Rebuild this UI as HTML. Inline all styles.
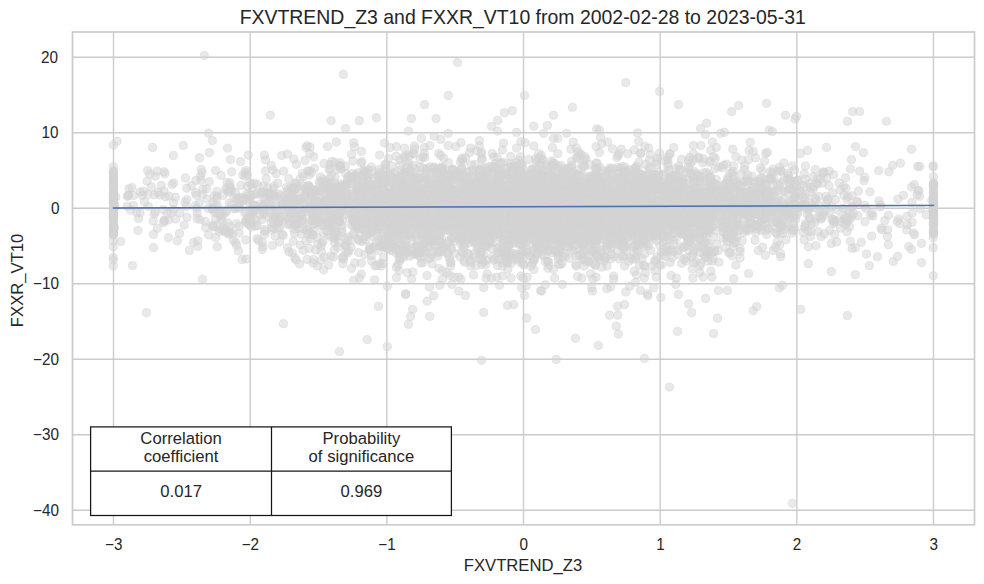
<!DOCTYPE html>
<html><head><meta charset="utf-8"><title>chart</title>
<style>
html,body{margin:0;padding:0;background:#fff;}
body{width:984px;height:584px;overflow:hidden;}
svg{display:block;font-family:"Liberation Sans",sans-serif;fill:#262626;}
</style></head><body>
<svg width="984" height="584" viewBox="0 0 984 584">
<rect width="984" height="584" fill="#fff"/>
<g stroke="#cccccc" stroke-width="1.39" fill="none"><line x1="113.50" y1="32.0" x2="113.50" y2="524.8"/><line x1="250.17" y1="32.0" x2="250.17" y2="524.8"/><line x1="386.83" y1="32.0" x2="386.83" y2="524.8"/><line x1="523.50" y1="32.0" x2="523.50" y2="524.8"/><line x1="660.17" y1="32.0" x2="660.17" y2="524.8"/><line x1="796.83" y1="32.0" x2="796.83" y2="524.8"/><line x1="933.50" y1="32.0" x2="933.50" y2="524.8"/><line x1="72.5" y1="57.30" x2="974.5" y2="57.30"/><line x1="72.5" y1="132.80" x2="974.5" y2="132.80"/><line x1="72.5" y1="208.30" x2="974.5" y2="208.30"/><line x1="72.5" y1="283.80" x2="974.5" y2="283.80"/><line x1="72.5" y1="359.30" x2="974.5" y2="359.30"/><line x1="72.5" y1="434.80" x2="974.5" y2="434.80"/><line x1="72.5" y1="510.30" x2="974.5" y2="510.30"/></g>
<g fill="#d3d3d3" fill-opacity=".5" stroke="#d3d3d3" stroke-opacity=".5" stroke-width="1"><circle cx="540.1" cy="202.3" r="4.1"/><circle cx="583.2" cy="235.9" r="4.1"/><circle cx="500.2" cy="223.3" r="4.1"/><circle cx="410.9" cy="235.0" r="4.1"/><circle cx="474.0" cy="235.6" r="4.1"/><circle cx="396.2" cy="221.8" r="4.1"/><circle cx="548.6" cy="228.2" r="4.1"/><circle cx="734.1" cy="195.6" r="4.1"/><circle cx="468.6" cy="189.8" r="4.1"/><circle cx="450.0" cy="212.2" r="4.1"/><circle cx="610.9" cy="231.2" r="4.1"/><circle cx="591.6" cy="189.6" r="4.1"/><circle cx="555.2" cy="250.7" r="4.1"/><circle cx="405.1" cy="248.7" r="4.1"/><circle cx="535.7" cy="191.3" r="4.1"/><circle cx="640.6" cy="192.8" r="4.1"/><circle cx="345.2" cy="185.9" r="4.1"/><circle cx="473.6" cy="211.7" r="4.1"/><circle cx="264.5" cy="234.3" r="4.1"/><circle cx="353.1" cy="218.0" r="4.1"/><circle cx="273.1" cy="194.7" r="4.1"/><circle cx="505.8" cy="223.6" r="4.1"/><circle cx="356.3" cy="222.2" r="4.1"/><circle cx="579.2" cy="237.1" r="4.1"/><circle cx="562.6" cy="232.1" r="4.1"/><circle cx="512.8" cy="188.8" r="4.1"/><circle cx="175.3" cy="197.2" r="4.1"/><circle cx="461.9" cy="232.1" r="4.1"/><circle cx="532.9" cy="230.3" r="4.1"/><circle cx="556.3" cy="219.1" r="4.1"/><circle cx="318.2" cy="195.2" r="4.1"/><circle cx="470.7" cy="232.2" r="4.1"/><circle cx="398.1" cy="210.6" r="4.1"/><circle cx="422.7" cy="253.3" r="4.1"/><circle cx="693.6" cy="234.2" r="4.1"/><circle cx="422.9" cy="197.9" r="4.1"/><circle cx="535.2" cy="187.6" r="4.1"/><circle cx="668.0" cy="232.0" r="4.1"/><circle cx="455.4" cy="223.7" r="4.1"/><circle cx="523.7" cy="189.8" r="4.1"/><circle cx="555.9" cy="215.4" r="4.1"/><circle cx="549.1" cy="218.7" r="4.1"/><circle cx="362.4" cy="195.8" r="4.1"/><circle cx="550.9" cy="202.8" r="4.1"/><circle cx="736.7" cy="183.0" r="4.1"/><circle cx="315.8" cy="189.8" r="4.1"/><circle cx="664.4" cy="219.4" r="4.1"/><circle cx="557.2" cy="209.6" r="4.1"/><circle cx="447.0" cy="208.3" r="4.1"/><circle cx="650.3" cy="228.0" r="4.1"/><circle cx="366.2" cy="186.0" r="4.1"/><circle cx="550.7" cy="241.3" r="4.1"/><circle cx="623.4" cy="185.5" r="4.1"/><circle cx="512.6" cy="200.8" r="4.1"/><circle cx="638.8" cy="210.0" r="4.1"/><circle cx="530.3" cy="195.3" r="4.1"/><circle cx="636.6" cy="196.7" r="4.1"/><circle cx="748.3" cy="180.8" r="4.1"/><circle cx="442.0" cy="215.6" r="4.1"/><circle cx="569.3" cy="211.9" r="4.1"/><circle cx="472.8" cy="212.3" r="4.1"/><circle cx="558.3" cy="166.3" r="4.1"/><circle cx="367.9" cy="186.5" r="4.1"/><circle cx="456.0" cy="226.9" r="4.1"/><circle cx="511.5" cy="214.1" r="4.1"/><circle cx="670.1" cy="222.2" r="4.1"/><circle cx="705.8" cy="206.6" r="4.1"/><circle cx="348.2" cy="202.3" r="4.1"/><circle cx="424.8" cy="157.4" r="4.1"/><circle cx="633.6" cy="246.3" r="4.1"/><circle cx="251.3" cy="184.7" r="4.1"/><circle cx="472.8" cy="197.5" r="4.1"/><circle cx="525.8" cy="222.1" r="4.1"/><circle cx="722.0" cy="210.1" r="4.1"/><circle cx="639.8" cy="217.6" r="4.1"/><circle cx="492.5" cy="205.8" r="4.1"/><circle cx="486.5" cy="185.2" r="4.1"/><circle cx="503.7" cy="239.7" r="4.1"/><circle cx="760.6" cy="178.5" r="4.1"/><circle cx="477.9" cy="214.9" r="4.1"/><circle cx="495.9" cy="174.4" r="4.1"/><circle cx="591.0" cy="198.0" r="4.1"/><circle cx="522.4" cy="180.2" r="4.1"/><circle cx="511.3" cy="194.6" r="4.1"/><circle cx="378.5" cy="183.4" r="4.1"/><circle cx="538.2" cy="205.6" r="4.1"/><circle cx="475.6" cy="224.8" r="4.1"/><circle cx="708.8" cy="192.3" r="4.1"/><circle cx="634.5" cy="191.5" r="4.1"/><circle cx="536.4" cy="161.5" r="4.1"/><circle cx="636.7" cy="250.0" r="4.1"/><circle cx="490.7" cy="211.1" r="4.1"/><circle cx="692.3" cy="183.9" r="4.1"/><circle cx="539.1" cy="233.8" r="4.1"/><circle cx="624.4" cy="211.7" r="4.1"/><circle cx="352.9" cy="161.1" r="4.1"/><circle cx="590.1" cy="176.2" r="4.1"/><circle cx="295.3" cy="225.7" r="4.1"/><circle cx="245.0" cy="176.0" r="4.1"/><circle cx="495.8" cy="181.2" r="4.1"/><circle cx="409.5" cy="190.0" r="4.1"/><circle cx="563.7" cy="198.5" r="4.1"/><circle cx="419.4" cy="225.5" r="4.1"/><circle cx="449.5" cy="217.9" r="4.1"/><circle cx="569.7" cy="190.9" r="4.1"/><circle cx="611.3" cy="203.7" r="4.1"/><circle cx="514.3" cy="166.8" r="4.1"/><circle cx="510.1" cy="213.9" r="4.1"/><circle cx="641.7" cy="258.4" r="4.1"/><circle cx="615.2" cy="213.9" r="4.1"/><circle cx="390.2" cy="200.7" r="4.1"/><circle cx="528.4" cy="198.4" r="4.1"/><circle cx="545.0" cy="205.2" r="4.1"/><circle cx="387.1" cy="224.4" r="4.1"/><circle cx="577.5" cy="174.4" r="4.1"/><circle cx="415.6" cy="221.0" r="4.1"/><circle cx="680.7" cy="191.3" r="4.1"/><circle cx="567.8" cy="212.8" r="4.1"/><circle cx="552.8" cy="232.4" r="4.1"/><circle cx="454.3" cy="176.2" r="4.1"/><circle cx="522.7" cy="260.7" r="4.1"/><circle cx="250.5" cy="225.0" r="4.1"/><circle cx="376.0" cy="197.3" r="4.1"/><circle cx="592.5" cy="214.3" r="4.1"/><circle cx="231.5" cy="190.4" r="4.1"/><circle cx="662.5" cy="208.7" r="4.1"/><circle cx="286.9" cy="216.3" r="4.1"/><circle cx="649.5" cy="160.0" r="4.1"/><circle cx="417.4" cy="211.3" r="4.1"/><circle cx="652.8" cy="210.0" r="4.1"/><circle cx="558.9" cy="229.9" r="4.1"/><circle cx="317.3" cy="222.6" r="4.1"/><circle cx="720.9" cy="192.5" r="4.1"/><circle cx="748.8" cy="194.4" r="4.1"/><circle cx="530.4" cy="206.5" r="4.1"/><circle cx="500.2" cy="221.6" r="4.1"/><circle cx="516.7" cy="191.7" r="4.1"/><circle cx="398.6" cy="243.2" r="4.1"/><circle cx="699.0" cy="213.8" r="4.1"/><circle cx="461.3" cy="211.9" r="4.1"/><circle cx="532.5" cy="224.7" r="4.1"/><circle cx="425.0" cy="203.2" r="4.1"/><circle cx="449.2" cy="220.8" r="4.1"/><circle cx="354.8" cy="223.7" r="4.1"/><circle cx="722.0" cy="167.6" r="4.1"/><circle cx="517.6" cy="190.4" r="4.1"/><circle cx="679.8" cy="180.6" r="4.1"/><circle cx="541.8" cy="205.3" r="4.1"/><circle cx="439.3" cy="185.6" r="4.1"/><circle cx="492.6" cy="189.5" r="4.1"/><circle cx="458.7" cy="180.2" r="4.1"/><circle cx="541.1" cy="155.3" r="4.1"/><circle cx="485.5" cy="211.2" r="4.1"/><circle cx="496.5" cy="200.7" r="4.1"/><circle cx="340.2" cy="207.4" r="4.1"/><circle cx="442.7" cy="205.8" r="4.1"/><circle cx="387.2" cy="192.6" r="4.1"/><circle cx="588.8" cy="218.6" r="4.1"/><circle cx="743.8" cy="181.8" r="4.1"/><circle cx="329.3" cy="178.6" r="4.1"/><circle cx="509.7" cy="215.1" r="4.1"/><circle cx="448.3" cy="175.5" r="4.1"/><circle cx="646.4" cy="196.2" r="4.1"/><circle cx="536.5" cy="227.3" r="4.1"/><circle cx="550.2" cy="174.5" r="4.1"/><circle cx="430.9" cy="209.6" r="4.1"/><circle cx="605.8" cy="214.2" r="4.1"/><circle cx="461.8" cy="203.6" r="4.1"/><circle cx="519.2" cy="217.7" r="4.1"/><circle cx="379.3" cy="183.0" r="4.1"/><circle cx="363.7" cy="189.3" r="4.1"/><circle cx="733.4" cy="179.8" r="4.1"/><circle cx="466.4" cy="193.5" r="4.1"/><circle cx="582.2" cy="223.1" r="4.1"/><circle cx="535.0" cy="209.5" r="4.1"/><circle cx="476.0" cy="187.2" r="4.1"/><circle cx="466.3" cy="214.8" r="4.1"/><circle cx="496.2" cy="211.2" r="4.1"/><circle cx="518.0" cy="218.7" r="4.1"/><circle cx="543.1" cy="181.3" r="4.1"/><circle cx="710.3" cy="189.9" r="4.1"/><circle cx="638.5" cy="206.6" r="4.1"/><circle cx="595.3" cy="211.0" r="4.1"/><circle cx="458.3" cy="196.9" r="4.1"/><circle cx="339.7" cy="188.1" r="4.1"/><circle cx="677.5" cy="189.6" r="4.1"/><circle cx="679.9" cy="212.5" r="4.1"/><circle cx="519.5" cy="196.7" r="4.1"/><circle cx="618.4" cy="187.9" r="4.1"/><circle cx="653.1" cy="189.6" r="4.1"/><circle cx="673.4" cy="225.2" r="4.1"/><circle cx="473.9" cy="222.7" r="4.1"/><circle cx="759.4" cy="211.0" r="4.1"/><circle cx="359.3" cy="202.2" r="4.1"/><circle cx="664.7" cy="186.2" r="4.1"/><circle cx="611.5" cy="192.7" r="4.1"/><circle cx="666.5" cy="208.8" r="4.1"/><circle cx="812.1" cy="205.5" r="4.1"/><circle cx="374.0" cy="219.2" r="4.1"/><circle cx="295.3" cy="199.5" r="4.1"/><circle cx="658.2" cy="172.3" r="4.1"/><circle cx="392.9" cy="198.6" r="4.1"/><circle cx="538.1" cy="250.0" r="4.1"/><circle cx="661.5" cy="198.0" r="4.1"/><circle cx="301.8" cy="214.4" r="4.1"/><circle cx="234.2" cy="208.5" r="4.1"/><circle cx="577.5" cy="183.4" r="4.1"/><circle cx="546.3" cy="195.9" r="4.1"/><circle cx="504.3" cy="211.7" r="4.1"/><circle cx="545.5" cy="186.8" r="4.1"/><circle cx="415.2" cy="196.7" r="4.1"/><circle cx="320.6" cy="203.8" r="4.1"/><circle cx="515.8" cy="199.6" r="4.1"/><circle cx="399.1" cy="200.6" r="4.1"/><circle cx="301.8" cy="213.3" r="4.1"/><circle cx="613.2" cy="215.9" r="4.1"/><circle cx="531.0" cy="205.5" r="4.1"/><circle cx="598.8" cy="226.6" r="4.1"/><circle cx="396.6" cy="233.1" r="4.1"/><circle cx="444.6" cy="178.0" r="4.1"/><circle cx="395.2" cy="211.2" r="4.1"/><circle cx="411.5" cy="206.6" r="4.1"/><circle cx="568.2" cy="208.9" r="4.1"/><circle cx="426.5" cy="205.5" r="4.1"/><circle cx="591.5" cy="205.5" r="4.1"/><circle cx="589.1" cy="204.6" r="4.1"/><circle cx="833.3" cy="223.4" r="4.1"/><circle cx="338.1" cy="186.0" r="4.1"/><circle cx="668.5" cy="220.9" r="4.1"/><circle cx="526.9" cy="183.8" r="4.1"/><circle cx="537.9" cy="247.3" r="4.1"/><circle cx="329.9" cy="228.9" r="4.1"/><circle cx="473.2" cy="184.7" r="4.1"/><circle cx="647.6" cy="209.2" r="4.1"/><circle cx="528.0" cy="220.5" r="4.1"/><circle cx="551.6" cy="198.0" r="4.1"/><circle cx="497.8" cy="228.5" r="4.1"/><circle cx="707.2" cy="204.4" r="4.1"/><circle cx="536.8" cy="253.7" r="4.1"/><circle cx="221.1" cy="215.8" r="4.1"/><circle cx="439.6" cy="220.0" r="4.1"/><circle cx="254.7" cy="194.4" r="4.1"/><circle cx="113.5" cy="187.2" r="4.1"/><circle cx="463.1" cy="224.4" r="4.1"/><circle cx="733.1" cy="171.4" r="4.1"/><circle cx="546.7" cy="218.8" r="4.1"/><circle cx="370.0" cy="250.3" r="4.1"/><circle cx="403.6" cy="257.2" r="4.1"/><circle cx="703.7" cy="172.9" r="4.1"/><circle cx="562.7" cy="207.9" r="4.1"/><circle cx="546.9" cy="220.0" r="4.1"/><circle cx="532.2" cy="222.1" r="4.1"/><circle cx="545.5" cy="229.5" r="4.1"/><circle cx="656.6" cy="176.9" r="4.1"/><circle cx="619.9" cy="207.8" r="4.1"/><circle cx="571.1" cy="167.5" r="4.1"/><circle cx="388.8" cy="210.3" r="4.1"/><circle cx="613.9" cy="256.6" r="4.1"/><circle cx="440.8" cy="187.9" r="4.1"/><circle cx="698.4" cy="214.0" r="4.1"/><circle cx="355.8" cy="211.1" r="4.1"/><circle cx="520.0" cy="172.3" r="4.1"/><circle cx="538.8" cy="211.7" r="4.1"/><circle cx="348.0" cy="181.0" r="4.1"/><circle cx="789.4" cy="206.1" r="4.1"/><circle cx="751.5" cy="222.2" r="4.1"/><circle cx="472.7" cy="195.1" r="4.1"/><circle cx="651.7" cy="219.0" r="4.1"/><circle cx="594.8" cy="179.6" r="4.1"/><circle cx="161.3" cy="185.4" r="4.1"/><circle cx="576.2" cy="204.7" r="4.1"/><circle cx="531.0" cy="192.9" r="4.1"/><circle cx="552.0" cy="193.9" r="4.1"/><circle cx="383.9" cy="212.0" r="4.1"/><circle cx="500.9" cy="186.8" r="4.1"/><circle cx="514.1" cy="210.9" r="4.1"/><circle cx="712.0" cy="192.8" r="4.1"/><circle cx="588.3" cy="226.5" r="4.1"/><circle cx="539.1" cy="203.8" r="4.1"/><circle cx="761.4" cy="197.1" r="4.1"/><circle cx="459.5" cy="223.0" r="4.1"/><circle cx="483.5" cy="215.0" r="4.1"/><circle cx="276.7" cy="217.5" r="4.1"/><circle cx="767.2" cy="190.3" r="4.1"/><circle cx="679.6" cy="221.5" r="4.1"/><circle cx="672.7" cy="196.5" r="4.1"/><circle cx="636.8" cy="173.1" r="4.1"/><circle cx="555.9" cy="198.3" r="4.1"/><circle cx="571.1" cy="240.6" r="4.1"/><circle cx="503.4" cy="203.2" r="4.1"/><circle cx="510.4" cy="183.5" r="4.1"/><circle cx="547.8" cy="212.1" r="4.1"/><circle cx="758.9" cy="182.0" r="4.1"/><circle cx="620.4" cy="192.6" r="4.1"/><circle cx="531.4" cy="196.8" r="4.1"/><circle cx="456.0" cy="211.5" r="4.1"/><circle cx="447.9" cy="216.9" r="4.1"/><circle cx="772.1" cy="211.4" r="4.1"/><circle cx="613.3" cy="204.5" r="4.1"/><circle cx="549.7" cy="194.6" r="4.1"/><circle cx="489.7" cy="196.8" r="4.1"/><circle cx="379.2" cy="212.3" r="4.1"/><circle cx="530.2" cy="204.4" r="4.1"/><circle cx="666.5" cy="197.5" r="4.1"/><circle cx="483.0" cy="240.8" r="4.1"/><circle cx="507.0" cy="222.3" r="4.1"/><circle cx="507.9" cy="223.0" r="4.1"/><circle cx="555.8" cy="210.2" r="4.1"/><circle cx="309.1" cy="211.7" r="4.1"/><circle cx="505.8" cy="211.3" r="4.1"/><circle cx="416.1" cy="224.5" r="4.1"/><circle cx="668.0" cy="191.3" r="4.1"/><circle cx="428.3" cy="199.8" r="4.1"/><circle cx="623.5" cy="241.1" r="4.1"/><circle cx="760.7" cy="205.4" r="4.1"/><circle cx="494.5" cy="230.0" r="4.1"/><circle cx="452.8" cy="169.1" r="4.1"/><circle cx="567.6" cy="215.5" r="4.1"/><circle cx="539.6" cy="214.2" r="4.1"/><circle cx="396.0" cy="203.9" r="4.1"/><circle cx="606.7" cy="210.0" r="4.1"/><circle cx="831.9" cy="206.9" r="4.1"/><circle cx="502.5" cy="172.4" r="4.1"/><circle cx="510.5" cy="200.8" r="4.1"/><circle cx="388.5" cy="187.7" r="4.1"/><circle cx="586.1" cy="181.4" r="4.1"/><circle cx="359.3" cy="226.6" r="4.1"/><circle cx="379.5" cy="169.3" r="4.1"/><circle cx="725.3" cy="190.9" r="4.1"/><circle cx="408.7" cy="185.1" r="4.1"/><circle cx="696.6" cy="224.2" r="4.1"/><circle cx="760.7" cy="188.1" r="4.1"/><circle cx="577.5" cy="196.8" r="4.1"/><circle cx="620.1" cy="217.2" r="4.1"/><circle cx="511.4" cy="193.4" r="4.1"/><circle cx="454.0" cy="210.8" r="4.1"/><circle cx="343.9" cy="201.5" r="4.1"/><circle cx="545.9" cy="186.1" r="4.1"/><circle cx="754.2" cy="181.3" r="4.1"/><circle cx="678.9" cy="193.1" r="4.1"/><circle cx="403.4" cy="179.4" r="4.1"/><circle cx="416.0" cy="174.0" r="4.1"/><circle cx="466.9" cy="232.2" r="4.1"/><circle cx="582.2" cy="216.1" r="4.1"/><circle cx="510.2" cy="225.8" r="4.1"/><circle cx="571.0" cy="203.5" r="4.1"/><circle cx="582.9" cy="174.6" r="4.1"/><circle cx="496.6" cy="191.6" r="4.1"/><circle cx="534.1" cy="228.1" r="4.1"/><circle cx="569.8" cy="211.9" r="4.1"/><circle cx="527.7" cy="183.5" r="4.1"/><circle cx="612.8" cy="217.0" r="4.1"/><circle cx="810.9" cy="207.7" r="4.1"/><circle cx="625.7" cy="199.1" r="4.1"/><circle cx="548.0" cy="244.8" r="4.1"/><circle cx="295.6" cy="188.8" r="4.1"/><circle cx="596.1" cy="198.2" r="4.1"/><circle cx="257.9" cy="193.4" r="4.1"/><circle cx="335.8" cy="226.7" r="4.1"/><circle cx="663.7" cy="222.1" r="4.1"/><circle cx="642.2" cy="218.4" r="4.1"/><circle cx="518.2" cy="200.2" r="4.1"/><circle cx="292.2" cy="204.1" r="4.1"/><circle cx="486.1" cy="202.9" r="4.1"/><circle cx="441.6" cy="167.1" r="4.1"/><circle cx="632.2" cy="177.5" r="4.1"/><circle cx="571.3" cy="219.7" r="4.1"/><circle cx="427.0" cy="168.7" r="4.1"/><circle cx="370.3" cy="212.4" r="4.1"/><circle cx="531.8" cy="175.9" r="4.1"/><circle cx="514.3" cy="171.2" r="4.1"/><circle cx="373.1" cy="217.3" r="4.1"/><circle cx="556.8" cy="211.4" r="4.1"/><circle cx="373.2" cy="203.8" r="4.1"/><circle cx="701.0" cy="224.2" r="4.1"/><circle cx="693.8" cy="226.6" r="4.1"/><circle cx="697.0" cy="214.2" r="4.1"/><circle cx="471.2" cy="187.3" r="4.1"/><circle cx="614.4" cy="215.2" r="4.1"/><circle cx="520.8" cy="210.0" r="4.1"/><circle cx="483.6" cy="215.6" r="4.1"/><circle cx="490.8" cy="235.0" r="4.1"/><circle cx="351.6" cy="173.7" r="4.1"/><circle cx="330.7" cy="256.0" r="4.1"/><circle cx="655.0" cy="219.7" r="4.1"/><circle cx="512.2" cy="193.6" r="4.1"/><circle cx="571.3" cy="235.6" r="4.1"/><circle cx="685.0" cy="192.6" r="4.1"/><circle cx="288.8" cy="178.7" r="4.1"/><circle cx="426.3" cy="224.1" r="4.1"/><circle cx="565.3" cy="201.1" r="4.1"/><circle cx="596.7" cy="229.5" r="4.1"/><circle cx="485.3" cy="194.7" r="4.1"/><circle cx="689.0" cy="203.7" r="4.1"/><circle cx="570.4" cy="201.0" r="4.1"/><circle cx="364.1" cy="176.2" r="4.1"/><circle cx="405.1" cy="195.5" r="4.1"/><circle cx="656.6" cy="176.7" r="4.1"/><circle cx="607.1" cy="192.0" r="4.1"/><circle cx="264.8" cy="231.4" r="4.1"/><circle cx="735.1" cy="200.0" r="4.1"/><circle cx="626.5" cy="195.1" r="4.1"/><circle cx="734.5" cy="236.7" r="4.1"/><circle cx="484.3" cy="176.9" r="4.1"/><circle cx="497.1" cy="204.2" r="4.1"/><circle cx="376.7" cy="197.7" r="4.1"/><circle cx="907.4" cy="224.9" r="4.1"/><circle cx="514.5" cy="204.1" r="4.1"/><circle cx="769.9" cy="199.2" r="4.1"/><circle cx="446.1" cy="212.6" r="4.1"/><circle cx="563.6" cy="203.9" r="4.1"/><circle cx="484.4" cy="176.3" r="4.1"/><circle cx="682.4" cy="229.6" r="4.1"/><circle cx="358.6" cy="252.6" r="4.1"/><circle cx="695.2" cy="226.3" r="4.1"/><circle cx="588.8" cy="223.6" r="4.1"/><circle cx="388.7" cy="193.9" r="4.1"/><circle cx="467.2" cy="225.3" r="4.1"/><circle cx="473.4" cy="199.5" r="4.1"/><circle cx="532.7" cy="226.3" r="4.1"/><circle cx="462.2" cy="158.1" r="4.1"/><circle cx="420.1" cy="193.9" r="4.1"/><circle cx="495.8" cy="163.5" r="4.1"/><circle cx="391.1" cy="227.5" r="4.1"/><circle cx="353.1" cy="191.4" r="4.1"/><circle cx="532.9" cy="226.2" r="4.1"/><circle cx="667.8" cy="193.2" r="4.1"/><circle cx="318.3" cy="191.1" r="4.1"/><circle cx="540.4" cy="240.0" r="4.1"/><circle cx="445.7" cy="230.1" r="4.1"/><circle cx="398.3" cy="230.8" r="4.1"/><circle cx="663.5" cy="238.0" r="4.1"/><circle cx="464.8" cy="221.4" r="4.1"/><circle cx="757.0" cy="226.3" r="4.1"/><circle cx="426.9" cy="236.8" r="4.1"/><circle cx="595.9" cy="203.6" r="4.1"/><circle cx="507.0" cy="194.0" r="4.1"/><circle cx="430.7" cy="234.0" r="4.1"/><circle cx="625.0" cy="217.7" r="4.1"/><circle cx="517.4" cy="205.6" r="4.1"/><circle cx="627.3" cy="210.7" r="4.1"/><circle cx="533.0" cy="220.8" r="4.1"/><circle cx="382.6" cy="188.3" r="4.1"/><circle cx="525.1" cy="187.5" r="4.1"/><circle cx="547.4" cy="191.1" r="4.1"/><circle cx="678.7" cy="210.2" r="4.1"/><circle cx="408.6" cy="163.0" r="4.1"/><circle cx="534.2" cy="168.3" r="4.1"/><circle cx="290.5" cy="214.4" r="4.1"/><circle cx="634.3" cy="208.4" r="4.1"/><circle cx="383.2" cy="180.2" r="4.1"/><circle cx="278.2" cy="223.0" r="4.1"/><circle cx="531.3" cy="197.2" r="4.1"/><circle cx="700.1" cy="204.8" r="4.1"/><circle cx="319.1" cy="220.9" r="4.1"/><circle cx="382.3" cy="210.8" r="4.1"/><circle cx="432.2" cy="239.6" r="4.1"/><circle cx="376.3" cy="217.5" r="4.1"/><circle cx="594.9" cy="248.8" r="4.1"/><circle cx="422.9" cy="156.8" r="4.1"/><circle cx="435.4" cy="173.4" r="4.1"/><circle cx="624.4" cy="179.4" r="4.1"/><circle cx="430.5" cy="199.3" r="4.1"/><circle cx="602.6" cy="184.4" r="4.1"/><circle cx="399.2" cy="178.5" r="4.1"/><circle cx="364.3" cy="184.0" r="4.1"/><circle cx="274.0" cy="186.1" r="4.1"/><circle cx="493.5" cy="196.7" r="4.1"/><circle cx="575.2" cy="217.4" r="4.1"/><circle cx="535.4" cy="231.3" r="4.1"/><circle cx="563.1" cy="230.5" r="4.1"/><circle cx="547.1" cy="196.7" r="4.1"/><circle cx="816.3" cy="183.3" r="4.1"/><circle cx="389.4" cy="235.3" r="4.1"/><circle cx="314.3" cy="168.4" r="4.1"/><circle cx="393.3" cy="174.3" r="4.1"/><circle cx="346.5" cy="214.1" r="4.1"/><circle cx="648.1" cy="215.9" r="4.1"/><circle cx="658.7" cy="207.5" r="4.1"/><circle cx="400.6" cy="184.8" r="4.1"/><circle cx="338.5" cy="214.2" r="4.1"/><circle cx="488.5" cy="229.8" r="4.1"/><circle cx="741.4" cy="198.6" r="4.1"/><circle cx="616.2" cy="203.0" r="4.1"/><circle cx="384.1" cy="181.1" r="4.1"/><circle cx="690.6" cy="199.4" r="4.1"/><circle cx="383.7" cy="189.2" r="4.1"/><circle cx="498.6" cy="195.4" r="4.1"/><circle cx="321.7" cy="190.4" r="4.1"/><circle cx="398.3" cy="202.9" r="4.1"/><circle cx="740.7" cy="223.9" r="4.1"/><circle cx="658.8" cy="210.9" r="4.1"/><circle cx="481.7" cy="207.6" r="4.1"/><circle cx="413.8" cy="178.9" r="4.1"/><circle cx="265.5" cy="171.0" r="4.1"/><circle cx="482.9" cy="197.0" r="4.1"/><circle cx="535.4" cy="222.2" r="4.1"/><circle cx="527.7" cy="221.7" r="4.1"/><circle cx="526.3" cy="210.1" r="4.1"/><circle cx="377.4" cy="176.2" r="4.1"/><circle cx="530.3" cy="198.8" r="4.1"/><circle cx="534.3" cy="207.2" r="4.1"/><circle cx="726.9" cy="222.5" r="4.1"/><circle cx="810.3" cy="187.0" r="4.1"/><circle cx="520.1" cy="199.8" r="4.1"/><circle cx="428.9" cy="207.1" r="4.1"/><circle cx="530.5" cy="203.8" r="4.1"/><circle cx="451.9" cy="169.7" r="4.1"/><circle cx="432.3" cy="209.5" r="4.1"/><circle cx="531.4" cy="169.7" r="4.1"/><circle cx="388.8" cy="179.3" r="4.1"/><circle cx="627.7" cy="204.9" r="4.1"/><circle cx="524.8" cy="187.0" r="4.1"/><circle cx="576.1" cy="208.7" r="4.1"/><circle cx="513.4" cy="223.9" r="4.1"/><circle cx="434.5" cy="211.8" r="4.1"/><circle cx="402.6" cy="225.6" r="4.1"/><circle cx="505.5" cy="195.0" r="4.1"/><circle cx="460.4" cy="205.7" r="4.1"/><circle cx="573.8" cy="193.8" r="4.1"/><circle cx="539.3" cy="188.2" r="4.1"/><circle cx="549.6" cy="199.3" r="4.1"/><circle cx="345.4" cy="244.8" r="4.1"/><circle cx="450.6" cy="202.4" r="4.1"/><circle cx="497.3" cy="224.9" r="4.1"/><circle cx="239.3" cy="203.8" r="4.1"/><circle cx="553.2" cy="176.7" r="4.1"/><circle cx="561.8" cy="242.8" r="4.1"/><circle cx="517.0" cy="201.9" r="4.1"/><circle cx="478.4" cy="207.7" r="4.1"/><circle cx="485.8" cy="246.8" r="4.1"/><circle cx="398.4" cy="192.1" r="4.1"/><circle cx="500.8" cy="205.3" r="4.1"/><circle cx="459.8" cy="217.0" r="4.1"/><circle cx="553.2" cy="221.6" r="4.1"/><circle cx="574.0" cy="214.5" r="4.1"/><circle cx="560.6" cy="244.8" r="4.1"/><circle cx="519.4" cy="226.1" r="4.1"/><circle cx="476.3" cy="213.9" r="4.1"/><circle cx="619.9" cy="214.3" r="4.1"/><circle cx="298.8" cy="207.7" r="4.1"/><circle cx="606.6" cy="228.6" r="4.1"/><circle cx="575.1" cy="194.4" r="4.1"/><circle cx="581.0" cy="216.4" r="4.1"/><circle cx="595.4" cy="235.3" r="4.1"/><circle cx="445.2" cy="223.6" r="4.1"/><circle cx="502.3" cy="214.3" r="4.1"/><circle cx="632.2" cy="187.8" r="4.1"/><circle cx="602.3" cy="195.6" r="4.1"/><circle cx="569.8" cy="213.3" r="4.1"/><circle cx="320.5" cy="205.6" r="4.1"/><circle cx="617.8" cy="201.4" r="4.1"/><circle cx="709.3" cy="162.2" r="4.1"/><circle cx="686.2" cy="219.3" r="4.1"/><circle cx="573.8" cy="196.0" r="4.1"/><circle cx="314.2" cy="190.4" r="4.1"/><circle cx="676.4" cy="226.5" r="4.1"/><circle cx="518.6" cy="202.0" r="4.1"/><circle cx="594.5" cy="216.1" r="4.1"/><circle cx="323.7" cy="193.8" r="4.1"/><circle cx="352.1" cy="183.9" r="4.1"/><circle cx="447.9" cy="181.7" r="4.1"/><circle cx="724.3" cy="210.2" r="4.1"/><circle cx="486.2" cy="201.9" r="4.1"/><circle cx="579.2" cy="155.5" r="4.1"/><circle cx="793.1" cy="229.8" r="4.1"/><circle cx="770.8" cy="201.3" r="4.1"/><circle cx="524.9" cy="186.9" r="4.1"/><circle cx="504.9" cy="202.8" r="4.1"/><circle cx="357.2" cy="191.9" r="4.1"/><circle cx="439.3" cy="202.3" r="4.1"/><circle cx="601.5" cy="189.8" r="4.1"/><circle cx="597.2" cy="178.4" r="4.1"/><circle cx="555.9" cy="210.8" r="4.1"/><circle cx="684.0" cy="201.8" r="4.1"/><circle cx="428.0" cy="207.2" r="4.1"/><circle cx="531.8" cy="214.7" r="4.1"/><circle cx="645.8" cy="206.5" r="4.1"/><circle cx="624.5" cy="230.4" r="4.1"/><circle cx="695.0" cy="190.0" r="4.1"/><circle cx="597.4" cy="169.4" r="4.1"/><circle cx="495.1" cy="169.4" r="4.1"/><circle cx="592.4" cy="178.6" r="4.1"/><circle cx="394.7" cy="226.8" r="4.1"/><circle cx="302.4" cy="173.3" r="4.1"/><circle cx="624.0" cy="221.4" r="4.1"/><circle cx="531.9" cy="207.2" r="4.1"/><circle cx="584.6" cy="166.3" r="4.1"/><circle cx="294.0" cy="229.1" r="4.1"/><circle cx="487.0" cy="187.9" r="4.1"/><circle cx="453.0" cy="200.0" r="4.1"/><circle cx="414.7" cy="209.3" r="4.1"/><circle cx="213.2" cy="224.9" r="4.1"/><circle cx="491.4" cy="196.9" r="4.1"/><circle cx="669.9" cy="216.0" r="4.1"/><circle cx="595.1" cy="183.5" r="4.1"/><circle cx="452.8" cy="179.7" r="4.1"/><circle cx="537.7" cy="235.7" r="4.1"/><circle cx="649.5" cy="216.9" r="4.1"/><circle cx="140.0" cy="212.9" r="4.1"/><circle cx="521.9" cy="231.5" r="4.1"/><circle cx="618.6" cy="230.1" r="4.1"/><circle cx="638.7" cy="204.1" r="4.1"/><circle cx="786.3" cy="210.5" r="4.1"/><circle cx="704.3" cy="241.6" r="4.1"/><circle cx="585.2" cy="217.6" r="4.1"/><circle cx="583.6" cy="194.9" r="4.1"/><circle cx="653.9" cy="232.0" r="4.1"/><circle cx="461.8" cy="225.9" r="4.1"/><circle cx="534.1" cy="171.9" r="4.1"/><circle cx="671.2" cy="177.7" r="4.1"/><circle cx="516.8" cy="235.1" r="4.1"/><circle cx="532.9" cy="197.9" r="4.1"/><circle cx="568.7" cy="231.7" r="4.1"/><circle cx="734.5" cy="211.5" r="4.1"/><circle cx="535.5" cy="215.7" r="4.1"/><circle cx="752.8" cy="194.0" r="4.1"/><circle cx="399.9" cy="260.4" r="4.1"/><circle cx="512.9" cy="253.4" r="4.1"/><circle cx="511.2" cy="232.4" r="4.1"/><circle cx="653.8" cy="184.2" r="4.1"/><circle cx="691.3" cy="209.4" r="4.1"/><circle cx="321.2" cy="242.8" r="4.1"/><circle cx="407.3" cy="195.4" r="4.1"/><circle cx="588.7" cy="190.8" r="4.1"/><circle cx="444.5" cy="211.3" r="4.1"/><circle cx="319.4" cy="213.1" r="4.1"/><circle cx="690.3" cy="196.6" r="4.1"/><circle cx="611.5" cy="180.0" r="4.1"/><circle cx="611.3" cy="202.8" r="4.1"/><circle cx="471.0" cy="194.6" r="4.1"/><circle cx="689.0" cy="207.1" r="4.1"/><circle cx="505.1" cy="214.2" r="4.1"/><circle cx="698.7" cy="225.7" r="4.1"/><circle cx="407.8" cy="200.5" r="4.1"/><circle cx="416.2" cy="212.5" r="4.1"/><circle cx="569.5" cy="211.3" r="4.1"/><circle cx="438.2" cy="186.0" r="4.1"/><circle cx="637.8" cy="195.5" r="4.1"/><circle cx="577.6" cy="187.3" r="4.1"/><circle cx="406.2" cy="239.9" r="4.1"/><circle cx="550.5" cy="194.0" r="4.1"/><circle cx="489.0" cy="218.7" r="4.1"/><circle cx="672.6" cy="223.4" r="4.1"/><circle cx="448.3" cy="224.4" r="4.1"/><circle cx="476.3" cy="180.0" r="4.1"/><circle cx="715.4" cy="188.2" r="4.1"/><circle cx="829.5" cy="230.5" r="4.1"/><circle cx="549.1" cy="205.7" r="4.1"/><circle cx="571.6" cy="215.9" r="4.1"/><circle cx="762.0" cy="170.3" r="4.1"/><circle cx="521.9" cy="237.5" r="4.1"/><circle cx="398.5" cy="245.4" r="4.1"/><circle cx="556.8" cy="211.5" r="4.1"/><circle cx="605.3" cy="205.8" r="4.1"/><circle cx="419.8" cy="203.2" r="4.1"/><circle cx="301.4" cy="189.8" r="4.1"/><circle cx="331.8" cy="161.4" r="4.1"/><circle cx="636.3" cy="213.4" r="4.1"/><circle cx="430.0" cy="217.7" r="4.1"/><circle cx="519.4" cy="243.9" r="4.1"/><circle cx="570.7" cy="200.8" r="4.1"/><circle cx="629.6" cy="187.7" r="4.1"/><circle cx="491.4" cy="211.6" r="4.1"/><circle cx="612.1" cy="180.6" r="4.1"/><circle cx="411.0" cy="205.4" r="4.1"/><circle cx="487.5" cy="173.4" r="4.1"/><circle cx="391.5" cy="198.9" r="4.1"/><circle cx="703.9" cy="228.8" r="4.1"/><circle cx="536.0" cy="219.7" r="4.1"/><circle cx="432.8" cy="239.0" r="4.1"/><circle cx="488.9" cy="243.4" r="4.1"/><circle cx="507.8" cy="200.3" r="4.1"/><circle cx="641.4" cy="187.3" r="4.1"/><circle cx="389.6" cy="207.2" r="4.1"/><circle cx="485.1" cy="211.1" r="4.1"/><circle cx="906.7" cy="229.9" r="4.1"/><circle cx="678.3" cy="184.8" r="4.1"/><circle cx="523.8" cy="197.7" r="4.1"/><circle cx="643.0" cy="218.8" r="4.1"/><circle cx="506.0" cy="194.0" r="4.1"/><circle cx="486.8" cy="246.3" r="4.1"/><circle cx="715.5" cy="190.1" r="4.1"/><circle cx="611.5" cy="203.1" r="4.1"/><circle cx="637.2" cy="214.5" r="4.1"/><circle cx="466.3" cy="215.0" r="4.1"/><circle cx="787.6" cy="173.0" r="4.1"/><circle cx="621.9" cy="166.7" r="4.1"/><circle cx="639.0" cy="230.8" r="4.1"/><circle cx="246.2" cy="220.1" r="4.1"/><circle cx="632.3" cy="186.6" r="4.1"/><circle cx="511.8" cy="232.0" r="4.1"/><circle cx="602.8" cy="221.5" r="4.1"/><circle cx="638.8" cy="244.9" r="4.1"/><circle cx="490.5" cy="166.2" r="4.1"/><circle cx="295.0" cy="183.2" r="4.1"/><circle cx="593.2" cy="196.2" r="4.1"/><circle cx="432.5" cy="201.3" r="4.1"/><circle cx="492.1" cy="215.0" r="4.1"/><circle cx="452.3" cy="214.6" r="4.1"/><circle cx="490.4" cy="192.8" r="4.1"/><circle cx="205.3" cy="221.4" r="4.1"/><circle cx="716.2" cy="179.6" r="4.1"/><circle cx="576.6" cy="216.6" r="4.1"/><circle cx="700.9" cy="224.8" r="4.1"/><circle cx="826.7" cy="178.1" r="4.1"/><circle cx="543.2" cy="209.1" r="4.1"/><circle cx="278.8" cy="194.1" r="4.1"/><circle cx="410.4" cy="215.0" r="4.1"/><circle cx="365.1" cy="254.5" r="4.1"/><circle cx="467.2" cy="194.3" r="4.1"/><circle cx="551.4" cy="235.0" r="4.1"/><circle cx="249.8" cy="182.7" r="4.1"/><circle cx="589.5" cy="239.4" r="4.1"/><circle cx="321.1" cy="246.2" r="4.1"/><circle cx="583.0" cy="199.4" r="4.1"/><circle cx="524.0" cy="196.9" r="4.1"/><circle cx="494.5" cy="203.7" r="4.1"/><circle cx="529.3" cy="232.1" r="4.1"/><circle cx="461.7" cy="186.9" r="4.1"/><circle cx="451.2" cy="237.6" r="4.1"/><circle cx="296.1" cy="216.0" r="4.1"/><circle cx="535.6" cy="223.0" r="4.1"/><circle cx="807.3" cy="214.2" r="4.1"/><circle cx="731.4" cy="219.7" r="4.1"/><circle cx="642.1" cy="193.9" r="4.1"/><circle cx="441.9" cy="191.1" r="4.1"/><circle cx="531.8" cy="231.1" r="4.1"/><circle cx="529.9" cy="214.3" r="4.1"/><circle cx="497.7" cy="218.8" r="4.1"/><circle cx="553.2" cy="199.4" r="4.1"/><circle cx="476.9" cy="247.6" r="4.1"/><circle cx="527.8" cy="190.5" r="4.1"/><circle cx="382.8" cy="190.0" r="4.1"/><circle cx="485.8" cy="209.7" r="4.1"/><circle cx="529.8" cy="205.9" r="4.1"/><circle cx="505.3" cy="217.6" r="4.1"/><circle cx="617.0" cy="193.8" r="4.1"/><circle cx="642.5" cy="207.9" r="4.1"/><circle cx="378.6" cy="190.4" r="4.1"/><circle cx="509.9" cy="215.4" r="4.1"/><circle cx="672.9" cy="175.0" r="4.1"/><circle cx="579.0" cy="255.6" r="4.1"/><circle cx="557.6" cy="227.9" r="4.1"/><circle cx="765.0" cy="195.5" r="4.1"/><circle cx="441.7" cy="238.5" r="4.1"/><circle cx="551.9" cy="190.2" r="4.1"/><circle cx="464.6" cy="232.2" r="4.1"/><circle cx="755.8" cy="204.0" r="4.1"/><circle cx="257.1" cy="225.7" r="4.1"/><circle cx="442.8" cy="215.5" r="4.1"/><circle cx="463.2" cy="202.3" r="4.1"/><circle cx="636.0" cy="208.3" r="4.1"/><circle cx="627.7" cy="214.2" r="4.1"/><circle cx="311.9" cy="205.9" r="4.1"/><circle cx="648.6" cy="226.9" r="4.1"/><circle cx="497.4" cy="186.1" r="4.1"/><circle cx="443.5" cy="188.4" r="4.1"/><circle cx="618.1" cy="179.7" r="4.1"/><circle cx="406.6" cy="167.6" r="4.1"/><circle cx="239.0" cy="226.2" r="4.1"/><circle cx="486.3" cy="183.2" r="4.1"/><circle cx="322.9" cy="181.5" r="4.1"/><circle cx="445.9" cy="206.0" r="4.1"/><circle cx="593.7" cy="200.8" r="4.1"/><circle cx="769.8" cy="218.4" r="4.1"/><circle cx="511.0" cy="167.6" r="4.1"/><circle cx="317.8" cy="244.5" r="4.1"/><circle cx="430.4" cy="217.6" r="4.1"/><circle cx="406.7" cy="199.8" r="4.1"/><circle cx="363.5" cy="193.7" r="4.1"/><circle cx="603.0" cy="170.9" r="4.1"/><circle cx="446.4" cy="244.0" r="4.1"/><circle cx="253.4" cy="205.1" r="4.1"/><circle cx="640.9" cy="187.5" r="4.1"/><circle cx="523.8" cy="234.3" r="4.1"/><circle cx="591.6" cy="206.9" r="4.1"/><circle cx="555.2" cy="165.5" r="4.1"/><circle cx="631.4" cy="177.7" r="4.1"/><circle cx="545.4" cy="194.4" r="4.1"/><circle cx="719.0" cy="262.3" r="4.1"/><circle cx="601.5" cy="208.8" r="4.1"/><circle cx="596.7" cy="197.7" r="4.1"/><circle cx="599.3" cy="212.7" r="4.1"/><circle cx="328.9" cy="207.4" r="4.1"/><circle cx="502.3" cy="210.6" r="4.1"/><circle cx="570.0" cy="226.9" r="4.1"/><circle cx="343.1" cy="200.8" r="4.1"/><circle cx="776.6" cy="212.8" r="4.1"/><circle cx="555.0" cy="212.7" r="4.1"/><circle cx="364.4" cy="207.9" r="4.1"/><circle cx="292.3" cy="189.4" r="4.1"/><circle cx="499.2" cy="200.9" r="4.1"/><circle cx="526.9" cy="231.9" r="4.1"/><circle cx="435.8" cy="208.9" r="4.1"/><circle cx="553.2" cy="195.8" r="4.1"/><circle cx="447.0" cy="216.1" r="4.1"/><circle cx="619.8" cy="181.3" r="4.1"/><circle cx="434.9" cy="189.3" r="4.1"/><circle cx="534.3" cy="227.4" r="4.1"/><circle cx="681.7" cy="199.2" r="4.1"/><circle cx="393.9" cy="172.5" r="4.1"/><circle cx="472.6" cy="207.2" r="4.1"/><circle cx="418.2" cy="186.7" r="4.1"/><circle cx="653.5" cy="220.5" r="4.1"/><circle cx="373.6" cy="237.2" r="4.1"/><circle cx="469.7" cy="194.1" r="4.1"/><circle cx="535.6" cy="200.7" r="4.1"/><circle cx="398.1" cy="195.0" r="4.1"/><circle cx="401.2" cy="206.6" r="4.1"/><circle cx="471.0" cy="199.0" r="4.1"/><circle cx="330.5" cy="195.9" r="4.1"/><circle cx="480.1" cy="188.1" r="4.1"/><circle cx="561.4" cy="207.3" r="4.1"/><circle cx="513.0" cy="188.5" r="4.1"/><circle cx="472.7" cy="223.0" r="4.1"/><circle cx="655.6" cy="175.0" r="4.1"/><circle cx="620.4" cy="168.1" r="4.1"/><circle cx="528.5" cy="200.6" r="4.1"/><circle cx="411.3" cy="208.3" r="4.1"/><circle cx="631.3" cy="233.3" r="4.1"/><circle cx="456.0" cy="198.2" r="4.1"/><circle cx="370.5" cy="189.3" r="4.1"/><circle cx="423.7" cy="237.9" r="4.1"/><circle cx="749.7" cy="194.0" r="4.1"/><circle cx="571.8" cy="195.5" r="4.1"/><circle cx="707.8" cy="196.5" r="4.1"/><circle cx="470.5" cy="230.3" r="4.1"/><circle cx="675.8" cy="194.4" r="4.1"/><circle cx="452.8" cy="238.3" r="4.1"/><circle cx="517.1" cy="174.0" r="4.1"/><circle cx="651.0" cy="231.1" r="4.1"/><circle cx="467.3" cy="177.1" r="4.1"/><circle cx="527.6" cy="181.2" r="4.1"/><circle cx="587.2" cy="220.0" r="4.1"/><circle cx="715.3" cy="158.6" r="4.1"/><circle cx="469.0" cy="227.6" r="4.1"/><circle cx="287.6" cy="199.3" r="4.1"/><circle cx="499.4" cy="180.6" r="4.1"/><circle cx="542.1" cy="254.9" r="4.1"/><circle cx="555.8" cy="184.5" r="4.1"/><circle cx="730.6" cy="207.4" r="4.1"/><circle cx="585.8" cy="206.4" r="4.1"/><circle cx="657.7" cy="229.2" r="4.1"/><circle cx="380.4" cy="198.9" r="4.1"/><circle cx="665.6" cy="229.9" r="4.1"/><circle cx="651.9" cy="215.7" r="4.1"/><circle cx="576.6" cy="232.4" r="4.1"/><circle cx="562.2" cy="172.2" r="4.1"/><circle cx="405.6" cy="222.3" r="4.1"/><circle cx="523.8" cy="212.8" r="4.1"/><circle cx="606.6" cy="206.0" r="4.1"/><circle cx="647.7" cy="189.0" r="4.1"/><circle cx="476.5" cy="188.4" r="4.1"/><circle cx="584.4" cy="212.6" r="4.1"/><circle cx="499.6" cy="214.3" r="4.1"/><circle cx="557.4" cy="205.3" r="4.1"/><circle cx="520.8" cy="188.3" r="4.1"/><circle cx="374.5" cy="191.0" r="4.1"/><circle cx="536.8" cy="217.1" r="4.1"/><circle cx="667.0" cy="250.3" r="4.1"/><circle cx="399.8" cy="159.9" r="4.1"/><circle cx="505.0" cy="185.6" r="4.1"/><circle cx="636.2" cy="200.4" r="4.1"/><circle cx="384.9" cy="198.7" r="4.1"/><circle cx="566.4" cy="217.3" r="4.1"/><circle cx="386.3" cy="227.6" r="4.1"/><circle cx="704.3" cy="213.2" r="4.1"/><circle cx="832.9" cy="219.5" r="4.1"/><circle cx="508.1" cy="237.4" r="4.1"/><circle cx="647.1" cy="212.8" r="4.1"/><circle cx="557.4" cy="193.6" r="4.1"/><circle cx="554.7" cy="216.7" r="4.1"/><circle cx="764.1" cy="205.6" r="4.1"/><circle cx="348.8" cy="250.6" r="4.1"/><circle cx="692.8" cy="210.5" r="4.1"/><circle cx="532.8" cy="208.7" r="4.1"/><circle cx="744.0" cy="232.4" r="4.1"/><circle cx="567.0" cy="243.3" r="4.1"/><circle cx="442.5" cy="197.2" r="4.1"/><circle cx="580.0" cy="223.5" r="4.1"/><circle cx="646.5" cy="195.5" r="4.1"/><circle cx="545.1" cy="215.1" r="4.1"/><circle cx="610.6" cy="192.6" r="4.1"/><circle cx="464.3" cy="213.3" r="4.1"/><circle cx="670.3" cy="207.9" r="4.1"/><circle cx="641.2" cy="213.1" r="4.1"/><circle cx="561.4" cy="191.9" r="4.1"/><circle cx="549.8" cy="215.7" r="4.1"/><circle cx="690.0" cy="214.5" r="4.1"/><circle cx="473.7" cy="187.5" r="4.1"/><circle cx="437.5" cy="180.9" r="4.1"/><circle cx="512.6" cy="189.7" r="4.1"/><circle cx="712.2" cy="183.7" r="4.1"/><circle cx="339.0" cy="196.3" r="4.1"/><circle cx="712.6" cy="189.5" r="4.1"/><circle cx="447.3" cy="187.1" r="4.1"/><circle cx="380.4" cy="197.3" r="4.1"/><circle cx="722.4" cy="204.7" r="4.1"/><circle cx="525.9" cy="203.0" r="4.1"/><circle cx="351.5" cy="154.3" r="4.1"/><circle cx="487.9" cy="205.7" r="4.1"/><circle cx="674.8" cy="211.1" r="4.1"/><circle cx="712.6" cy="213.9" r="4.1"/><circle cx="478.0" cy="206.8" r="4.1"/><circle cx="598.8" cy="200.8" r="4.1"/><circle cx="643.3" cy="230.4" r="4.1"/><circle cx="446.5" cy="248.7" r="4.1"/><circle cx="591.3" cy="199.7" r="4.1"/><circle cx="535.3" cy="240.6" r="4.1"/><circle cx="462.2" cy="200.5" r="4.1"/><circle cx="468.6" cy="203.0" r="4.1"/><circle cx="549.6" cy="181.2" r="4.1"/><circle cx="544.2" cy="170.1" r="4.1"/><circle cx="458.0" cy="198.1" r="4.1"/><circle cx="478.2" cy="218.0" r="4.1"/><circle cx="701.2" cy="231.3" r="4.1"/><circle cx="570.9" cy="223.1" r="4.1"/><circle cx="668.1" cy="205.2" r="4.1"/><circle cx="714.0" cy="250.6" r="4.1"/><circle cx="625.2" cy="204.4" r="4.1"/><circle cx="420.3" cy="192.2" r="4.1"/><circle cx="657.0" cy="213.2" r="4.1"/><circle cx="493.8" cy="203.8" r="4.1"/><circle cx="786.2" cy="216.0" r="4.1"/><circle cx="399.5" cy="203.4" r="4.1"/><circle cx="636.1" cy="172.7" r="4.1"/><circle cx="654.3" cy="202.5" r="4.1"/><circle cx="646.6" cy="198.2" r="4.1"/><circle cx="529.6" cy="227.2" r="4.1"/><circle cx="605.8" cy="175.2" r="4.1"/><circle cx="634.5" cy="222.5" r="4.1"/><circle cx="528.6" cy="188.8" r="4.1"/><circle cx="688.7" cy="203.7" r="4.1"/><circle cx="212.6" cy="226.7" r="4.1"/><circle cx="631.7" cy="183.9" r="4.1"/><circle cx="390.1" cy="205.7" r="4.1"/><circle cx="678.8" cy="202.2" r="4.1"/><circle cx="506.8" cy="196.3" r="4.1"/><circle cx="411.1" cy="206.5" r="4.1"/><circle cx="594.1" cy="214.2" r="4.1"/><circle cx="407.9" cy="196.0" r="4.1"/><circle cx="407.7" cy="214.7" r="4.1"/><circle cx="312.9" cy="204.6" r="4.1"/><circle cx="536.0" cy="220.4" r="4.1"/><circle cx="611.9" cy="238.1" r="4.1"/><circle cx="688.1" cy="220.5" r="4.1"/><circle cx="519.4" cy="216.7" r="4.1"/><circle cx="691.7" cy="205.7" r="4.1"/><circle cx="542.5" cy="180.5" r="4.1"/><circle cx="526.4" cy="242.4" r="4.1"/><circle cx="623.0" cy="203.3" r="4.1"/><circle cx="693.2" cy="253.6" r="4.1"/><circle cx="490.4" cy="228.5" r="4.1"/><circle cx="504.6" cy="216.9" r="4.1"/><circle cx="516.6" cy="254.5" r="4.1"/><circle cx="551.9" cy="246.0" r="4.1"/><circle cx="409.5" cy="202.7" r="4.1"/><circle cx="688.8" cy="204.4" r="4.1"/><circle cx="481.9" cy="208.5" r="4.1"/><circle cx="606.9" cy="223.3" r="4.1"/><circle cx="420.3" cy="159.7" r="4.1"/><circle cx="591.9" cy="209.5" r="4.1"/><circle cx="596.6" cy="224.6" r="4.1"/><circle cx="479.0" cy="169.9" r="4.1"/><circle cx="832.7" cy="192.8" r="4.1"/><circle cx="593.7" cy="214.0" r="4.1"/><circle cx="797.3" cy="180.4" r="4.1"/><circle cx="678.8" cy="202.7" r="4.1"/><circle cx="444.0" cy="192.2" r="4.1"/><circle cx="484.5" cy="201.0" r="4.1"/><circle cx="603.1" cy="228.2" r="4.1"/><circle cx="548.8" cy="185.1" r="4.1"/><circle cx="547.1" cy="202.6" r="4.1"/><circle cx="498.4" cy="227.8" r="4.1"/><circle cx="277.9" cy="222.5" r="4.1"/><circle cx="507.2" cy="185.5" r="4.1"/><circle cx="218.6" cy="214.0" r="4.1"/><circle cx="593.8" cy="205.0" r="4.1"/><circle cx="434.7" cy="192.0" r="4.1"/><circle cx="436.3" cy="203.3" r="4.1"/><circle cx="508.1" cy="238.9" r="4.1"/><circle cx="579.4" cy="192.3" r="4.1"/><circle cx="332.4" cy="185.8" r="4.1"/><circle cx="286.6" cy="187.4" r="4.1"/><circle cx="385.5" cy="171.2" r="4.1"/><circle cx="244.1" cy="198.2" r="4.1"/><circle cx="399.8" cy="189.3" r="4.1"/><circle cx="770.4" cy="171.8" r="4.1"/><circle cx="386.8" cy="212.3" r="4.1"/><circle cx="634.3" cy="168.7" r="4.1"/><circle cx="341.2" cy="168.7" r="4.1"/><circle cx="583.2" cy="189.2" r="4.1"/><circle cx="493.6" cy="166.4" r="4.1"/><circle cx="531.2" cy="187.7" r="4.1"/><circle cx="622.3" cy="225.0" r="4.1"/><circle cx="794.3" cy="181.6" r="4.1"/><circle cx="568.1" cy="199.0" r="4.1"/><circle cx="557.9" cy="197.1" r="4.1"/><circle cx="398.9" cy="202.7" r="4.1"/><circle cx="624.4" cy="176.8" r="4.1"/><circle cx="504.3" cy="194.1" r="4.1"/><circle cx="660.4" cy="221.0" r="4.1"/><circle cx="533.6" cy="195.6" r="4.1"/><circle cx="792.1" cy="190.3" r="4.1"/><circle cx="252.6" cy="221.6" r="4.1"/><circle cx="496.9" cy="215.4" r="4.1"/><circle cx="667.6" cy="214.3" r="4.1"/><circle cx="489.1" cy="219.1" r="4.1"/><circle cx="425.1" cy="198.5" r="4.1"/><circle cx="501.4" cy="184.1" r="4.1"/><circle cx="340.0" cy="165.3" r="4.1"/><circle cx="557.1" cy="180.3" r="4.1"/><circle cx="705.8" cy="181.4" r="4.1"/><circle cx="379.2" cy="177.3" r="4.1"/><circle cx="413.4" cy="214.1" r="4.1"/><circle cx="481.3" cy="191.1" r="4.1"/><circle cx="685.4" cy="199.1" r="4.1"/><circle cx="420.9" cy="208.8" r="4.1"/><circle cx="439.9" cy="215.8" r="4.1"/><circle cx="668.1" cy="216.9" r="4.1"/><circle cx="665.2" cy="211.8" r="4.1"/><circle cx="485.7" cy="232.6" r="4.1"/><circle cx="378.0" cy="194.8" r="4.1"/><circle cx="315.4" cy="206.5" r="4.1"/><circle cx="438.6" cy="203.8" r="4.1"/><circle cx="216.8" cy="198.7" r="4.1"/><circle cx="648.5" cy="190.4" r="4.1"/><circle cx="448.6" cy="218.8" r="4.1"/><circle cx="609.6" cy="208.3" r="4.1"/><circle cx="709.8" cy="253.8" r="4.1"/><circle cx="373.1" cy="247.8" r="4.1"/><circle cx="665.8" cy="173.0" r="4.1"/><circle cx="707.6" cy="245.3" r="4.1"/><circle cx="431.8" cy="195.9" r="4.1"/><circle cx="401.8" cy="174.2" r="4.1"/><circle cx="524.0" cy="215.9" r="4.1"/><circle cx="307.9" cy="171.0" r="4.1"/><circle cx="191.4" cy="185.7" r="4.1"/><circle cx="379.6" cy="155.0" r="4.1"/><circle cx="500.8" cy="192.6" r="4.1"/><circle cx="507.0" cy="221.7" r="4.1"/><circle cx="564.0" cy="194.8" r="4.1"/><circle cx="579.2" cy="215.5" r="4.1"/><circle cx="509.0" cy="234.0" r="4.1"/><circle cx="704.6" cy="233.4" r="4.1"/><circle cx="539.9" cy="217.6" r="4.1"/><circle cx="436.4" cy="206.4" r="4.1"/><circle cx="559.1" cy="220.2" r="4.1"/><circle cx="571.9" cy="202.9" r="4.1"/><circle cx="407.8" cy="211.0" r="4.1"/><circle cx="447.0" cy="214.7" r="4.1"/><circle cx="654.7" cy="231.9" r="4.1"/><circle cx="590.5" cy="236.2" r="4.1"/><circle cx="441.4" cy="221.8" r="4.1"/><circle cx="835.4" cy="199.5" r="4.1"/><circle cx="328.0" cy="183.1" r="4.1"/><circle cx="583.6" cy="166.5" r="4.1"/><circle cx="903.4" cy="195.3" r="4.1"/><circle cx="653.5" cy="207.6" r="4.1"/><circle cx="571.9" cy="234.2" r="4.1"/><circle cx="509.8" cy="205.6" r="4.1"/><circle cx="461.5" cy="251.8" r="4.1"/><circle cx="509.1" cy="212.1" r="4.1"/><circle cx="460.1" cy="170.6" r="4.1"/><circle cx="647.8" cy="198.6" r="4.1"/><circle cx="482.2" cy="181.4" r="4.1"/><circle cx="476.0" cy="213.8" r="4.1"/><circle cx="365.7" cy="235.2" r="4.1"/><circle cx="532.7" cy="215.9" r="4.1"/><circle cx="410.4" cy="214.1" r="4.1"/><circle cx="513.7" cy="179.6" r="4.1"/><circle cx="690.8" cy="163.1" r="4.1"/><circle cx="592.9" cy="221.5" r="4.1"/><circle cx="613.0" cy="213.3" r="4.1"/><circle cx="591.5" cy="208.7" r="4.1"/><circle cx="548.5" cy="213.0" r="4.1"/><circle cx="521.5" cy="232.3" r="4.1"/><circle cx="495.3" cy="203.5" r="4.1"/><circle cx="649.9" cy="197.7" r="4.1"/><circle cx="382.8" cy="197.2" r="4.1"/><circle cx="734.1" cy="231.5" r="4.1"/><circle cx="544.8" cy="207.9" r="4.1"/><circle cx="431.4" cy="242.9" r="4.1"/><circle cx="469.0" cy="185.8" r="4.1"/><circle cx="441.8" cy="227.4" r="4.1"/><circle cx="563.1" cy="211.4" r="4.1"/><circle cx="435.9" cy="215.1" r="4.1"/><circle cx="705.4" cy="218.0" r="4.1"/><circle cx="426.7" cy="228.2" r="4.1"/><circle cx="434.0" cy="168.1" r="4.1"/><circle cx="248.9" cy="199.9" r="4.1"/><circle cx="534.1" cy="199.7" r="4.1"/><circle cx="693.3" cy="160.2" r="4.1"/><circle cx="633.7" cy="207.6" r="4.1"/><circle cx="346.1" cy="193.5" r="4.1"/><circle cx="429.5" cy="204.9" r="4.1"/><circle cx="797.6" cy="179.8" r="4.1"/><circle cx="586.0" cy="194.6" r="4.1"/><circle cx="540.5" cy="198.6" r="4.1"/><circle cx="692.9" cy="210.9" r="4.1"/><circle cx="727.7" cy="180.3" r="4.1"/><circle cx="560.1" cy="250.0" r="4.1"/><circle cx="591.3" cy="208.1" r="4.1"/><circle cx="629.3" cy="214.3" r="4.1"/><circle cx="451.1" cy="211.8" r="4.1"/><circle cx="386.5" cy="247.9" r="4.1"/><circle cx="547.5" cy="189.6" r="4.1"/><circle cx="402.7" cy="223.5" r="4.1"/><circle cx="531.0" cy="210.2" r="4.1"/><circle cx="553.8" cy="216.2" r="4.1"/><circle cx="416.6" cy="214.9" r="4.1"/><circle cx="522.3" cy="245.0" r="4.1"/><circle cx="516.1" cy="225.6" r="4.1"/><circle cx="603.3" cy="212.1" r="4.1"/><circle cx="691.5" cy="205.4" r="4.1"/><circle cx="468.8" cy="204.1" r="4.1"/><circle cx="420.9" cy="208.3" r="4.1"/><circle cx="405.7" cy="196.0" r="4.1"/><circle cx="617.6" cy="231.6" r="4.1"/><circle cx="546.5" cy="218.5" r="4.1"/><circle cx="392.8" cy="219.5" r="4.1"/><circle cx="485.9" cy="209.1" r="4.1"/><circle cx="544.5" cy="218.3" r="4.1"/><circle cx="612.9" cy="223.7" r="4.1"/><circle cx="453.9" cy="169.8" r="4.1"/><circle cx="503.6" cy="204.4" r="4.1"/><circle cx="276.5" cy="212.6" r="4.1"/><circle cx="373.1" cy="210.7" r="4.1"/><circle cx="774.3" cy="210.0" r="4.1"/><circle cx="491.0" cy="195.0" r="4.1"/><circle cx="571.7" cy="181.1" r="4.1"/><circle cx="422.8" cy="198.3" r="4.1"/><circle cx="531.1" cy="182.5" r="4.1"/><circle cx="539.2" cy="162.8" r="4.1"/><circle cx="528.0" cy="204.7" r="4.1"/><circle cx="518.5" cy="192.6" r="4.1"/><circle cx="416.0" cy="218.2" r="4.1"/><circle cx="460.6" cy="243.8" r="4.1"/><circle cx="572.8" cy="218.6" r="4.1"/><circle cx="632.7" cy="182.6" r="4.1"/><circle cx="669.8" cy="179.4" r="4.1"/><circle cx="468.0" cy="189.7" r="4.1"/><circle cx="673.8" cy="227.8" r="4.1"/><circle cx="704.6" cy="230.4" r="4.1"/><circle cx="741.2" cy="206.9" r="4.1"/><circle cx="518.8" cy="236.3" r="4.1"/><circle cx="514.7" cy="176.9" r="4.1"/><circle cx="659.4" cy="195.6" r="4.1"/><circle cx="341.9" cy="186.1" r="4.1"/><circle cx="570.2" cy="203.3" r="4.1"/><circle cx="463.0" cy="206.7" r="4.1"/><circle cx="486.5" cy="201.5" r="4.1"/><circle cx="410.9" cy="183.8" r="4.1"/><circle cx="536.9" cy="185.5" r="4.1"/><circle cx="668.6" cy="213.6" r="4.1"/><circle cx="683.3" cy="205.5" r="4.1"/><circle cx="528.3" cy="198.7" r="4.1"/><circle cx="512.5" cy="171.4" r="4.1"/><circle cx="419.6" cy="195.9" r="4.1"/><circle cx="598.2" cy="204.2" r="4.1"/><circle cx="504.0" cy="216.1" r="4.1"/><circle cx="627.7" cy="237.5" r="4.1"/><circle cx="793.7" cy="218.0" r="4.1"/><circle cx="535.2" cy="203.6" r="4.1"/><circle cx="323.0" cy="210.5" r="4.1"/><circle cx="415.2" cy="203.5" r="4.1"/><circle cx="328.7" cy="189.1" r="4.1"/><circle cx="366.5" cy="195.7" r="4.1"/><circle cx="729.0" cy="199.2" r="4.1"/><circle cx="572.7" cy="191.0" r="4.1"/><circle cx="319.7" cy="201.1" r="4.1"/><circle cx="634.6" cy="205.7" r="4.1"/><circle cx="722.5" cy="195.0" r="4.1"/><circle cx="487.8" cy="242.2" r="4.1"/><circle cx="442.0" cy="178.1" r="4.1"/><circle cx="491.0" cy="232.8" r="4.1"/><circle cx="581.1" cy="187.0" r="4.1"/><circle cx="632.6" cy="204.7" r="4.1"/><circle cx="711.2" cy="181.2" r="4.1"/><circle cx="715.5" cy="204.3" r="4.1"/><circle cx="711.6" cy="225.3" r="4.1"/><circle cx="737.2" cy="181.9" r="4.1"/><circle cx="635.7" cy="201.0" r="4.1"/><circle cx="318.1" cy="202.4" r="4.1"/><circle cx="520.9" cy="203.2" r="4.1"/><circle cx="585.4" cy="183.4" r="4.1"/><circle cx="484.4" cy="187.4" r="4.1"/><circle cx="671.9" cy="200.0" r="4.1"/><circle cx="487.7" cy="238.3" r="4.1"/><circle cx="405.8" cy="213.6" r="4.1"/><circle cx="749.1" cy="202.7" r="4.1"/><circle cx="636.4" cy="166.3" r="4.1"/><circle cx="571.7" cy="196.6" r="4.1"/><circle cx="674.1" cy="206.9" r="4.1"/><circle cx="693.8" cy="179.2" r="4.1"/><circle cx="589.3" cy="207.3" r="4.1"/><circle cx="442.0" cy="201.5" r="4.1"/><circle cx="473.8" cy="237.1" r="4.1"/><circle cx="397.3" cy="184.3" r="4.1"/><circle cx="568.7" cy="195.7" r="4.1"/><circle cx="712.6" cy="211.0" r="4.1"/><circle cx="469.7" cy="229.4" r="4.1"/><circle cx="375.5" cy="200.3" r="4.1"/><circle cx="833.7" cy="174.7" r="4.1"/><circle cx="474.5" cy="218.7" r="4.1"/><circle cx="361.3" cy="227.7" r="4.1"/><circle cx="574.3" cy="195.8" r="4.1"/><circle cx="601.6" cy="239.2" r="4.1"/><circle cx="437.8" cy="252.6" r="4.1"/><circle cx="654.4" cy="214.4" r="4.1"/><circle cx="469.3" cy="219.7" r="4.1"/><circle cx="406.2" cy="210.8" r="4.1"/><circle cx="565.8" cy="216.7" r="4.1"/><circle cx="651.6" cy="197.7" r="4.1"/><circle cx="448.1" cy="209.6" r="4.1"/><circle cx="587.8" cy="217.7" r="4.1"/><circle cx="526.4" cy="214.7" r="4.1"/><circle cx="933.5" cy="191.2" r="4.1"/><circle cx="437.3" cy="184.2" r="4.1"/><circle cx="740.4" cy="185.3" r="4.1"/><circle cx="532.3" cy="189.8" r="4.1"/><circle cx="644.4" cy="226.3" r="4.1"/><circle cx="669.4" cy="211.6" r="4.1"/><circle cx="723.4" cy="200.3" r="4.1"/><circle cx="587.5" cy="239.6" r="4.1"/><circle cx="452.9" cy="174.2" r="4.1"/><circle cx="462.0" cy="198.2" r="4.1"/><circle cx="613.7" cy="218.1" r="4.1"/><circle cx="624.1" cy="201.2" r="4.1"/><circle cx="742.4" cy="212.2" r="4.1"/><circle cx="600.5" cy="221.1" r="4.1"/><circle cx="693.5" cy="193.9" r="4.1"/><circle cx="759.6" cy="214.5" r="4.1"/><circle cx="563.8" cy="235.1" r="4.1"/><circle cx="324.7" cy="218.4" r="4.1"/><circle cx="369.1" cy="207.2" r="4.1"/><circle cx="331.6" cy="228.0" r="4.1"/><circle cx="770.5" cy="177.6" r="4.1"/><circle cx="417.1" cy="228.2" r="4.1"/><circle cx="718.4" cy="166.9" r="4.1"/><circle cx="624.8" cy="185.5" r="4.1"/><circle cx="788.4" cy="225.0" r="4.1"/><circle cx="685.2" cy="201.9" r="4.1"/><circle cx="525.1" cy="179.3" r="4.1"/><circle cx="510.9" cy="208.8" r="4.1"/><circle cx="552.2" cy="230.3" r="4.1"/><circle cx="565.3" cy="202.3" r="4.1"/><circle cx="463.0" cy="161.8" r="4.1"/><circle cx="535.2" cy="236.7" r="4.1"/><circle cx="773.0" cy="192.7" r="4.1"/><circle cx="293.3" cy="204.4" r="4.1"/><circle cx="577.3" cy="207.2" r="4.1"/><circle cx="408.5" cy="213.0" r="4.1"/><circle cx="567.0" cy="211.5" r="4.1"/><circle cx="661.6" cy="182.3" r="4.1"/><circle cx="531.6" cy="191.8" r="4.1"/><circle cx="651.9" cy="226.1" r="4.1"/><circle cx="309.6" cy="171.0" r="4.1"/><circle cx="700.3" cy="232.5" r="4.1"/><circle cx="452.5" cy="190.3" r="4.1"/><circle cx="630.1" cy="200.6" r="4.1"/><circle cx="566.3" cy="178.8" r="4.1"/><circle cx="165.3" cy="196.9" r="4.1"/><circle cx="430.4" cy="181.8" r="4.1"/><circle cx="571.8" cy="205.1" r="4.1"/><circle cx="765.0" cy="183.6" r="4.1"/><circle cx="581.5" cy="197.1" r="4.1"/><circle cx="577.2" cy="158.3" r="4.1"/><circle cx="335.2" cy="219.5" r="4.1"/><circle cx="747.2" cy="178.8" r="4.1"/><circle cx="801.7" cy="194.5" r="4.1"/><circle cx="544.0" cy="200.7" r="4.1"/><circle cx="508.1" cy="216.7" r="4.1"/><circle cx="305.4" cy="194.9" r="4.1"/><circle cx="667.9" cy="236.2" r="4.1"/><circle cx="643.8" cy="189.2" r="4.1"/><circle cx="723.0" cy="237.9" r="4.1"/><circle cx="618.4" cy="173.5" r="4.1"/><circle cx="397.2" cy="210.4" r="4.1"/><circle cx="733.5" cy="199.1" r="4.1"/><circle cx="361.1" cy="202.8" r="4.1"/><circle cx="509.4" cy="195.4" r="4.1"/><circle cx="580.3" cy="210.4" r="4.1"/><circle cx="667.8" cy="212.3" r="4.1"/><circle cx="600.2" cy="207.1" r="4.1"/><circle cx="595.9" cy="181.8" r="4.1"/><circle cx="429.6" cy="180.0" r="4.1"/><circle cx="353.1" cy="177.0" r="4.1"/><circle cx="548.8" cy="196.6" r="4.1"/><circle cx="437.0" cy="208.7" r="4.1"/><circle cx="350.4" cy="240.6" r="4.1"/><circle cx="356.5" cy="190.6" r="4.1"/><circle cx="468.9" cy="186.3" r="4.1"/><circle cx="271.5" cy="213.1" r="4.1"/><circle cx="344.7" cy="187.0" r="4.1"/><circle cx="303.0" cy="176.7" r="4.1"/><circle cx="566.3" cy="202.4" r="4.1"/><circle cx="599.0" cy="181.7" r="4.1"/><circle cx="323.0" cy="241.7" r="4.1"/><circle cx="441.4" cy="214.6" r="4.1"/><circle cx="672.1" cy="213.2" r="4.1"/><circle cx="508.5" cy="193.0" r="4.1"/><circle cx="492.5" cy="223.0" r="4.1"/><circle cx="787.5" cy="213.8" r="4.1"/><circle cx="490.9" cy="225.1" r="4.1"/><circle cx="372.4" cy="205.2" r="4.1"/><circle cx="349.1" cy="202.9" r="4.1"/><circle cx="588.5" cy="183.4" r="4.1"/><circle cx="584.1" cy="187.2" r="4.1"/><circle cx="341.2" cy="200.8" r="4.1"/><circle cx="397.1" cy="199.2" r="4.1"/><circle cx="617.4" cy="202.0" r="4.1"/><circle cx="623.5" cy="202.0" r="4.1"/><circle cx="446.7" cy="171.1" r="4.1"/><circle cx="630.0" cy="257.9" r="4.1"/><circle cx="622.7" cy="208.2" r="4.1"/><circle cx="281.6" cy="197.6" r="4.1"/><circle cx="494.7" cy="180.1" r="4.1"/><circle cx="600.0" cy="227.9" r="4.1"/><circle cx="456.9" cy="196.9" r="4.1"/><circle cx="230.0" cy="185.8" r="4.1"/><circle cx="498.9" cy="214.0" r="4.1"/><circle cx="648.9" cy="245.4" r="4.1"/><circle cx="768.8" cy="212.1" r="4.1"/><circle cx="222.5" cy="230.2" r="4.1"/><circle cx="918.5" cy="190.4" r="4.1"/><circle cx="376.6" cy="222.7" r="4.1"/><circle cx="678.5" cy="166.1" r="4.1"/><circle cx="718.7" cy="201.3" r="4.1"/><circle cx="682.3" cy="221.7" r="4.1"/><circle cx="561.6" cy="215.2" r="4.1"/><circle cx="371.6" cy="227.9" r="4.1"/><circle cx="630.7" cy="196.0" r="4.1"/><circle cx="436.3" cy="172.3" r="4.1"/><circle cx="933.5" cy="184.5" r="4.1"/><circle cx="642.5" cy="224.7" r="4.1"/><circle cx="803.3" cy="197.7" r="4.1"/><circle cx="407.8" cy="154.8" r="4.1"/><circle cx="770.2" cy="177.9" r="4.1"/><circle cx="765.1" cy="179.1" r="4.1"/><circle cx="536.8" cy="244.8" r="4.1"/><circle cx="365.7" cy="235.2" r="4.1"/><circle cx="514.2" cy="225.4" r="4.1"/><circle cx="293.3" cy="213.6" r="4.1"/><circle cx="553.2" cy="208.0" r="4.1"/><circle cx="396.3" cy="189.2" r="4.1"/><circle cx="516.1" cy="201.8" r="4.1"/><circle cx="524.1" cy="199.5" r="4.1"/><circle cx="819.6" cy="211.3" r="4.1"/><circle cx="727.9" cy="180.2" r="4.1"/><circle cx="533.4" cy="221.1" r="4.1"/><circle cx="715.0" cy="168.4" r="4.1"/><circle cx="426.9" cy="211.7" r="4.1"/><circle cx="491.1" cy="221.6" r="4.1"/><circle cx="671.8" cy="190.5" r="4.1"/><circle cx="360.0" cy="194.7" r="4.1"/><circle cx="499.5" cy="247.0" r="4.1"/><circle cx="348.6" cy="199.7" r="4.1"/><circle cx="556.9" cy="233.5" r="4.1"/><circle cx="776.4" cy="222.3" r="4.1"/><circle cx="430.9" cy="187.5" r="4.1"/><circle cx="572.6" cy="223.0" r="4.1"/><circle cx="409.9" cy="196.8" r="4.1"/><circle cx="373.4" cy="212.6" r="4.1"/><circle cx="360.9" cy="162.9" r="4.1"/><circle cx="750.6" cy="206.5" r="4.1"/><circle cx="882.1" cy="229.8" r="4.1"/><circle cx="609.9" cy="228.2" r="4.1"/><circle cx="436.1" cy="224.0" r="4.1"/><circle cx="642.0" cy="201.8" r="4.1"/><circle cx="491.5" cy="204.6" r="4.1"/><circle cx="656.0" cy="183.7" r="4.1"/><circle cx="582.1" cy="200.9" r="4.1"/><circle cx="580.4" cy="201.8" r="4.1"/><circle cx="627.9" cy="197.6" r="4.1"/><circle cx="456.0" cy="207.4" r="4.1"/><circle cx="481.3" cy="198.3" r="4.1"/><circle cx="290.5" cy="187.7" r="4.1"/><circle cx="475.9" cy="187.7" r="4.1"/><circle cx="333.9" cy="216.3" r="4.1"/><circle cx="518.9" cy="242.7" r="4.1"/><circle cx="401.2" cy="222.0" r="4.1"/><circle cx="554.6" cy="198.6" r="4.1"/><circle cx="605.6" cy="258.2" r="4.1"/><circle cx="334.2" cy="214.9" r="4.1"/><circle cx="422.1" cy="195.0" r="4.1"/><circle cx="403.2" cy="216.8" r="4.1"/><circle cx="648.0" cy="228.7" r="4.1"/><circle cx="663.3" cy="174.9" r="4.1"/><circle cx="489.3" cy="210.3" r="4.1"/><circle cx="752.1" cy="176.3" r="4.1"/><circle cx="320.6" cy="176.8" r="4.1"/><circle cx="757.1" cy="229.0" r="4.1"/><circle cx="768.5" cy="228.3" r="4.1"/><circle cx="390.4" cy="203.1" r="4.1"/><circle cx="564.4" cy="233.1" r="4.1"/><circle cx="508.8" cy="205.0" r="4.1"/><circle cx="554.7" cy="181.5" r="4.1"/><circle cx="325.0" cy="200.2" r="4.1"/><circle cx="441.2" cy="210.5" r="4.1"/><circle cx="607.7" cy="171.6" r="4.1"/><circle cx="572.2" cy="224.1" r="4.1"/><circle cx="713.6" cy="184.0" r="4.1"/><circle cx="551.5" cy="211.4" r="4.1"/><circle cx="436.2" cy="204.2" r="4.1"/><circle cx="577.5" cy="202.2" r="4.1"/><circle cx="262.3" cy="206.1" r="4.1"/><circle cx="358.4" cy="221.8" r="4.1"/><circle cx="732.4" cy="217.2" r="4.1"/><circle cx="403.3" cy="195.5" r="4.1"/><circle cx="616.8" cy="207.3" r="4.1"/><circle cx="531.0" cy="230.0" r="4.1"/><circle cx="388.6" cy="220.2" r="4.1"/><circle cx="489.5" cy="219.9" r="4.1"/><circle cx="465.4" cy="206.2" r="4.1"/><circle cx="469.3" cy="201.2" r="4.1"/><circle cx="649.1" cy="203.1" r="4.1"/><circle cx="634.4" cy="219.1" r="4.1"/><circle cx="456.3" cy="204.7" r="4.1"/><circle cx="408.5" cy="234.6" r="4.1"/><circle cx="525.4" cy="206.3" r="4.1"/><circle cx="688.9" cy="240.7" r="4.1"/><circle cx="662.0" cy="231.1" r="4.1"/><circle cx="534.9" cy="191.7" r="4.1"/><circle cx="515.0" cy="231.3" r="4.1"/><circle cx="415.8" cy="199.3" r="4.1"/><circle cx="408.6" cy="215.8" r="4.1"/><circle cx="394.5" cy="231.9" r="4.1"/><circle cx="482.6" cy="239.2" r="4.1"/><circle cx="478.0" cy="195.4" r="4.1"/><circle cx="647.6" cy="197.1" r="4.1"/><circle cx="482.1" cy="188.8" r="4.1"/><circle cx="511.3" cy="166.0" r="4.1"/><circle cx="363.4" cy="199.6" r="4.1"/><circle cx="778.1" cy="199.4" r="4.1"/><circle cx="613.3" cy="208.2" r="4.1"/><circle cx="799.0" cy="203.3" r="4.1"/><circle cx="655.3" cy="213.1" r="4.1"/><circle cx="755.7" cy="224.8" r="4.1"/><circle cx="503.9" cy="162.7" r="4.1"/><circle cx="643.8" cy="245.7" r="4.1"/><circle cx="931.8" cy="200.2" r="4.1"/><circle cx="362.7" cy="196.1" r="4.1"/><circle cx="710.3" cy="202.4" r="4.1"/><circle cx="785.9" cy="226.4" r="4.1"/><circle cx="600.9" cy="209.8" r="4.1"/><circle cx="650.8" cy="215.7" r="4.1"/><circle cx="725.3" cy="228.9" r="4.1"/><circle cx="442.8" cy="206.8" r="4.1"/><circle cx="600.4" cy="214.6" r="4.1"/><circle cx="411.3" cy="217.7" r="4.1"/><circle cx="439.8" cy="191.2" r="4.1"/><circle cx="448.4" cy="228.7" r="4.1"/><circle cx="518.7" cy="196.4" r="4.1"/><circle cx="561.6" cy="219.1" r="4.1"/><circle cx="607.0" cy="196.8" r="4.1"/><circle cx="329.7" cy="204.5" r="4.1"/><circle cx="711.4" cy="227.1" r="4.1"/><circle cx="647.6" cy="222.7" r="4.1"/><circle cx="486.8" cy="224.5" r="4.1"/><circle cx="526.7" cy="202.3" r="4.1"/><circle cx="621.2" cy="190.0" r="4.1"/><circle cx="601.0" cy="182.9" r="4.1"/><circle cx="290.6" cy="216.9" r="4.1"/><circle cx="649.9" cy="204.3" r="4.1"/><circle cx="687.6" cy="224.8" r="4.1"/><circle cx="594.7" cy="220.5" r="4.1"/><circle cx="523.3" cy="239.6" r="4.1"/><circle cx="364.1" cy="194.8" r="4.1"/><circle cx="564.1" cy="223.5" r="4.1"/><circle cx="510.6" cy="156.4" r="4.1"/><circle cx="477.7" cy="202.6" r="4.1"/><circle cx="557.0" cy="213.2" r="4.1"/><circle cx="473.7" cy="191.8" r="4.1"/><circle cx="770.1" cy="222.7" r="4.1"/><circle cx="404.9" cy="172.3" r="4.1"/><circle cx="669.8" cy="239.4" r="4.1"/><circle cx="353.5" cy="234.5" r="4.1"/><circle cx="639.5" cy="209.4" r="4.1"/><circle cx="524.3" cy="222.9" r="4.1"/><circle cx="155.3" cy="176.2" r="4.1"/><circle cx="539.0" cy="240.9" r="4.1"/><circle cx="381.0" cy="222.2" r="4.1"/><circle cx="473.7" cy="201.4" r="4.1"/><circle cx="769.0" cy="194.5" r="4.1"/><circle cx="373.5" cy="185.1" r="4.1"/><circle cx="382.0" cy="199.2" r="4.1"/><circle cx="557.2" cy="216.8" r="4.1"/><circle cx="769.5" cy="202.9" r="4.1"/><circle cx="588.1" cy="188.3" r="4.1"/><circle cx="408.5" cy="213.5" r="4.1"/><circle cx="530.0" cy="213.0" r="4.1"/><circle cx="723.0" cy="216.7" r="4.1"/><circle cx="680.1" cy="220.6" r="4.1"/><circle cx="540.0" cy="231.0" r="4.1"/><circle cx="547.2" cy="218.7" r="4.1"/><circle cx="523.1" cy="240.0" r="4.1"/><circle cx="453.8" cy="198.7" r="4.1"/><circle cx="541.0" cy="162.6" r="4.1"/><circle cx="371.4" cy="170.4" r="4.1"/><circle cx="468.9" cy="183.2" r="4.1"/><circle cx="648.1" cy="211.4" r="4.1"/><circle cx="635.4" cy="219.5" r="4.1"/><circle cx="519.5" cy="180.7" r="4.1"/><circle cx="440.3" cy="203.1" r="4.1"/><circle cx="543.5" cy="195.0" r="4.1"/><circle cx="290.6" cy="222.4" r="4.1"/><circle cx="346.0" cy="184.1" r="4.1"/><circle cx="658.9" cy="224.1" r="4.1"/><circle cx="468.5" cy="204.7" r="4.1"/><circle cx="595.7" cy="244.1" r="4.1"/><circle cx="721.4" cy="221.1" r="4.1"/><circle cx="636.7" cy="196.3" r="4.1"/><circle cx="543.0" cy="216.7" r="4.1"/><circle cx="639.4" cy="190.2" r="4.1"/><circle cx="487.1" cy="208.6" r="4.1"/><circle cx="648.9" cy="180.5" r="4.1"/><circle cx="600.6" cy="258.9" r="4.1"/><circle cx="412.4" cy="194.9" r="4.1"/><circle cx="550.8" cy="196.2" r="4.1"/><circle cx="515.3" cy="240.2" r="4.1"/><circle cx="514.2" cy="188.3" r="4.1"/><circle cx="497.7" cy="230.0" r="4.1"/><circle cx="474.6" cy="220.8" r="4.1"/><circle cx="294.9" cy="194.3" r="4.1"/><circle cx="487.1" cy="214.3" r="4.1"/><circle cx="534.0" cy="196.9" r="4.1"/><circle cx="555.1" cy="225.8" r="4.1"/><circle cx="370.8" cy="200.8" r="4.1"/><circle cx="634.1" cy="184.0" r="4.1"/><circle cx="358.9" cy="200.2" r="4.1"/><circle cx="506.6" cy="254.2" r="4.1"/><circle cx="734.3" cy="193.2" r="4.1"/><circle cx="436.8" cy="205.9" r="4.1"/><circle cx="463.8" cy="226.6" r="4.1"/><circle cx="699.7" cy="177.3" r="4.1"/><circle cx="482.7" cy="244.5" r="4.1"/><circle cx="495.7" cy="167.0" r="4.1"/><circle cx="572.8" cy="220.7" r="4.1"/><circle cx="696.1" cy="173.5" r="4.1"/><circle cx="211.8" cy="208.1" r="4.1"/><circle cx="416.6" cy="235.7" r="4.1"/><circle cx="390.0" cy="205.2" r="4.1"/><circle cx="378.5" cy="200.1" r="4.1"/><circle cx="412.7" cy="195.6" r="4.1"/><circle cx="415.1" cy="184.5" r="4.1"/><circle cx="584.7" cy="226.4" r="4.1"/><circle cx="407.8" cy="196.6" r="4.1"/><circle cx="558.1" cy="191.4" r="4.1"/><circle cx="599.5" cy="213.0" r="4.1"/><circle cx="431.5" cy="227.3" r="4.1"/><circle cx="559.3" cy="227.7" r="4.1"/><circle cx="782.9" cy="191.1" r="4.1"/><circle cx="587.7" cy="190.1" r="4.1"/><circle cx="445.3" cy="225.0" r="4.1"/><circle cx="530.3" cy="235.9" r="4.1"/><circle cx="404.0" cy="180.7" r="4.1"/><circle cx="580.0" cy="240.5" r="4.1"/><circle cx="667.7" cy="203.8" r="4.1"/><circle cx="418.5" cy="224.5" r="4.1"/><circle cx="508.9" cy="244.8" r="4.1"/><circle cx="704.7" cy="204.6" r="4.1"/><circle cx="466.2" cy="211.3" r="4.1"/><circle cx="567.7" cy="176.4" r="4.1"/><circle cx="388.4" cy="158.6" r="4.1"/><circle cx="418.7" cy="211.3" r="4.1"/><circle cx="464.1" cy="185.3" r="4.1"/><circle cx="480.6" cy="218.4" r="4.1"/><circle cx="463.1" cy="225.8" r="4.1"/><circle cx="458.3" cy="172.7" r="4.1"/><circle cx="515.9" cy="215.1" r="4.1"/><circle cx="634.9" cy="207.8" r="4.1"/><circle cx="567.4" cy="213.5" r="4.1"/><circle cx="838.0" cy="210.1" r="4.1"/><circle cx="570.9" cy="220.2" r="4.1"/><circle cx="749.6" cy="191.2" r="4.1"/><circle cx="580.0" cy="180.3" r="4.1"/><circle cx="627.6" cy="215.2" r="4.1"/><circle cx="330.8" cy="236.8" r="4.1"/><circle cx="521.5" cy="206.2" r="4.1"/><circle cx="529.9" cy="239.1" r="4.1"/><circle cx="504.7" cy="220.9" r="4.1"/><circle cx="667.5" cy="157.5" r="4.1"/><circle cx="483.8" cy="199.2" r="4.1"/><circle cx="476.4" cy="230.1" r="4.1"/><circle cx="502.9" cy="190.5" r="4.1"/><circle cx="506.9" cy="255.3" r="4.1"/><circle cx="598.9" cy="222.1" r="4.1"/><circle cx="355.8" cy="174.6" r="4.1"/><circle cx="405.0" cy="191.3" r="4.1"/><circle cx="582.0" cy="236.8" r="4.1"/><circle cx="561.0" cy="242.9" r="4.1"/><circle cx="485.3" cy="188.9" r="4.1"/><circle cx="456.8" cy="208.3" r="4.1"/><circle cx="419.0" cy="220.0" r="4.1"/><circle cx="531.4" cy="198.4" r="4.1"/><circle cx="710.9" cy="219.5" r="4.1"/><circle cx="386.6" cy="248.4" r="4.1"/><circle cx="760.6" cy="189.9" r="4.1"/><circle cx="662.2" cy="221.1" r="4.1"/><circle cx="474.3" cy="228.7" r="4.1"/><circle cx="653.3" cy="235.8" r="4.1"/><circle cx="327.5" cy="201.9" r="4.1"/><circle cx="289.1" cy="224.5" r="4.1"/><circle cx="353.1" cy="193.9" r="4.1"/><circle cx="480.5" cy="213.0" r="4.1"/><circle cx="492.8" cy="184.1" r="4.1"/><circle cx="465.3" cy="215.5" r="4.1"/><circle cx="554.3" cy="221.2" r="4.1"/><circle cx="611.7" cy="230.8" r="4.1"/><circle cx="334.3" cy="191.8" r="4.1"/><circle cx="480.1" cy="234.0" r="4.1"/><circle cx="372.4" cy="229.5" r="4.1"/><circle cx="341.3" cy="200.0" r="4.1"/><circle cx="394.2" cy="197.0" r="4.1"/><circle cx="538.2" cy="221.7" r="4.1"/><circle cx="625.4" cy="205.5" r="4.1"/><circle cx="621.6" cy="241.6" r="4.1"/><circle cx="395.8" cy="213.6" r="4.1"/><circle cx="425.2" cy="187.9" r="4.1"/><circle cx="406.5" cy="172.2" r="4.1"/><circle cx="605.1" cy="210.8" r="4.1"/><circle cx="244.7" cy="212.8" r="4.1"/><circle cx="719.3" cy="197.5" r="4.1"/><circle cx="469.7" cy="183.5" r="4.1"/><circle cx="426.4" cy="196.8" r="4.1"/><circle cx="589.1" cy="223.3" r="4.1"/><circle cx="689.5" cy="199.6" r="4.1"/><circle cx="589.5" cy="186.5" r="4.1"/><circle cx="692.4" cy="222.5" r="4.1"/><circle cx="559.4" cy="235.8" r="4.1"/><circle cx="718.0" cy="196.3" r="4.1"/><circle cx="720.3" cy="199.4" r="4.1"/><circle cx="525.5" cy="186.5" r="4.1"/><circle cx="748.4" cy="205.3" r="4.1"/><circle cx="563.8" cy="221.0" r="4.1"/><circle cx="552.5" cy="216.5" r="4.1"/><circle cx="406.4" cy="229.2" r="4.1"/><circle cx="498.1" cy="227.4" r="4.1"/><circle cx="652.5" cy="219.2" r="4.1"/><circle cx="349.7" cy="217.5" r="4.1"/><circle cx="634.0" cy="183.3" r="4.1"/><circle cx="590.4" cy="233.4" r="4.1"/><circle cx="580.1" cy="208.2" r="4.1"/><circle cx="220.3" cy="219.8" r="4.1"/><circle cx="524.9" cy="175.3" r="4.1"/><circle cx="633.8" cy="201.5" r="4.1"/><circle cx="429.4" cy="215.1" r="4.1"/><circle cx="553.0" cy="189.7" r="4.1"/><circle cx="195.4" cy="205.7" r="4.1"/><circle cx="637.2" cy="217.3" r="4.1"/><circle cx="443.9" cy="174.3" r="4.1"/><circle cx="666.1" cy="191.9" r="4.1"/><circle cx="272.9" cy="170.1" r="4.1"/><circle cx="640.2" cy="182.3" r="4.1"/><circle cx="505.6" cy="190.5" r="4.1"/><circle cx="656.9" cy="204.2" r="4.1"/><circle cx="405.8" cy="230.3" r="4.1"/><circle cx="450.3" cy="191.9" r="4.1"/><circle cx="864.8" cy="205.5" r="4.1"/><circle cx="419.7" cy="192.6" r="4.1"/><circle cx="437.6" cy="207.2" r="4.1"/><circle cx="499.8" cy="221.8" r="4.1"/><circle cx="391.8" cy="228.5" r="4.1"/><circle cx="712.4" cy="192.0" r="4.1"/><circle cx="789.8" cy="179.4" r="4.1"/><circle cx="437.9" cy="213.2" r="4.1"/><circle cx="289.9" cy="197.3" r="4.1"/><circle cx="709.7" cy="177.4" r="4.1"/><circle cx="700.5" cy="224.8" r="4.1"/><circle cx="658.9" cy="214.3" r="4.1"/><circle cx="707.4" cy="230.9" r="4.1"/><circle cx="414.2" cy="181.8" r="4.1"/><circle cx="515.5" cy="201.4" r="4.1"/><circle cx="339.4" cy="216.8" r="4.1"/><circle cx="334.5" cy="242.4" r="4.1"/><circle cx="682.0" cy="210.8" r="4.1"/><circle cx="442.6" cy="185.6" r="4.1"/><circle cx="550.6" cy="216.0" r="4.1"/><circle cx="447.1" cy="193.2" r="4.1"/><circle cx="655.5" cy="233.3" r="4.1"/><circle cx="800.8" cy="205.8" r="4.1"/><circle cx="610.3" cy="194.1" r="4.1"/><circle cx="363.6" cy="223.6" r="4.1"/><circle cx="593.6" cy="224.6" r="4.1"/><circle cx="739.2" cy="201.6" r="4.1"/><circle cx="468.4" cy="209.0" r="4.1"/><circle cx="427.8" cy="211.9" r="4.1"/><circle cx="687.1" cy="202.4" r="4.1"/><circle cx="560.2" cy="202.1" r="4.1"/><circle cx="380.2" cy="226.6" r="4.1"/><circle cx="484.9" cy="221.1" r="4.1"/><circle cx="430.4" cy="197.3" r="4.1"/><circle cx="582.8" cy="182.9" r="4.1"/><circle cx="555.8" cy="177.9" r="4.1"/><circle cx="706.6" cy="224.9" r="4.1"/><circle cx="642.7" cy="183.5" r="4.1"/><circle cx="313.4" cy="190.6" r="4.1"/><circle cx="598.9" cy="207.5" r="4.1"/><circle cx="669.8" cy="196.4" r="4.1"/><circle cx="605.9" cy="189.1" r="4.1"/><circle cx="689.1" cy="168.6" r="4.1"/><circle cx="460.3" cy="229.3" r="4.1"/><circle cx="402.2" cy="194.0" r="4.1"/><circle cx="674.6" cy="209.8" r="4.1"/><circle cx="385.5" cy="211.2" r="4.1"/><circle cx="227.1" cy="182.3" r="4.1"/><circle cx="688.4" cy="189.3" r="4.1"/><circle cx="435.0" cy="228.4" r="4.1"/><circle cx="495.6" cy="212.8" r="4.1"/><circle cx="337.4" cy="201.9" r="4.1"/><circle cx="347.9" cy="236.9" r="4.1"/><circle cx="372.3" cy="188.3" r="4.1"/><circle cx="487.7" cy="208.3" r="4.1"/><circle cx="593.5" cy="203.3" r="4.1"/><circle cx="648.9" cy="168.2" r="4.1"/><circle cx="368.7" cy="205.9" r="4.1"/><circle cx="385.4" cy="214.3" r="4.1"/><circle cx="638.1" cy="169.6" r="4.1"/><circle cx="529.1" cy="217.4" r="4.1"/><circle cx="317.3" cy="217.9" r="4.1"/><circle cx="415.2" cy="183.7" r="4.1"/><circle cx="575.7" cy="200.9" r="4.1"/><circle cx="568.9" cy="196.7" r="4.1"/><circle cx="744.4" cy="203.2" r="4.1"/><circle cx="473.9" cy="209.6" r="4.1"/><circle cx="685.9" cy="223.4" r="4.1"/><circle cx="432.4" cy="223.3" r="4.1"/><circle cx="702.5" cy="197.5" r="4.1"/><circle cx="429.4" cy="204.0" r="4.1"/><circle cx="487.4" cy="171.9" r="4.1"/><circle cx="814.6" cy="222.8" r="4.1"/><circle cx="585.8" cy="217.0" r="4.1"/><circle cx="555.8" cy="228.4" r="4.1"/><circle cx="864.7" cy="177.3" r="4.1"/><circle cx="592.2" cy="232.9" r="4.1"/><circle cx="421.7" cy="190.2" r="4.1"/><circle cx="646.3" cy="176.0" r="4.1"/><circle cx="368.7" cy="209.6" r="4.1"/><circle cx="703.4" cy="191.2" r="4.1"/><circle cx="714.6" cy="251.9" r="4.1"/><circle cx="456.9" cy="214.9" r="4.1"/><circle cx="448.9" cy="241.9" r="4.1"/><circle cx="565.5" cy="203.0" r="4.1"/><circle cx="542.0" cy="206.4" r="4.1"/><circle cx="398.3" cy="223.0" r="4.1"/><circle cx="622.2" cy="186.5" r="4.1"/><circle cx="244.1" cy="199.1" r="4.1"/><circle cx="477.2" cy="217.7" r="4.1"/><circle cx="481.4" cy="217.5" r="4.1"/><circle cx="500.3" cy="237.9" r="4.1"/><circle cx="584.4" cy="210.6" r="4.1"/><circle cx="362.0" cy="161.5" r="4.1"/><circle cx="625.2" cy="221.7" r="4.1"/><circle cx="513.8" cy="197.6" r="4.1"/><circle cx="445.7" cy="218.3" r="4.1"/><circle cx="341.9" cy="189.5" r="4.1"/><circle cx="368.5" cy="197.2" r="4.1"/><circle cx="592.1" cy="211.5" r="4.1"/><circle cx="400.3" cy="244.5" r="4.1"/><circle cx="549.2" cy="217.5" r="4.1"/><circle cx="693.7" cy="181.1" r="4.1"/><circle cx="689.5" cy="211.8" r="4.1"/><circle cx="766.0" cy="193.2" r="4.1"/><circle cx="497.0" cy="216.8" r="4.1"/><circle cx="382.7" cy="246.3" r="4.1"/><circle cx="687.7" cy="197.5" r="4.1"/><circle cx="584.8" cy="199.8" r="4.1"/><circle cx="702.7" cy="218.9" r="4.1"/><circle cx="541.5" cy="214.4" r="4.1"/><circle cx="713.1" cy="200.4" r="4.1"/><circle cx="662.5" cy="219.2" r="4.1"/><circle cx="643.7" cy="199.2" r="4.1"/><circle cx="612.8" cy="210.9" r="4.1"/><circle cx="597.5" cy="256.7" r="4.1"/><circle cx="573.7" cy="209.6" r="4.1"/><circle cx="572.6" cy="219.2" r="4.1"/><circle cx="683.3" cy="224.4" r="4.1"/><circle cx="465.7" cy="198.0" r="4.1"/><circle cx="791.3" cy="216.9" r="4.1"/><circle cx="524.5" cy="195.1" r="4.1"/><circle cx="682.6" cy="183.3" r="4.1"/><circle cx="526.8" cy="203.5" r="4.1"/><circle cx="504.2" cy="239.5" r="4.1"/><circle cx="834.3" cy="222.1" r="4.1"/><circle cx="495.1" cy="187.1" r="4.1"/><circle cx="354.9" cy="212.0" r="4.1"/><circle cx="436.5" cy="223.7" r="4.1"/><circle cx="493.9" cy="208.4" r="4.1"/><circle cx="852.1" cy="195.8" r="4.1"/><circle cx="569.9" cy="201.0" r="4.1"/><circle cx="675.3" cy="192.8" r="4.1"/><circle cx="394.8" cy="224.0" r="4.1"/><circle cx="591.0" cy="212.3" r="4.1"/><circle cx="637.2" cy="211.9" r="4.1"/><circle cx="800.9" cy="207.0" r="4.1"/><circle cx="439.0" cy="251.1" r="4.1"/><circle cx="627.3" cy="211.5" r="4.1"/><circle cx="583.7" cy="235.0" r="4.1"/><circle cx="391.9" cy="176.9" r="4.1"/><circle cx="537.1" cy="173.4" r="4.1"/><circle cx="501.7" cy="170.7" r="4.1"/><circle cx="203.0" cy="189.2" r="4.1"/><circle cx="626.6" cy="216.8" r="4.1"/><circle cx="618.2" cy="186.1" r="4.1"/><circle cx="476.3" cy="210.7" r="4.1"/><circle cx="346.0" cy="193.4" r="4.1"/><circle cx="754.3" cy="225.6" r="4.1"/><circle cx="578.4" cy="218.9" r="4.1"/><circle cx="687.2" cy="196.5" r="4.1"/><circle cx="464.4" cy="207.0" r="4.1"/><circle cx="657.6" cy="158.5" r="4.1"/><circle cx="530.8" cy="233.7" r="4.1"/><circle cx="527.5" cy="207.0" r="4.1"/><circle cx="539.7" cy="226.7" r="4.1"/><circle cx="701.3" cy="209.4" r="4.1"/><circle cx="557.8" cy="217.8" r="4.1"/><circle cx="517.6" cy="207.8" r="4.1"/><circle cx="499.8" cy="185.9" r="4.1"/><circle cx="589.3" cy="186.4" r="4.1"/><circle cx="410.3" cy="200.9" r="4.1"/><circle cx="467.1" cy="206.3" r="4.1"/><circle cx="532.3" cy="203.9" r="4.1"/><circle cx="457.9" cy="203.7" r="4.1"/><circle cx="522.7" cy="194.2" r="4.1"/><circle cx="451.4" cy="206.3" r="4.1"/><circle cx="732.4" cy="234.2" r="4.1"/><circle cx="605.1" cy="189.5" r="4.1"/><circle cx="532.1" cy="169.2" r="4.1"/><circle cx="857.3" cy="202.5" r="4.1"/><circle cx="586.7" cy="236.4" r="4.1"/><circle cx="527.3" cy="177.6" r="4.1"/><circle cx="583.8" cy="213.4" r="4.1"/><circle cx="744.2" cy="211.0" r="4.1"/><circle cx="537.2" cy="193.5" r="4.1"/><circle cx="412.1" cy="179.9" r="4.1"/><circle cx="640.4" cy="193.1" r="4.1"/><circle cx="394.8" cy="203.7" r="4.1"/><circle cx="492.0" cy="230.0" r="4.1"/><circle cx="531.5" cy="202.5" r="4.1"/><circle cx="673.8" cy="191.9" r="4.1"/><circle cx="721.8" cy="228.2" r="4.1"/><circle cx="378.8" cy="219.3" r="4.1"/><circle cx="489.8" cy="196.3" r="4.1"/><circle cx="337.8" cy="247.0" r="4.1"/><circle cx="559.8" cy="247.8" r="4.1"/><circle cx="525.2" cy="211.2" r="4.1"/><circle cx="489.4" cy="200.9" r="4.1"/><circle cx="440.7" cy="216.5" r="4.1"/><circle cx="484.0" cy="255.1" r="4.1"/><circle cx="431.8" cy="205.8" r="4.1"/><circle cx="616.5" cy="234.6" r="4.1"/><circle cx="759.5" cy="192.4" r="4.1"/><circle cx="260.2" cy="208.5" r="4.1"/><circle cx="523.1" cy="200.7" r="4.1"/><circle cx="479.3" cy="192.6" r="4.1"/><circle cx="611.2" cy="217.5" r="4.1"/><circle cx="402.0" cy="188.7" r="4.1"/><circle cx="518.7" cy="179.8" r="4.1"/><circle cx="389.3" cy="197.9" r="4.1"/><circle cx="640.8" cy="178.0" r="4.1"/><circle cx="554.3" cy="219.6" r="4.1"/><circle cx="516.5" cy="186.8" r="4.1"/><circle cx="593.5" cy="200.6" r="4.1"/><circle cx="504.2" cy="227.3" r="4.1"/><circle cx="314.8" cy="208.0" r="4.1"/><circle cx="626.2" cy="217.6" r="4.1"/><circle cx="581.7" cy="218.1" r="4.1"/><circle cx="517.6" cy="204.4" r="4.1"/><circle cx="682.6" cy="183.7" r="4.1"/><circle cx="716.4" cy="213.1" r="4.1"/><circle cx="381.7" cy="203.6" r="4.1"/><circle cx="426.7" cy="237.6" r="4.1"/><circle cx="764.1" cy="204.0" r="4.1"/><circle cx="745.4" cy="181.7" r="4.1"/><circle cx="432.9" cy="189.0" r="4.1"/><circle cx="368.9" cy="196.2" r="4.1"/><circle cx="447.5" cy="217.5" r="4.1"/><circle cx="467.7" cy="227.0" r="4.1"/><circle cx="310.4" cy="208.3" r="4.1"/><circle cx="544.4" cy="234.8" r="4.1"/><circle cx="354.4" cy="232.6" r="4.1"/><circle cx="364.6" cy="186.2" r="4.1"/><circle cx="672.6" cy="225.8" r="4.1"/><circle cx="440.9" cy="168.0" r="4.1"/><circle cx="529.5" cy="236.7" r="4.1"/><circle cx="631.0" cy="197.1" r="4.1"/><circle cx="657.7" cy="231.2" r="4.1"/><circle cx="491.1" cy="202.6" r="4.1"/><circle cx="546.3" cy="228.4" r="4.1"/><circle cx="420.3" cy="205.4" r="4.1"/><circle cx="793.0" cy="209.6" r="4.1"/><circle cx="634.1" cy="215.9" r="4.1"/><circle cx="380.1" cy="195.4" r="4.1"/><circle cx="540.5" cy="174.1" r="4.1"/><circle cx="643.3" cy="218.9" r="4.1"/><circle cx="609.4" cy="187.4" r="4.1"/><circle cx="804.9" cy="204.5" r="4.1"/><circle cx="738.7" cy="206.9" r="4.1"/><circle cx="461.8" cy="159.5" r="4.1"/><circle cx="527.0" cy="252.5" r="4.1"/><circle cx="354.2" cy="220.8" r="4.1"/><circle cx="576.0" cy="244.9" r="4.1"/><circle cx="561.8" cy="213.0" r="4.1"/><circle cx="236.7" cy="198.9" r="4.1"/><circle cx="442.5" cy="168.0" r="4.1"/><circle cx="556.2" cy="178.6" r="4.1"/><circle cx="357.9" cy="215.7" r="4.1"/><circle cx="414.3" cy="196.1" r="4.1"/><circle cx="486.9" cy="170.7" r="4.1"/><circle cx="589.4" cy="202.6" r="4.1"/><circle cx="515.9" cy="201.8" r="4.1"/><circle cx="411.1" cy="195.6" r="4.1"/><circle cx="654.0" cy="238.4" r="4.1"/><circle cx="461.7" cy="223.6" r="4.1"/><circle cx="467.6" cy="199.1" r="4.1"/><circle cx="340.0" cy="194.7" r="4.1"/><circle cx="426.0" cy="225.9" r="4.1"/><circle cx="634.3" cy="213.2" r="4.1"/><circle cx="305.6" cy="208.9" r="4.1"/><circle cx="529.6" cy="209.5" r="4.1"/><circle cx="643.9" cy="191.5" r="4.1"/><circle cx="485.3" cy="204.0" r="4.1"/><circle cx="574.6" cy="202.8" r="4.1"/><circle cx="378.1" cy="236.5" r="4.1"/><circle cx="729.7" cy="228.8" r="4.1"/><circle cx="699.4" cy="199.5" r="4.1"/><circle cx="574.0" cy="240.3" r="4.1"/><circle cx="285.6" cy="200.6" r="4.1"/><circle cx="388.4" cy="220.4" r="4.1"/><circle cx="681.4" cy="223.7" r="4.1"/><circle cx="788.1" cy="192.5" r="4.1"/><circle cx="582.9" cy="220.8" r="4.1"/><circle cx="720.6" cy="224.7" r="4.1"/><circle cx="451.9" cy="220.8" r="4.1"/><circle cx="512.5" cy="205.1" r="4.1"/><circle cx="601.2" cy="251.6" r="4.1"/><circle cx="318.4" cy="206.8" r="4.1"/><circle cx="676.2" cy="211.6" r="4.1"/><circle cx="731.5" cy="186.1" r="4.1"/><circle cx="373.5" cy="214.3" r="4.1"/><circle cx="343.6" cy="259.2" r="4.1"/><circle cx="590.7" cy="178.1" r="4.1"/><circle cx="445.1" cy="229.7" r="4.1"/><circle cx="657.0" cy="235.7" r="4.1"/><circle cx="562.4" cy="229.9" r="4.1"/><circle cx="470.8" cy="217.1" r="4.1"/><circle cx="846.1" cy="188.2" r="4.1"/><circle cx="560.0" cy="188.5" r="4.1"/><circle cx="430.8" cy="219.3" r="4.1"/><circle cx="554.6" cy="195.8" r="4.1"/><circle cx="389.2" cy="214.5" r="4.1"/><circle cx="429.6" cy="204.1" r="4.1"/><circle cx="595.9" cy="203.2" r="4.1"/><circle cx="459.6" cy="193.3" r="4.1"/><circle cx="474.6" cy="219.7" r="4.1"/><circle cx="781.7" cy="209.4" r="4.1"/><circle cx="664.4" cy="201.9" r="4.1"/><circle cx="656.2" cy="204.7" r="4.1"/><circle cx="616.5" cy="223.6" r="4.1"/><circle cx="610.0" cy="169.8" r="4.1"/><circle cx="750.9" cy="216.5" r="4.1"/><circle cx="537.1" cy="190.4" r="4.1"/><circle cx="808.7" cy="202.3" r="4.1"/><circle cx="402.1" cy="180.5" r="4.1"/><circle cx="503.0" cy="253.3" r="4.1"/><circle cx="340.2" cy="162.8" r="4.1"/><circle cx="490.1" cy="211.2" r="4.1"/><circle cx="615.0" cy="233.0" r="4.1"/><circle cx="750.1" cy="203.9" r="4.1"/><circle cx="443.8" cy="158.4" r="4.1"/><circle cx="540.7" cy="195.8" r="4.1"/><circle cx="487.9" cy="233.0" r="4.1"/><circle cx="432.9" cy="216.6" r="4.1"/><circle cx="367.6" cy="178.1" r="4.1"/><circle cx="548.7" cy="236.7" r="4.1"/><circle cx="289.0" cy="210.5" r="4.1"/><circle cx="555.9" cy="213.0" r="4.1"/><circle cx="542.9" cy="160.3" r="4.1"/><circle cx="444.6" cy="212.9" r="4.1"/><circle cx="393.5" cy="178.6" r="4.1"/><circle cx="339.4" cy="221.2" r="4.1"/><circle cx="811.0" cy="223.9" r="4.1"/><circle cx="345.5" cy="185.2" r="4.1"/><circle cx="765.6" cy="193.4" r="4.1"/><circle cx="626.8" cy="243.6" r="4.1"/><circle cx="487.2" cy="193.0" r="4.1"/><circle cx="372.3" cy="192.9" r="4.1"/><circle cx="690.9" cy="219.8" r="4.1"/><circle cx="790.5" cy="202.0" r="4.1"/><circle cx="404.6" cy="200.9" r="4.1"/><circle cx="496.6" cy="217.1" r="4.1"/><circle cx="692.2" cy="219.2" r="4.1"/><circle cx="588.5" cy="221.1" r="4.1"/><circle cx="829.6" cy="212.5" r="4.1"/><circle cx="457.3" cy="235.1" r="4.1"/><circle cx="618.5" cy="207.6" r="4.1"/><circle cx="358.7" cy="238.7" r="4.1"/><circle cx="434.1" cy="208.5" r="4.1"/><circle cx="220.0" cy="228.9" r="4.1"/><circle cx="521.7" cy="188.5" r="4.1"/><circle cx="519.7" cy="165.4" r="4.1"/><circle cx="817.4" cy="178.4" r="4.1"/><circle cx="490.8" cy="235.9" r="4.1"/><circle cx="538.1" cy="179.5" r="4.1"/><circle cx="625.9" cy="202.1" r="4.1"/><circle cx="769.7" cy="207.9" r="4.1"/><circle cx="530.7" cy="219.5" r="4.1"/><circle cx="690.5" cy="206.9" r="4.1"/><circle cx="615.0" cy="177.1" r="4.1"/><circle cx="497.0" cy="195.1" r="4.1"/><circle cx="551.1" cy="215.6" r="4.1"/><circle cx="544.1" cy="221.1" r="4.1"/><circle cx="407.2" cy="215.6" r="4.1"/><circle cx="715.7" cy="194.2" r="4.1"/><circle cx="339.2" cy="166.9" r="4.1"/><circle cx="709.6" cy="229.4" r="4.1"/><circle cx="678.2" cy="206.8" r="4.1"/><circle cx="526.4" cy="215.0" r="4.1"/><circle cx="429.0" cy="222.8" r="4.1"/><circle cx="507.1" cy="198.3" r="4.1"/><circle cx="608.4" cy="195.0" r="4.1"/><circle cx="647.5" cy="237.0" r="4.1"/><circle cx="581.5" cy="228.9" r="4.1"/><circle cx="683.6" cy="181.3" r="4.1"/><circle cx="459.1" cy="200.0" r="4.1"/><circle cx="573.9" cy="195.6" r="4.1"/><circle cx="312.7" cy="217.5" r="4.1"/><circle cx="650.5" cy="214.9" r="4.1"/><circle cx="562.1" cy="197.0" r="4.1"/><circle cx="479.7" cy="217.4" r="4.1"/><circle cx="708.2" cy="230.4" r="4.1"/><circle cx="640.1" cy="206.8" r="4.1"/><circle cx="131.9" cy="187.5" r="4.1"/><circle cx="545.7" cy="228.8" r="4.1"/><circle cx="329.1" cy="184.2" r="4.1"/><circle cx="694.4" cy="191.8" r="4.1"/><circle cx="464.8" cy="206.6" r="4.1"/><circle cx="550.7" cy="207.7" r="4.1"/><circle cx="503.5" cy="193.3" r="4.1"/><circle cx="590.7" cy="192.6" r="4.1"/><circle cx="633.3" cy="234.5" r="4.1"/><circle cx="726.4" cy="235.5" r="4.1"/><circle cx="396.9" cy="184.8" r="4.1"/><circle cx="767.6" cy="204.4" r="4.1"/><circle cx="405.0" cy="197.9" r="4.1"/><circle cx="580.0" cy="199.7" r="4.1"/><circle cx="707.7" cy="174.1" r="4.1"/><circle cx="643.2" cy="232.5" r="4.1"/><circle cx="403.9" cy="183.6" r="4.1"/><circle cx="438.2" cy="224.2" r="4.1"/><circle cx="472.9" cy="191.3" r="4.1"/><circle cx="532.5" cy="178.2" r="4.1"/><circle cx="706.1" cy="236.2" r="4.1"/><circle cx="352.8" cy="198.2" r="4.1"/><circle cx="607.5" cy="212.7" r="4.1"/><circle cx="628.3" cy="213.0" r="4.1"/><circle cx="620.8" cy="205.9" r="4.1"/><circle cx="607.5" cy="229.2" r="4.1"/><circle cx="759.9" cy="227.3" r="4.1"/><circle cx="610.6" cy="192.8" r="4.1"/><circle cx="664.0" cy="188.8" r="4.1"/><circle cx="621.5" cy="218.9" r="4.1"/><circle cx="725.6" cy="183.4" r="4.1"/><circle cx="502.1" cy="199.1" r="4.1"/><circle cx="499.2" cy="228.7" r="4.1"/><circle cx="399.5" cy="219.2" r="4.1"/><circle cx="269.2" cy="201.6" r="4.1"/><circle cx="484.6" cy="227.2" r="4.1"/><circle cx="440.3" cy="172.7" r="4.1"/><circle cx="611.5" cy="203.9" r="4.1"/><circle cx="326.6" cy="198.4" r="4.1"/><circle cx="747.3" cy="228.6" r="4.1"/><circle cx="579.3" cy="226.1" r="4.1"/><circle cx="504.0" cy="223.5" r="4.1"/><circle cx="437.1" cy="200.9" r="4.1"/><circle cx="425.9" cy="212.4" r="4.1"/><circle cx="376.2" cy="212.9" r="4.1"/><circle cx="461.0" cy="200.1" r="4.1"/><circle cx="540.8" cy="202.0" r="4.1"/><circle cx="514.2" cy="175.3" r="4.1"/><circle cx="335.0" cy="210.9" r="4.1"/><circle cx="501.4" cy="228.3" r="4.1"/><circle cx="410.5" cy="207.0" r="4.1"/><circle cx="563.1" cy="175.7" r="4.1"/><circle cx="810.0" cy="218.5" r="4.1"/><circle cx="630.4" cy="205.7" r="4.1"/><circle cx="494.5" cy="214.3" r="4.1"/><circle cx="304.5" cy="198.2" r="4.1"/><circle cx="335.0" cy="201.3" r="4.1"/><circle cx="295.5" cy="223.9" r="4.1"/><circle cx="645.1" cy="211.6" r="4.1"/><circle cx="429.1" cy="186.8" r="4.1"/><circle cx="549.0" cy="183.6" r="4.1"/><circle cx="449.8" cy="187.2" r="4.1"/><circle cx="553.1" cy="188.5" r="4.1"/><circle cx="743.0" cy="213.8" r="4.1"/><circle cx="440.7" cy="214.5" r="4.1"/><circle cx="490.5" cy="187.1" r="4.1"/><circle cx="423.1" cy="231.6" r="4.1"/><circle cx="666.6" cy="208.0" r="4.1"/><circle cx="391.3" cy="246.0" r="4.1"/><circle cx="375.8" cy="214.8" r="4.1"/><circle cx="338.9" cy="221.7" r="4.1"/><circle cx="335.9" cy="232.2" r="4.1"/><circle cx="608.1" cy="194.5" r="4.1"/><circle cx="912.1" cy="222.3" r="4.1"/><circle cx="395.7" cy="214.5" r="4.1"/><circle cx="677.7" cy="212.2" r="4.1"/><circle cx="576.3" cy="222.3" r="4.1"/><circle cx="380.3" cy="176.7" r="4.1"/><circle cx="499.8" cy="217.2" r="4.1"/><circle cx="506.2" cy="202.6" r="4.1"/><circle cx="439.8" cy="234.4" r="4.1"/><circle cx="263.8" cy="213.6" r="4.1"/><circle cx="595.1" cy="213.2" r="4.1"/><circle cx="587.9" cy="219.1" r="4.1"/><circle cx="455.9" cy="203.7" r="4.1"/><circle cx="561.6" cy="173.8" r="4.1"/><circle cx="667.0" cy="209.5" r="4.1"/><circle cx="562.0" cy="209.7" r="4.1"/><circle cx="600.4" cy="215.0" r="4.1"/><circle cx="640.3" cy="153.1" r="4.1"/><circle cx="245.5" cy="172.6" r="4.1"/><circle cx="754.1" cy="195.0" r="4.1"/><circle cx="870.0" cy="191.8" r="4.1"/><circle cx="682.0" cy="221.7" r="4.1"/><circle cx="686.7" cy="210.0" r="4.1"/><circle cx="335.9" cy="202.3" r="4.1"/><circle cx="522.7" cy="204.2" r="4.1"/><circle cx="422.3" cy="224.8" r="4.1"/><circle cx="454.8" cy="223.2" r="4.1"/><circle cx="680.0" cy="195.8" r="4.1"/><circle cx="423.4" cy="200.1" r="4.1"/><circle cx="521.1" cy="251.2" r="4.1"/><circle cx="263.4" cy="204.8" r="4.1"/><circle cx="516.9" cy="179.9" r="4.1"/><circle cx="552.9" cy="220.3" r="4.1"/><circle cx="437.8" cy="201.6" r="4.1"/><circle cx="435.6" cy="237.4" r="4.1"/><circle cx="813.2" cy="189.1" r="4.1"/><circle cx="364.6" cy="230.2" r="4.1"/><circle cx="387.7" cy="233.1" r="4.1"/><circle cx="422.7" cy="213.4" r="4.1"/><circle cx="713.6" cy="156.7" r="4.1"/><circle cx="844.3" cy="219.6" r="4.1"/><circle cx="588.0" cy="233.3" r="4.1"/><circle cx="436.0" cy="197.0" r="4.1"/><circle cx="477.9" cy="201.9" r="4.1"/><circle cx="694.2" cy="171.7" r="4.1"/><circle cx="407.9" cy="233.5" r="4.1"/><circle cx="745.1" cy="213.3" r="4.1"/><circle cx="550.1" cy="198.7" r="4.1"/><circle cx="633.5" cy="199.2" r="4.1"/><circle cx="648.5" cy="183.8" r="4.1"/><circle cx="387.6" cy="224.1" r="4.1"/><circle cx="711.0" cy="209.5" r="4.1"/><circle cx="485.5" cy="189.0" r="4.1"/><circle cx="428.7" cy="196.6" r="4.1"/><circle cx="554.8" cy="215.6" r="4.1"/><circle cx="508.8" cy="228.2" r="4.1"/><circle cx="396.8" cy="188.1" r="4.1"/><circle cx="308.5" cy="186.6" r="4.1"/><circle cx="750.3" cy="210.4" r="4.1"/><circle cx="824.2" cy="172.4" r="4.1"/><circle cx="634.1" cy="232.2" r="4.1"/><circle cx="711.7" cy="218.1" r="4.1"/><circle cx="465.0" cy="221.0" r="4.1"/><circle cx="528.7" cy="216.5" r="4.1"/><circle cx="580.9" cy="225.2" r="4.1"/><circle cx="383.3" cy="218.1" r="4.1"/><circle cx="396.5" cy="207.8" r="4.1"/><circle cx="554.0" cy="216.2" r="4.1"/><circle cx="493.5" cy="192.8" r="4.1"/><circle cx="385.8" cy="208.4" r="4.1"/><circle cx="595.9" cy="206.7" r="4.1"/><circle cx="501.8" cy="175.6" r="4.1"/><circle cx="687.9" cy="200.0" r="4.1"/><circle cx="539.1" cy="203.4" r="4.1"/><circle cx="496.4" cy="207.1" r="4.1"/><circle cx="558.4" cy="205.4" r="4.1"/><circle cx="515.0" cy="194.6" r="4.1"/><circle cx="443.1" cy="223.6" r="4.1"/><circle cx="481.7" cy="182.5" r="4.1"/><circle cx="648.5" cy="173.5" r="4.1"/><circle cx="633.6" cy="182.3" r="4.1"/><circle cx="726.2" cy="217.0" r="4.1"/><circle cx="483.0" cy="215.9" r="4.1"/><circle cx="479.8" cy="203.4" r="4.1"/><circle cx="564.8" cy="189.2" r="4.1"/><circle cx="474.4" cy="210.5" r="4.1"/><circle cx="465.6" cy="213.1" r="4.1"/><circle cx="653.3" cy="174.6" r="4.1"/><circle cx="565.7" cy="220.8" r="4.1"/><circle cx="370.9" cy="184.2" r="4.1"/><circle cx="733.2" cy="187.6" r="4.1"/><circle cx="684.3" cy="234.7" r="4.1"/><circle cx="456.8" cy="200.8" r="4.1"/><circle cx="660.3" cy="218.4" r="4.1"/><circle cx="433.4" cy="226.7" r="4.1"/><circle cx="703.0" cy="245.7" r="4.1"/><circle cx="508.3" cy="239.7" r="4.1"/><circle cx="423.6" cy="197.9" r="4.1"/><circle cx="485.8" cy="214.8" r="4.1"/><circle cx="429.0" cy="200.9" r="4.1"/><circle cx="567.7" cy="229.1" r="4.1"/><circle cx="565.3" cy="213.4" r="4.1"/><circle cx="545.1" cy="212.4" r="4.1"/><circle cx="459.3" cy="239.2" r="4.1"/><circle cx="553.3" cy="197.4" r="4.1"/><circle cx="265.2" cy="203.6" r="4.1"/><circle cx="575.3" cy="226.3" r="4.1"/><circle cx="703.7" cy="208.8" r="4.1"/><circle cx="579.6" cy="192.7" r="4.1"/><circle cx="483.5" cy="168.1" r="4.1"/><circle cx="513.8" cy="225.4" r="4.1"/><circle cx="520.6" cy="193.7" r="4.1"/><circle cx="460.3" cy="162.0" r="4.1"/><circle cx="455.3" cy="205.3" r="4.1"/><circle cx="406.1" cy="175.7" r="4.1"/><circle cx="712.0" cy="261.2" r="4.1"/><circle cx="537.6" cy="176.1" r="4.1"/><circle cx="678.4" cy="206.9" r="4.1"/><circle cx="503.7" cy="246.2" r="4.1"/><circle cx="550.4" cy="190.2" r="4.1"/><circle cx="515.2" cy="184.5" r="4.1"/><circle cx="606.9" cy="181.2" r="4.1"/><circle cx="659.7" cy="181.4" r="4.1"/><circle cx="574.6" cy="207.3" r="4.1"/><circle cx="442.3" cy="222.4" r="4.1"/><circle cx="426.9" cy="216.4" r="4.1"/><circle cx="780.3" cy="207.4" r="4.1"/><circle cx="499.3" cy="198.1" r="4.1"/><circle cx="497.7" cy="216.8" r="4.1"/><circle cx="752.1" cy="205.6" r="4.1"/><circle cx="697.5" cy="188.2" r="4.1"/><circle cx="617.2" cy="199.8" r="4.1"/><circle cx="482.0" cy="158.3" r="4.1"/><circle cx="596.8" cy="230.9" r="4.1"/><circle cx="619.1" cy="218.6" r="4.1"/><circle cx="515.1" cy="234.3" r="4.1"/><circle cx="335.0" cy="231.2" r="4.1"/><circle cx="346.5" cy="195.1" r="4.1"/><circle cx="598.9" cy="227.6" r="4.1"/><circle cx="596.7" cy="228.8" r="4.1"/><circle cx="505.1" cy="212.4" r="4.1"/><circle cx="370.2" cy="189.8" r="4.1"/><circle cx="331.1" cy="214.2" r="4.1"/><circle cx="492.4" cy="214.2" r="4.1"/><circle cx="329.0" cy="187.3" r="4.1"/><circle cx="670.1" cy="196.7" r="4.1"/><circle cx="706.9" cy="197.0" r="4.1"/><circle cx="933.5" cy="186.6" r="4.1"/><circle cx="667.1" cy="228.0" r="4.1"/><circle cx="454.0" cy="202.1" r="4.1"/><circle cx="413.6" cy="220.1" r="4.1"/><circle cx="113.5" cy="185.0" r="4.1"/><circle cx="453.7" cy="189.4" r="4.1"/><circle cx="514.3" cy="228.7" r="4.1"/><circle cx="680.1" cy="178.4" r="4.1"/><circle cx="628.5" cy="231.4" r="4.1"/><circle cx="625.1" cy="181.9" r="4.1"/><circle cx="570.8" cy="202.3" r="4.1"/><circle cx="635.6" cy="225.1" r="4.1"/><circle cx="749.6" cy="230.3" r="4.1"/><circle cx="385.6" cy="213.1" r="4.1"/><circle cx="473.7" cy="207.2" r="4.1"/><circle cx="338.7" cy="221.7" r="4.1"/><circle cx="774.4" cy="194.8" r="4.1"/><circle cx="727.8" cy="236.3" r="4.1"/><circle cx="648.9" cy="206.8" r="4.1"/><circle cx="366.3" cy="206.7" r="4.1"/><circle cx="565.0" cy="246.3" r="4.1"/><circle cx="505.9" cy="200.1" r="4.1"/><circle cx="551.6" cy="233.4" r="4.1"/><circle cx="512.6" cy="259.5" r="4.1"/><circle cx="615.2" cy="219.7" r="4.1"/><circle cx="482.7" cy="211.5" r="4.1"/><circle cx="663.7" cy="187.5" r="4.1"/><circle cx="574.9" cy="217.0" r="4.1"/><circle cx="497.4" cy="175.5" r="4.1"/><circle cx="523.7" cy="176.2" r="4.1"/><circle cx="476.1" cy="183.5" r="4.1"/><circle cx="657.8" cy="178.6" r="4.1"/><circle cx="500.6" cy="199.3" r="4.1"/><circle cx="582.6" cy="218.5" r="4.1"/><circle cx="483.1" cy="192.9" r="4.1"/><circle cx="324.8" cy="186.2" r="4.1"/><circle cx="671.2" cy="201.6" r="4.1"/><circle cx="386.6" cy="211.9" r="4.1"/><circle cx="638.3" cy="239.9" r="4.1"/><circle cx="600.8" cy="192.3" r="4.1"/><circle cx="300.0" cy="199.2" r="4.1"/><circle cx="403.0" cy="234.3" r="4.1"/><circle cx="465.4" cy="204.6" r="4.1"/><circle cx="421.0" cy="191.4" r="4.1"/><circle cx="368.7" cy="209.0" r="4.1"/><circle cx="647.1" cy="190.1" r="4.1"/><circle cx="505.2" cy="190.7" r="4.1"/><circle cx="595.8" cy="238.0" r="4.1"/><circle cx="477.5" cy="213.1" r="4.1"/><circle cx="584.1" cy="196.4" r="4.1"/><circle cx="431.1" cy="187.2" r="4.1"/><circle cx="536.1" cy="176.8" r="4.1"/><circle cx="624.2" cy="247.4" r="4.1"/><circle cx="546.4" cy="208.1" r="4.1"/><circle cx="473.7" cy="191.5" r="4.1"/><circle cx="382.5" cy="180.7" r="4.1"/><circle cx="564.2" cy="170.9" r="4.1"/><circle cx="589.9" cy="226.5" r="4.1"/><circle cx="502.5" cy="214.6" r="4.1"/><circle cx="428.5" cy="229.1" r="4.1"/><circle cx="618.5" cy="189.3" r="4.1"/><circle cx="496.1" cy="181.5" r="4.1"/><circle cx="588.7" cy="186.8" r="4.1"/><circle cx="594.6" cy="196.3" r="4.1"/><circle cx="557.8" cy="221.1" r="4.1"/><circle cx="437.5" cy="190.8" r="4.1"/><circle cx="503.1" cy="211.8" r="4.1"/><circle cx="427.3" cy="208.9" r="4.1"/><circle cx="508.2" cy="187.8" r="4.1"/><circle cx="564.0" cy="200.7" r="4.1"/><circle cx="458.8" cy="200.9" r="4.1"/><circle cx="532.3" cy="216.1" r="4.1"/><circle cx="343.7" cy="206.6" r="4.1"/><circle cx="507.3" cy="209.6" r="4.1"/><circle cx="652.3" cy="191.2" r="4.1"/><circle cx="825.2" cy="210.5" r="4.1"/><circle cx="642.3" cy="184.7" r="4.1"/><circle cx="579.3" cy="242.8" r="4.1"/><circle cx="711.4" cy="181.2" r="4.1"/><circle cx="687.5" cy="210.3" r="4.1"/><circle cx="780.9" cy="182.7" r="4.1"/><circle cx="696.7" cy="204.9" r="4.1"/><circle cx="522.8" cy="188.5" r="4.1"/><circle cx="577.3" cy="175.0" r="4.1"/><circle cx="565.9" cy="218.5" r="4.1"/><circle cx="583.7" cy="205.0" r="4.1"/><circle cx="568.9" cy="210.3" r="4.1"/><circle cx="426.6" cy="202.3" r="4.1"/><circle cx="442.6" cy="210.4" r="4.1"/><circle cx="246.4" cy="212.0" r="4.1"/><circle cx="549.7" cy="223.4" r="4.1"/><circle cx="540.6" cy="210.9" r="4.1"/><circle cx="639.6" cy="177.0" r="4.1"/><circle cx="665.5" cy="197.2" r="4.1"/><circle cx="553.8" cy="166.7" r="4.1"/><circle cx="781.5" cy="225.3" r="4.1"/><circle cx="811.0" cy="231.5" r="4.1"/><circle cx="365.2" cy="200.7" r="4.1"/><circle cx="690.1" cy="242.2" r="4.1"/><circle cx="603.8" cy="201.9" r="4.1"/><circle cx="600.5" cy="221.7" r="4.1"/><circle cx="675.3" cy="213.9" r="4.1"/><circle cx="435.7" cy="201.4" r="4.1"/><circle cx="454.1" cy="205.8" r="4.1"/><circle cx="420.1" cy="167.2" r="4.1"/><circle cx="430.5" cy="193.3" r="4.1"/><circle cx="525.6" cy="234.2" r="4.1"/><circle cx="329.6" cy="185.9" r="4.1"/><circle cx="388.4" cy="235.2" r="4.1"/><circle cx="623.6" cy="204.9" r="4.1"/><circle cx="529.6" cy="233.3" r="4.1"/><circle cx="595.4" cy="224.4" r="4.1"/><circle cx="266.2" cy="178.9" r="4.1"/><circle cx="426.3" cy="218.6" r="4.1"/><circle cx="459.4" cy="220.5" r="4.1"/><circle cx="544.6" cy="218.8" r="4.1"/><circle cx="455.0" cy="213.4" r="4.1"/><circle cx="675.1" cy="176.2" r="4.1"/><circle cx="531.5" cy="231.9" r="4.1"/><circle cx="542.4" cy="233.1" r="4.1"/><circle cx="541.9" cy="194.5" r="4.1"/><circle cx="642.5" cy="240.7" r="4.1"/><circle cx="471.6" cy="214.6" r="4.1"/><circle cx="702.5" cy="182.8" r="4.1"/><circle cx="606.5" cy="206.8" r="4.1"/><circle cx="562.2" cy="217.1" r="4.1"/><circle cx="545.9" cy="222.0" r="4.1"/><circle cx="615.3" cy="226.4" r="4.1"/><circle cx="687.0" cy="219.5" r="4.1"/><circle cx="676.9" cy="204.0" r="4.1"/><circle cx="594.3" cy="180.5" r="4.1"/><circle cx="666.9" cy="186.4" r="4.1"/><circle cx="557.0" cy="219.0" r="4.1"/><circle cx="721.3" cy="222.5" r="4.1"/><circle cx="536.0" cy="192.2" r="4.1"/><circle cx="733.7" cy="216.3" r="4.1"/><circle cx="555.5" cy="213.9" r="4.1"/><circle cx="370.2" cy="230.6" r="4.1"/><circle cx="511.2" cy="228.2" r="4.1"/><circle cx="411.9" cy="199.7" r="4.1"/><circle cx="612.0" cy="226.5" r="4.1"/><circle cx="312.6" cy="220.9" r="4.1"/><circle cx="619.0" cy="205.4" r="4.1"/><circle cx="482.1" cy="236.3" r="4.1"/><circle cx="817.6" cy="184.1" r="4.1"/><circle cx="387.4" cy="213.7" r="4.1"/><circle cx="214.4" cy="212.7" r="4.1"/><circle cx="549.4" cy="214.9" r="4.1"/><circle cx="489.5" cy="221.5" r="4.1"/><circle cx="479.6" cy="228.1" r="4.1"/><circle cx="229.7" cy="182.9" r="4.1"/><circle cx="601.7" cy="203.0" r="4.1"/><circle cx="782.3" cy="209.6" r="4.1"/><circle cx="263.3" cy="186.2" r="4.1"/><circle cx="709.6" cy="222.5" r="4.1"/><circle cx="457.5" cy="194.0" r="4.1"/><circle cx="880.2" cy="206.9" r="4.1"/><circle cx="603.1" cy="226.3" r="4.1"/><circle cx="512.7" cy="191.3" r="4.1"/><circle cx="700.0" cy="239.2" r="4.1"/><circle cx="616.1" cy="193.6" r="4.1"/><circle cx="454.1" cy="226.2" r="4.1"/><circle cx="642.8" cy="198.8" r="4.1"/><circle cx="465.9" cy="178.2" r="4.1"/><circle cx="280.8" cy="195.5" r="4.1"/><circle cx="834.2" cy="220.3" r="4.1"/><circle cx="489.3" cy="208.2" r="4.1"/><circle cx="451.7" cy="215.4" r="4.1"/><circle cx="589.0" cy="232.4" r="4.1"/><circle cx="314.0" cy="231.1" r="4.1"/><circle cx="343.8" cy="206.7" r="4.1"/><circle cx="467.5" cy="196.2" r="4.1"/><circle cx="464.6" cy="245.0" r="4.1"/><circle cx="550.3" cy="209.2" r="4.1"/><circle cx="702.5" cy="197.0" r="4.1"/><circle cx="471.2" cy="205.4" r="4.1"/><circle cx="611.3" cy="229.0" r="4.1"/><circle cx="627.0" cy="185.8" r="4.1"/><circle cx="382.9" cy="233.5" r="4.1"/><circle cx="573.0" cy="194.1" r="4.1"/><circle cx="403.3" cy="173.9" r="4.1"/><circle cx="694.0" cy="251.0" r="4.1"/><circle cx="605.8" cy="202.4" r="4.1"/><circle cx="542.3" cy="201.2" r="4.1"/><circle cx="345.8" cy="203.1" r="4.1"/><circle cx="556.7" cy="224.1" r="4.1"/><circle cx="428.8" cy="214.5" r="4.1"/><circle cx="642.2" cy="237.5" r="4.1"/><circle cx="522.6" cy="205.1" r="4.1"/><circle cx="422.2" cy="196.6" r="4.1"/><circle cx="674.0" cy="222.0" r="4.1"/><circle cx="644.4" cy="227.5" r="4.1"/><circle cx="454.0" cy="218.0" r="4.1"/><circle cx="708.2" cy="208.1" r="4.1"/><circle cx="496.7" cy="206.7" r="4.1"/><circle cx="495.1" cy="210.2" r="4.1"/><circle cx="557.8" cy="206.6" r="4.1"/><circle cx="430.9" cy="235.7" r="4.1"/><circle cx="475.9" cy="265.7" r="4.1"/><circle cx="516.7" cy="195.0" r="4.1"/><circle cx="761.6" cy="178.0" r="4.1"/><circle cx="502.4" cy="222.1" r="4.1"/><circle cx="773.2" cy="201.7" r="4.1"/><circle cx="533.6" cy="187.9" r="4.1"/><circle cx="595.0" cy="194.4" r="4.1"/><circle cx="667.9" cy="181.1" r="4.1"/><circle cx="582.2" cy="209.2" r="4.1"/><circle cx="575.2" cy="199.4" r="4.1"/><circle cx="366.4" cy="217.2" r="4.1"/><circle cx="729.0" cy="182.7" r="4.1"/><circle cx="480.2" cy="195.0" r="4.1"/><circle cx="495.8" cy="187.5" r="4.1"/><circle cx="113.5" cy="216.3" r="4.1"/><circle cx="684.9" cy="186.4" r="4.1"/><circle cx="658.5" cy="230.4" r="4.1"/><circle cx="655.7" cy="199.8" r="4.1"/><circle cx="681.6" cy="263.3" r="4.1"/><circle cx="784.9" cy="229.4" r="4.1"/><circle cx="533.2" cy="192.6" r="4.1"/><circle cx="675.7" cy="217.6" r="4.1"/><circle cx="432.1" cy="204.5" r="4.1"/><circle cx="488.6" cy="242.3" r="4.1"/><circle cx="693.0" cy="175.5" r="4.1"/><circle cx="596.6" cy="195.6" r="4.1"/><circle cx="346.7" cy="208.7" r="4.1"/><circle cx="592.2" cy="199.4" r="4.1"/><circle cx="513.4" cy="201.3" r="4.1"/><circle cx="421.3" cy="178.4" r="4.1"/><circle cx="602.8" cy="203.7" r="4.1"/><circle cx="481.3" cy="239.2" r="4.1"/><circle cx="312.4" cy="213.6" r="4.1"/><circle cx="378.9" cy="181.1" r="4.1"/><circle cx="796.2" cy="196.2" r="4.1"/><circle cx="320.4" cy="217.0" r="4.1"/><circle cx="572.2" cy="195.3" r="4.1"/><circle cx="628.3" cy="205.7" r="4.1"/><circle cx="632.5" cy="195.3" r="4.1"/><circle cx="362.4" cy="241.6" r="4.1"/><circle cx="493.3" cy="227.1" r="4.1"/><circle cx="560.3" cy="194.2" r="4.1"/><circle cx="655.8" cy="212.9" r="4.1"/><circle cx="446.5" cy="200.8" r="4.1"/><circle cx="371.4" cy="167.0" r="4.1"/><circle cx="685.1" cy="214.7" r="4.1"/><circle cx="700.0" cy="203.1" r="4.1"/><circle cx="593.5" cy="219.9" r="4.1"/><circle cx="451.7" cy="221.3" r="4.1"/><circle cx="598.8" cy="209.8" r="4.1"/><circle cx="555.7" cy="238.7" r="4.1"/><circle cx="661.2" cy="252.5" r="4.1"/><circle cx="358.9" cy="179.5" r="4.1"/><circle cx="556.7" cy="210.4" r="4.1"/><circle cx="516.9" cy="184.5" r="4.1"/><circle cx="379.1" cy="205.6" r="4.1"/><circle cx="571.1" cy="205.0" r="4.1"/><circle cx="545.0" cy="194.1" r="4.1"/><circle cx="480.5" cy="193.1" r="4.1"/><circle cx="597.3" cy="233.5" r="4.1"/><circle cx="334.4" cy="182.8" r="4.1"/><circle cx="532.1" cy="228.6" r="4.1"/><circle cx="602.4" cy="203.9" r="4.1"/><circle cx="581.0" cy="154.4" r="4.1"/><circle cx="695.8" cy="206.5" r="4.1"/><circle cx="365.9" cy="173.1" r="4.1"/><circle cx="321.5" cy="215.5" r="4.1"/><circle cx="574.5" cy="195.3" r="4.1"/><circle cx="605.8" cy="207.1" r="4.1"/><circle cx="847.0" cy="199.4" r="4.1"/><circle cx="629.2" cy="226.1" r="4.1"/><circle cx="413.3" cy="227.5" r="4.1"/><circle cx="656.7" cy="201.1" r="4.1"/><circle cx="417.4" cy="241.0" r="4.1"/><circle cx="324.7" cy="225.9" r="4.1"/><circle cx="587.1" cy="221.1" r="4.1"/><circle cx="643.5" cy="226.8" r="4.1"/><circle cx="621.5" cy="231.4" r="4.1"/><circle cx="802.4" cy="205.1" r="4.1"/><circle cx="581.1" cy="215.8" r="4.1"/><circle cx="716.3" cy="205.0" r="4.1"/><circle cx="391.1" cy="212.1" r="4.1"/><circle cx="338.2" cy="169.3" r="4.1"/><circle cx="746.6" cy="217.3" r="4.1"/><circle cx="613.9" cy="205.7" r="4.1"/><circle cx="572.6" cy="208.1" r="4.1"/><circle cx="564.0" cy="204.9" r="4.1"/><circle cx="440.2" cy="241.9" r="4.1"/><circle cx="762.8" cy="184.4" r="4.1"/><circle cx="635.4" cy="208.8" r="4.1"/><circle cx="613.2" cy="209.0" r="4.1"/><circle cx="594.4" cy="241.4" r="4.1"/><circle cx="691.7" cy="198.2" r="4.1"/><circle cx="613.1" cy="209.5" r="4.1"/><circle cx="647.9" cy="179.8" r="4.1"/><circle cx="370.6" cy="216.9" r="4.1"/><circle cx="613.8" cy="234.1" r="4.1"/><circle cx="464.8" cy="227.3" r="4.1"/><circle cx="521.2" cy="199.4" r="4.1"/><circle cx="669.1" cy="230.8" r="4.1"/><circle cx="678.6" cy="210.8" r="4.1"/><circle cx="630.4" cy="212.9" r="4.1"/><circle cx="305.6" cy="208.9" r="4.1"/><circle cx="612.6" cy="218.9" r="4.1"/><circle cx="368.4" cy="225.1" r="4.1"/><circle cx="420.4" cy="209.4" r="4.1"/><circle cx="619.3" cy="220.3" r="4.1"/><circle cx="497.0" cy="204.9" r="4.1"/><circle cx="657.2" cy="213.8" r="4.1"/><circle cx="652.5" cy="209.4" r="4.1"/><circle cx="644.6" cy="179.1" r="4.1"/><circle cx="410.1" cy="201.8" r="4.1"/><circle cx="446.8" cy="195.6" r="4.1"/><circle cx="385.8" cy="198.6" r="4.1"/><circle cx="462.7" cy="217.9" r="4.1"/><circle cx="381.7" cy="236.0" r="4.1"/><circle cx="444.3" cy="191.2" r="4.1"/><circle cx="509.7" cy="186.1" r="4.1"/><circle cx="394.9" cy="196.3" r="4.1"/><circle cx="334.3" cy="199.3" r="4.1"/><circle cx="342.7" cy="199.9" r="4.1"/><circle cx="605.7" cy="208.7" r="4.1"/><circle cx="548.6" cy="202.4" r="4.1"/><circle cx="688.5" cy="207.9" r="4.1"/><circle cx="691.2" cy="201.3" r="4.1"/><circle cx="490.6" cy="227.8" r="4.1"/><circle cx="637.0" cy="221.2" r="4.1"/><circle cx="331.2" cy="196.3" r="4.1"/><circle cx="870.6" cy="215.2" r="4.1"/><circle cx="713.1" cy="258.4" r="4.1"/><circle cx="508.7" cy="205.5" r="4.1"/><circle cx="371.4" cy="255.6" r="4.1"/><circle cx="595.0" cy="168.4" r="4.1"/><circle cx="269.0" cy="193.2" r="4.1"/><circle cx="427.0" cy="194.2" r="4.1"/><circle cx="648.4" cy="221.9" r="4.1"/><circle cx="550.8" cy="231.5" r="4.1"/><circle cx="468.8" cy="212.5" r="4.1"/><circle cx="677.6" cy="207.7" r="4.1"/><circle cx="389.4" cy="224.1" r="4.1"/><circle cx="581.1" cy="204.8" r="4.1"/><circle cx="467.8" cy="193.8" r="4.1"/><circle cx="417.1" cy="195.6" r="4.1"/><circle cx="607.0" cy="229.6" r="4.1"/><circle cx="396.1" cy="252.8" r="4.1"/><circle cx="815.4" cy="208.0" r="4.1"/><circle cx="455.2" cy="221.7" r="4.1"/><circle cx="828.2" cy="198.8" r="4.1"/><circle cx="381.4" cy="174.1" r="4.1"/><circle cx="627.7" cy="174.1" r="4.1"/><circle cx="366.1" cy="202.1" r="4.1"/><circle cx="345.6" cy="185.1" r="4.1"/><circle cx="563.0" cy="174.0" r="4.1"/><circle cx="638.1" cy="207.0" r="4.1"/><circle cx="355.3" cy="202.3" r="4.1"/><circle cx="711.4" cy="190.4" r="4.1"/><circle cx="424.4" cy="208.7" r="4.1"/><circle cx="558.9" cy="218.2" r="4.1"/><circle cx="594.9" cy="223.4" r="4.1"/><circle cx="626.0" cy="207.8" r="4.1"/><circle cx="279.5" cy="220.7" r="4.1"/><circle cx="774.4" cy="191.4" r="4.1"/><circle cx="621.3" cy="214.7" r="4.1"/><circle cx="478.2" cy="177.7" r="4.1"/><circle cx="391.5" cy="182.9" r="4.1"/><circle cx="294.5" cy="233.3" r="4.1"/><circle cx="342.7" cy="185.6" r="4.1"/><circle cx="618.8" cy="216.1" r="4.1"/><circle cx="490.5" cy="179.6" r="4.1"/><circle cx="376.0" cy="197.2" r="4.1"/><circle cx="463.6" cy="208.7" r="4.1"/><circle cx="766.5" cy="193.9" r="4.1"/><circle cx="492.0" cy="219.2" r="4.1"/><circle cx="455.2" cy="201.0" r="4.1"/><circle cx="735.6" cy="199.8" r="4.1"/><circle cx="606.8" cy="210.7" r="4.1"/><circle cx="546.3" cy="199.7" r="4.1"/><circle cx="451.9" cy="228.2" r="4.1"/><circle cx="315.0" cy="196.2" r="4.1"/><circle cx="370.3" cy="232.5" r="4.1"/><circle cx="470.3" cy="194.8" r="4.1"/><circle cx="508.1" cy="197.9" r="4.1"/><circle cx="591.5" cy="193.0" r="4.1"/><circle cx="619.8" cy="219.0" r="4.1"/><circle cx="571.8" cy="212.2" r="4.1"/><circle cx="393.9" cy="204.4" r="4.1"/><circle cx="227.7" cy="222.9" r="4.1"/><circle cx="464.4" cy="178.2" r="4.1"/><circle cx="401.7" cy="217.1" r="4.1"/><circle cx="445.4" cy="187.1" r="4.1"/><circle cx="500.1" cy="226.8" r="4.1"/><circle cx="359.7" cy="201.0" r="4.1"/><circle cx="379.0" cy="215.0" r="4.1"/><circle cx="525.4" cy="188.3" r="4.1"/><circle cx="556.7" cy="213.3" r="4.1"/><circle cx="444.9" cy="225.0" r="4.1"/><circle cx="612.1" cy="198.1" r="4.1"/><circle cx="508.1" cy="231.7" r="4.1"/><circle cx="392.1" cy="226.8" r="4.1"/><circle cx="545.8" cy="191.6" r="4.1"/><circle cx="442.1" cy="191.7" r="4.1"/><circle cx="708.8" cy="215.4" r="4.1"/><circle cx="739.5" cy="225.9" r="4.1"/><circle cx="756.9" cy="202.2" r="4.1"/><circle cx="420.7" cy="194.2" r="4.1"/><circle cx="831.9" cy="219.1" r="4.1"/><circle cx="556.8" cy="210.7" r="4.1"/><circle cx="503.1" cy="190.8" r="4.1"/><circle cx="506.5" cy="191.7" r="4.1"/><circle cx="627.0" cy="208.1" r="4.1"/><circle cx="547.3" cy="222.7" r="4.1"/><circle cx="514.3" cy="226.3" r="4.1"/><circle cx="725.8" cy="219.1" r="4.1"/><circle cx="435.2" cy="193.1" r="4.1"/><circle cx="388.8" cy="195.2" r="4.1"/><circle cx="654.8" cy="200.8" r="4.1"/><circle cx="641.8" cy="178.6" r="4.1"/><circle cx="698.4" cy="213.0" r="4.1"/><circle cx="384.6" cy="214.6" r="4.1"/><circle cx="696.6" cy="214.7" r="4.1"/><circle cx="609.7" cy="168.0" r="4.1"/><circle cx="359.1" cy="200.9" r="4.1"/><circle cx="571.5" cy="197.7" r="4.1"/><circle cx="499.7" cy="205.5" r="4.1"/><circle cx="436.3" cy="182.9" r="4.1"/><circle cx="703.2" cy="191.1" r="4.1"/><circle cx="472.0" cy="225.0" r="4.1"/><circle cx="435.2" cy="196.6" r="4.1"/><circle cx="665.7" cy="214.2" r="4.1"/><circle cx="683.2" cy="205.8" r="4.1"/><circle cx="682.9" cy="202.6" r="4.1"/><circle cx="425.5" cy="216.4" r="4.1"/><circle cx="531.5" cy="193.8" r="4.1"/><circle cx="689.2" cy="173.5" r="4.1"/><circle cx="444.9" cy="185.6" r="4.1"/><circle cx="431.3" cy="202.2" r="4.1"/><circle cx="659.9" cy="245.7" r="4.1"/><circle cx="766.2" cy="184.5" r="4.1"/><circle cx="373.0" cy="184.7" r="4.1"/><circle cx="329.8" cy="216.1" r="4.1"/><circle cx="393.2" cy="193.1" r="4.1"/><circle cx="520.0" cy="222.8" r="4.1"/><circle cx="629.1" cy="190.3" r="4.1"/><circle cx="518.7" cy="228.3" r="4.1"/><circle cx="438.4" cy="225.0" r="4.1"/><circle cx="562.1" cy="206.1" r="4.1"/><circle cx="400.6" cy="235.9" r="4.1"/><circle cx="533.1" cy="206.3" r="4.1"/><circle cx="447.0" cy="195.6" r="4.1"/><circle cx="658.2" cy="187.6" r="4.1"/><circle cx="418.9" cy="217.7" r="4.1"/><circle cx="395.5" cy="195.2" r="4.1"/><circle cx="476.4" cy="202.0" r="4.1"/><circle cx="301.6" cy="215.5" r="4.1"/><circle cx="434.1" cy="216.9" r="4.1"/><circle cx="433.0" cy="240.8" r="4.1"/><circle cx="668.0" cy="220.3" r="4.1"/><circle cx="478.1" cy="221.8" r="4.1"/><circle cx="425.4" cy="173.0" r="4.1"/><circle cx="345.7" cy="185.7" r="4.1"/><circle cx="369.4" cy="233.9" r="4.1"/><circle cx="530.3" cy="190.0" r="4.1"/><circle cx="508.7" cy="201.7" r="4.1"/><circle cx="704.2" cy="213.9" r="4.1"/><circle cx="448.8" cy="196.9" r="4.1"/><circle cx="693.3" cy="190.2" r="4.1"/><circle cx="577.1" cy="217.7" r="4.1"/><circle cx="539.2" cy="211.7" r="4.1"/><circle cx="249.0" cy="202.8" r="4.1"/><circle cx="353.0" cy="226.0" r="4.1"/><circle cx="647.3" cy="202.4" r="4.1"/><circle cx="742.4" cy="207.8" r="4.1"/><circle cx="569.8" cy="219.9" r="4.1"/><circle cx="650.4" cy="223.1" r="4.1"/><circle cx="480.8" cy="200.0" r="4.1"/><circle cx="486.1" cy="188.5" r="4.1"/><circle cx="443.9" cy="199.5" r="4.1"/><circle cx="681.1" cy="223.4" r="4.1"/><circle cx="589.6" cy="191.0" r="4.1"/><circle cx="506.0" cy="202.7" r="4.1"/><circle cx="492.3" cy="194.2" r="4.1"/><circle cx="620.5" cy="182.7" r="4.1"/><circle cx="586.7" cy="224.3" r="4.1"/><circle cx="419.4" cy="208.9" r="4.1"/><circle cx="788.5" cy="218.1" r="4.1"/><circle cx="577.1" cy="223.7" r="4.1"/><circle cx="541.4" cy="165.7" r="4.1"/><circle cx="753.9" cy="187.2" r="4.1"/><circle cx="688.2" cy="241.7" r="4.1"/><circle cx="527.2" cy="197.5" r="4.1"/><circle cx="617.5" cy="217.3" r="4.1"/><circle cx="384.9" cy="183.0" r="4.1"/><circle cx="447.1" cy="204.4" r="4.1"/><circle cx="212.5" cy="209.6" r="4.1"/><circle cx="716.7" cy="203.2" r="4.1"/><circle cx="264.9" cy="198.4" r="4.1"/><circle cx="638.6" cy="205.5" r="4.1"/><circle cx="419.6" cy="210.5" r="4.1"/><circle cx="398.1" cy="208.8" r="4.1"/><circle cx="511.6" cy="195.8" r="4.1"/><circle cx="578.5" cy="228.8" r="4.1"/><circle cx="628.6" cy="206.1" r="4.1"/><circle cx="796.6" cy="208.5" r="4.1"/><circle cx="591.9" cy="215.8" r="4.1"/><circle cx="667.6" cy="191.3" r="4.1"/><circle cx="453.2" cy="232.0" r="4.1"/><circle cx="643.3" cy="213.4" r="4.1"/><circle cx="562.1" cy="223.2" r="4.1"/><circle cx="472.8" cy="195.1" r="4.1"/><circle cx="526.0" cy="215.5" r="4.1"/><circle cx="530.9" cy="205.1" r="4.1"/><circle cx="567.6" cy="198.3" r="4.1"/><circle cx="598.0" cy="238.2" r="4.1"/><circle cx="466.2" cy="197.0" r="4.1"/><circle cx="432.6" cy="221.1" r="4.1"/><circle cx="648.2" cy="211.2" r="4.1"/><circle cx="294.1" cy="208.3" r="4.1"/><circle cx="450.3" cy="189.8" r="4.1"/><circle cx="764.8" cy="191.2" r="4.1"/><circle cx="147.7" cy="170.6" r="4.1"/><circle cx="439.5" cy="202.5" r="4.1"/><circle cx="639.5" cy="215.6" r="4.1"/><circle cx="300.8" cy="216.1" r="4.1"/><circle cx="164.9" cy="173.8" r="4.1"/><circle cx="748.0" cy="199.2" r="4.1"/><circle cx="765.5" cy="217.6" r="4.1"/><circle cx="672.6" cy="200.5" r="4.1"/><circle cx="507.8" cy="200.9" r="4.1"/><circle cx="591.6" cy="205.4" r="4.1"/><circle cx="409.9" cy="221.0" r="4.1"/><circle cx="657.1" cy="257.0" r="4.1"/><circle cx="377.7" cy="216.8" r="4.1"/><circle cx="500.2" cy="184.9" r="4.1"/><circle cx="684.2" cy="201.8" r="4.1"/><circle cx="378.5" cy="250.4" r="4.1"/><circle cx="487.1" cy="205.9" r="4.1"/><circle cx="563.7" cy="243.2" r="4.1"/><circle cx="345.5" cy="166.1" r="4.1"/><circle cx="708.6" cy="202.2" r="4.1"/><circle cx="589.3" cy="230.2" r="4.1"/><circle cx="320.3" cy="190.0" r="4.1"/><circle cx="533.1" cy="221.8" r="4.1"/><circle cx="427.6" cy="194.8" r="4.1"/><circle cx="444.6" cy="205.6" r="4.1"/><circle cx="551.0" cy="229.7" r="4.1"/><circle cx="437.1" cy="192.7" r="4.1"/><circle cx="679.6" cy="232.9" r="4.1"/><circle cx="437.8" cy="179.1" r="4.1"/><circle cx="682.1" cy="204.8" r="4.1"/><circle cx="533.6" cy="226.7" r="4.1"/><circle cx="663.9" cy="242.5" r="4.1"/><circle cx="461.5" cy="173.6" r="4.1"/><circle cx="466.7" cy="176.9" r="4.1"/><circle cx="372.9" cy="231.3" r="4.1"/><circle cx="623.6" cy="173.0" r="4.1"/><circle cx="675.8" cy="202.7" r="4.1"/><circle cx="846.9" cy="210.5" r="4.1"/><circle cx="726.9" cy="207.8" r="4.1"/><circle cx="576.1" cy="211.4" r="4.1"/><circle cx="509.3" cy="177.3" r="4.1"/><circle cx="596.2" cy="203.0" r="4.1"/><circle cx="535.9" cy="243.1" r="4.1"/><circle cx="676.6" cy="188.3" r="4.1"/><circle cx="418.7" cy="227.9" r="4.1"/><circle cx="440.3" cy="213.2" r="4.1"/><circle cx="738.0" cy="224.2" r="4.1"/><circle cx="584.5" cy="205.1" r="4.1"/><circle cx="506.3" cy="198.1" r="4.1"/><circle cx="711.8" cy="201.2" r="4.1"/><circle cx="483.8" cy="218.1" r="4.1"/><circle cx="499.4" cy="222.1" r="4.1"/><circle cx="473.1" cy="189.0" r="4.1"/><circle cx="255.7" cy="208.1" r="4.1"/><circle cx="665.1" cy="160.8" r="4.1"/><circle cx="364.7" cy="222.3" r="4.1"/><circle cx="457.5" cy="190.2" r="4.1"/><circle cx="432.1" cy="205.1" r="4.1"/><circle cx="645.2" cy="221.3" r="4.1"/><circle cx="530.0" cy="178.7" r="4.1"/><circle cx="542.1" cy="203.6" r="4.1"/><circle cx="296.6" cy="224.0" r="4.1"/><circle cx="527.2" cy="212.4" r="4.1"/><circle cx="326.0" cy="185.6" r="4.1"/><circle cx="584.4" cy="230.7" r="4.1"/><circle cx="593.0" cy="178.3" r="4.1"/><circle cx="537.4" cy="192.3" r="4.1"/><circle cx="616.4" cy="178.8" r="4.1"/><circle cx="626.2" cy="170.9" r="4.1"/><circle cx="560.5" cy="194.0" r="4.1"/><circle cx="512.0" cy="202.6" r="4.1"/><circle cx="679.8" cy="168.9" r="4.1"/><circle cx="699.5" cy="176.0" r="4.1"/><circle cx="351.4" cy="224.7" r="4.1"/><circle cx="692.7" cy="210.2" r="4.1"/><circle cx="614.3" cy="210.4" r="4.1"/><circle cx="679.1" cy="214.3" r="4.1"/><circle cx="607.4" cy="236.2" r="4.1"/><circle cx="359.6" cy="187.9" r="4.1"/><circle cx="370.0" cy="204.3" r="4.1"/><circle cx="804.2" cy="204.0" r="4.1"/><circle cx="576.5" cy="177.7" r="4.1"/><circle cx="334.6" cy="217.4" r="4.1"/><circle cx="590.3" cy="207.2" r="4.1"/><circle cx="487.4" cy="200.5" r="4.1"/><circle cx="272.9" cy="214.8" r="4.1"/><circle cx="208.1" cy="208.3" r="4.1"/><circle cx="307.7" cy="190.6" r="4.1"/><circle cx="579.3" cy="206.2" r="4.1"/><circle cx="532.9" cy="179.2" r="4.1"/><circle cx="503.8" cy="221.2" r="4.1"/><circle cx="581.1" cy="202.0" r="4.1"/><circle cx="627.0" cy="234.8" r="4.1"/><circle cx="235.3" cy="208.4" r="4.1"/><circle cx="496.3" cy="220.2" r="4.1"/><circle cx="420.0" cy="178.5" r="4.1"/><circle cx="361.3" cy="191.0" r="4.1"/><circle cx="460.6" cy="195.7" r="4.1"/><circle cx="522.1" cy="168.7" r="4.1"/><circle cx="501.3" cy="176.9" r="4.1"/><circle cx="329.2" cy="191.5" r="4.1"/><circle cx="469.9" cy="220.0" r="4.1"/><circle cx="387.1" cy="206.6" r="4.1"/><circle cx="295.5" cy="213.2" r="4.1"/><circle cx="579.8" cy="219.1" r="4.1"/><circle cx="626.3" cy="211.9" r="4.1"/><circle cx="607.1" cy="239.5" r="4.1"/><circle cx="377.7" cy="175.8" r="4.1"/><circle cx="684.5" cy="229.1" r="4.1"/><circle cx="426.1" cy="219.6" r="4.1"/><circle cx="375.5" cy="194.5" r="4.1"/><circle cx="451.8" cy="239.0" r="4.1"/><circle cx="524.2" cy="187.4" r="4.1"/><circle cx="643.3" cy="187.0" r="4.1"/><circle cx="630.3" cy="212.4" r="4.1"/><circle cx="536.6" cy="227.9" r="4.1"/><circle cx="675.0" cy="215.6" r="4.1"/><circle cx="551.7" cy="243.6" r="4.1"/><circle cx="669.7" cy="177.9" r="4.1"/><circle cx="336.5" cy="204.9" r="4.1"/><circle cx="311.9" cy="221.0" r="4.1"/><circle cx="652.3" cy="224.5" r="4.1"/><circle cx="338.5" cy="194.4" r="4.1"/><circle cx="496.2" cy="175.5" r="4.1"/><circle cx="525.7" cy="231.9" r="4.1"/><circle cx="469.2" cy="217.7" r="4.1"/><circle cx="474.2" cy="241.8" r="4.1"/><circle cx="741.6" cy="192.3" r="4.1"/><circle cx="173.4" cy="202.9" r="4.1"/><circle cx="667.9" cy="160.1" r="4.1"/><circle cx="543.3" cy="214.9" r="4.1"/><circle cx="537.2" cy="220.5" r="4.1"/><circle cx="645.1" cy="188.7" r="4.1"/><circle cx="367.8" cy="190.8" r="4.1"/><circle cx="552.6" cy="201.0" r="4.1"/><circle cx="512.9" cy="216.3" r="4.1"/><circle cx="620.9" cy="224.4" r="4.1"/><circle cx="563.0" cy="184.6" r="4.1"/><circle cx="635.5" cy="168.1" r="4.1"/><circle cx="478.8" cy="215.1" r="4.1"/><circle cx="547.0" cy="195.2" r="4.1"/><circle cx="442.8" cy="170.5" r="4.1"/><circle cx="443.7" cy="218.7" r="4.1"/><circle cx="519.4" cy="211.2" r="4.1"/><circle cx="519.3" cy="230.9" r="4.1"/><circle cx="370.0" cy="209.0" r="4.1"/><circle cx="767.3" cy="207.7" r="4.1"/><circle cx="520.3" cy="214.6" r="4.1"/><circle cx="339.4" cy="221.1" r="4.1"/><circle cx="699.5" cy="238.4" r="4.1"/><circle cx="431.5" cy="233.5" r="4.1"/><circle cx="613.5" cy="226.0" r="4.1"/><circle cx="537.4" cy="192.9" r="4.1"/><circle cx="576.2" cy="216.4" r="4.1"/><circle cx="564.7" cy="223.4" r="4.1"/><circle cx="456.6" cy="192.6" r="4.1"/><circle cx="545.8" cy="194.5" r="4.1"/><circle cx="834.4" cy="221.5" r="4.1"/><circle cx="215.7" cy="218.8" r="4.1"/><circle cx="549.5" cy="192.5" r="4.1"/><circle cx="602.9" cy="198.6" r="4.1"/><circle cx="387.5" cy="223.1" r="4.1"/><circle cx="341.4" cy="201.1" r="4.1"/><circle cx="852.7" cy="206.6" r="4.1"/><circle cx="486.1" cy="183.2" r="4.1"/><circle cx="617.5" cy="188.0" r="4.1"/><circle cx="550.9" cy="197.2" r="4.1"/><circle cx="608.9" cy="226.7" r="4.1"/><circle cx="631.9" cy="184.4" r="4.1"/><circle cx="710.8" cy="187.4" r="4.1"/><circle cx="603.0" cy="233.1" r="4.1"/><circle cx="560.8" cy="165.4" r="4.1"/><circle cx="565.4" cy="229.5" r="4.1"/><circle cx="735.7" cy="224.9" r="4.1"/><circle cx="658.3" cy="212.7" r="4.1"/><circle cx="394.7" cy="190.2" r="4.1"/><circle cx="447.8" cy="194.1" r="4.1"/><circle cx="587.8" cy="208.0" r="4.1"/><circle cx="449.7" cy="178.0" r="4.1"/><circle cx="485.4" cy="197.7" r="4.1"/><circle cx="401.4" cy="177.3" r="4.1"/><circle cx="601.3" cy="202.1" r="4.1"/><circle cx="684.1" cy="259.0" r="4.1"/><circle cx="541.2" cy="215.4" r="4.1"/><circle cx="840.5" cy="228.2" r="4.1"/><circle cx="528.8" cy="204.1" r="4.1"/><circle cx="933.5" cy="204.0" r="4.1"/><circle cx="685.0" cy="231.3" r="4.1"/><circle cx="611.9" cy="229.8" r="4.1"/><circle cx="467.6" cy="211.5" r="4.1"/><circle cx="130.7" cy="210.1" r="4.1"/><circle cx="517.4" cy="259.9" r="4.1"/><circle cx="565.7" cy="185.9" r="4.1"/><circle cx="818.4" cy="205.4" r="4.1"/><circle cx="340.0" cy="206.2" r="4.1"/><circle cx="816.0" cy="199.9" r="4.1"/><circle cx="503.5" cy="227.2" r="4.1"/><circle cx="644.8" cy="207.1" r="4.1"/><circle cx="172.0" cy="184.5" r="4.1"/><circle cx="560.0" cy="183.7" r="4.1"/><circle cx="490.1" cy="196.4" r="4.1"/><circle cx="638.8" cy="211.8" r="4.1"/><circle cx="553.1" cy="223.1" r="4.1"/><circle cx="374.4" cy="178.6" r="4.1"/><circle cx="677.1" cy="195.1" r="4.1"/><circle cx="640.5" cy="214.8" r="4.1"/><circle cx="626.4" cy="251.3" r="4.1"/><circle cx="686.1" cy="224.2" r="4.1"/><circle cx="699.4" cy="246.3" r="4.1"/><circle cx="536.7" cy="180.0" r="4.1"/><circle cx="343.2" cy="202.1" r="4.1"/><circle cx="339.3" cy="221.6" r="4.1"/><circle cx="735.4" cy="211.8" r="4.1"/><circle cx="554.7" cy="180.6" r="4.1"/><circle cx="476.9" cy="234.2" r="4.1"/><circle cx="544.5" cy="208.8" r="4.1"/><circle cx="543.5" cy="231.9" r="4.1"/><circle cx="491.1" cy="242.2" r="4.1"/><circle cx="438.6" cy="202.4" r="4.1"/><circle cx="573.0" cy="173.2" r="4.1"/><circle cx="452.1" cy="205.1" r="4.1"/><circle cx="351.3" cy="214.0" r="4.1"/><circle cx="434.8" cy="201.8" r="4.1"/><circle cx="644.2" cy="184.2" r="4.1"/><circle cx="649.8" cy="236.8" r="4.1"/><circle cx="508.3" cy="245.4" r="4.1"/><circle cx="547.4" cy="166.4" r="4.1"/><circle cx="495.7" cy="200.1" r="4.1"/><circle cx="379.4" cy="172.1" r="4.1"/><circle cx="728.5" cy="201.0" r="4.1"/><circle cx="593.9" cy="174.8" r="4.1"/><circle cx="898.6" cy="219.0" r="4.1"/><circle cx="430.4" cy="195.5" r="4.1"/><circle cx="520.0" cy="173.2" r="4.1"/><circle cx="667.8" cy="184.4" r="4.1"/><circle cx="504.4" cy="215.8" r="4.1"/><circle cx="338.9" cy="187.1" r="4.1"/><circle cx="402.4" cy="220.1" r="4.1"/><circle cx="554.5" cy="236.3" r="4.1"/><circle cx="589.6" cy="194.9" r="4.1"/><circle cx="526.2" cy="176.3" r="4.1"/><circle cx="685.3" cy="188.0" r="4.1"/><circle cx="683.7" cy="232.8" r="4.1"/><circle cx="586.7" cy="187.6" r="4.1"/><circle cx="543.8" cy="191.6" r="4.1"/><circle cx="503.3" cy="215.8" r="4.1"/><circle cx="619.7" cy="258.9" r="4.1"/><circle cx="673.1" cy="184.4" r="4.1"/><circle cx="548.7" cy="187.2" r="4.1"/><circle cx="605.1" cy="195.4" r="4.1"/><circle cx="492.9" cy="242.9" r="4.1"/><circle cx="335.4" cy="237.8" r="4.1"/><circle cx="394.9" cy="184.5" r="4.1"/><circle cx="650.8" cy="188.9" r="4.1"/><circle cx="604.7" cy="195.5" r="4.1"/><circle cx="770.3" cy="211.3" r="4.1"/><circle cx="548.0" cy="197.6" r="4.1"/><circle cx="665.2" cy="217.6" r="4.1"/><circle cx="731.6" cy="212.7" r="4.1"/><circle cx="684.0" cy="224.6" r="4.1"/><circle cx="451.7" cy="200.5" r="4.1"/><circle cx="513.2" cy="215.0" r="4.1"/><circle cx="558.7" cy="185.7" r="4.1"/><circle cx="397.1" cy="190.6" r="4.1"/><circle cx="608.6" cy="223.4" r="4.1"/><circle cx="688.2" cy="166.7" r="4.1"/><circle cx="470.2" cy="230.1" r="4.1"/><circle cx="825.7" cy="196.4" r="4.1"/><circle cx="497.8" cy="182.8" r="4.1"/><circle cx="510.5" cy="178.6" r="4.1"/><circle cx="505.4" cy="253.3" r="4.1"/><circle cx="437.3" cy="184.6" r="4.1"/><circle cx="600.4" cy="179.9" r="4.1"/><circle cx="542.8" cy="175.2" r="4.1"/><circle cx="627.9" cy="220.5" r="4.1"/><circle cx="617.8" cy="208.2" r="4.1"/><circle cx="507.8" cy="215.6" r="4.1"/><circle cx="335.0" cy="177.3" r="4.1"/><circle cx="526.9" cy="220.6" r="4.1"/><circle cx="416.7" cy="179.7" r="4.1"/><circle cx="677.8" cy="194.0" r="4.1"/><circle cx="535.5" cy="237.3" r="4.1"/><circle cx="781.2" cy="227.3" r="4.1"/><circle cx="646.4" cy="216.1" r="4.1"/><circle cx="660.9" cy="204.0" r="4.1"/><circle cx="573.3" cy="184.7" r="4.1"/><circle cx="570.1" cy="210.0" r="4.1"/><circle cx="634.5" cy="186.5" r="4.1"/><circle cx="673.6" cy="239.9" r="4.1"/><circle cx="611.2" cy="213.3" r="4.1"/><circle cx="919.6" cy="196.2" r="4.1"/><circle cx="526.9" cy="213.8" r="4.1"/><circle cx="502.9" cy="227.8" r="4.1"/><circle cx="439.6" cy="196.9" r="4.1"/><circle cx="330.1" cy="164.4" r="4.1"/><circle cx="712.1" cy="208.3" r="4.1"/><circle cx="548.7" cy="221.7" r="4.1"/><circle cx="583.3" cy="224.2" r="4.1"/><circle cx="411.2" cy="192.9" r="4.1"/><circle cx="692.7" cy="179.8" r="4.1"/><circle cx="630.3" cy="182.9" r="4.1"/><circle cx="597.8" cy="225.9" r="4.1"/><circle cx="609.4" cy="185.5" r="4.1"/><circle cx="536.8" cy="187.9" r="4.1"/><circle cx="770.4" cy="195.5" r="4.1"/><circle cx="629.2" cy="184.3" r="4.1"/><circle cx="590.2" cy="218.1" r="4.1"/><circle cx="720.9" cy="207.6" r="4.1"/><circle cx="670.1" cy="217.3" r="4.1"/><circle cx="606.9" cy="189.7" r="4.1"/><circle cx="587.6" cy="220.1" r="4.1"/><circle cx="794.6" cy="197.6" r="4.1"/><circle cx="614.1" cy="229.6" r="4.1"/><circle cx="527.3" cy="208.7" r="4.1"/><circle cx="416.1" cy="213.8" r="4.1"/><circle cx="490.5" cy="208.5" r="4.1"/><circle cx="388.2" cy="203.2" r="4.1"/><circle cx="555.9" cy="210.0" r="4.1"/><circle cx="577.5" cy="210.8" r="4.1"/><circle cx="543.0" cy="182.3" r="4.1"/><circle cx="634.3" cy="219.4" r="4.1"/><circle cx="564.4" cy="211.3" r="4.1"/><circle cx="402.0" cy="223.8" r="4.1"/><circle cx="724.1" cy="184.5" r="4.1"/><circle cx="439.4" cy="225.5" r="4.1"/><circle cx="362.3" cy="195.2" r="4.1"/><circle cx="383.7" cy="180.7" r="4.1"/><circle cx="538.2" cy="170.6" r="4.1"/><circle cx="682.6" cy="180.5" r="4.1"/><circle cx="709.1" cy="192.7" r="4.1"/><circle cx="570.6" cy="231.8" r="4.1"/><circle cx="367.3" cy="178.3" r="4.1"/><circle cx="445.1" cy="180.5" r="4.1"/><circle cx="410.1" cy="188.0" r="4.1"/><circle cx="514.3" cy="188.7" r="4.1"/><circle cx="283.1" cy="204.3" r="4.1"/><circle cx="556.2" cy="217.0" r="4.1"/><circle cx="633.6" cy="182.7" r="4.1"/><circle cx="518.5" cy="178.6" r="4.1"/><circle cx="606.7" cy="228.2" r="4.1"/><circle cx="404.1" cy="186.3" r="4.1"/><circle cx="329.3" cy="200.6" r="4.1"/><circle cx="447.8" cy="186.8" r="4.1"/><circle cx="707.7" cy="200.0" r="4.1"/><circle cx="689.2" cy="182.0" r="4.1"/><circle cx="473.8" cy="183.8" r="4.1"/><circle cx="714.4" cy="186.8" r="4.1"/><circle cx="493.0" cy="235.4" r="4.1"/><circle cx="759.0" cy="188.1" r="4.1"/><circle cx="609.9" cy="204.7" r="4.1"/><circle cx="474.5" cy="229.9" r="4.1"/><circle cx="655.2" cy="190.6" r="4.1"/><circle cx="427.8" cy="235.0" r="4.1"/><circle cx="404.4" cy="186.6" r="4.1"/><circle cx="329.8" cy="169.4" r="4.1"/><circle cx="577.4" cy="216.5" r="4.1"/><circle cx="532.2" cy="186.0" r="4.1"/><circle cx="528.7" cy="196.0" r="4.1"/><circle cx="480.5" cy="191.7" r="4.1"/><circle cx="478.5" cy="192.6" r="4.1"/><circle cx="435.1" cy="202.8" r="4.1"/><circle cx="720.4" cy="189.8" r="4.1"/><circle cx="745.8" cy="205.4" r="4.1"/><circle cx="589.0" cy="182.2" r="4.1"/><circle cx="287.8" cy="199.7" r="4.1"/><circle cx="453.0" cy="191.0" r="4.1"/><circle cx="628.7" cy="176.3" r="4.1"/><circle cx="542.5" cy="201.6" r="4.1"/><circle cx="765.0" cy="184.3" r="4.1"/><circle cx="341.9" cy="200.6" r="4.1"/><circle cx="638.2" cy="194.3" r="4.1"/><circle cx="449.1" cy="216.7" r="4.1"/><circle cx="731.6" cy="188.9" r="4.1"/><circle cx="529.0" cy="179.3" r="4.1"/><circle cx="689.2" cy="207.2" r="4.1"/><circle cx="446.1" cy="188.5" r="4.1"/><circle cx="335.7" cy="196.3" r="4.1"/><circle cx="379.0" cy="228.9" r="4.1"/><circle cx="452.0" cy="197.9" r="4.1"/><circle cx="391.4" cy="177.3" r="4.1"/><circle cx="713.8" cy="215.7" r="4.1"/><circle cx="733.9" cy="243.2" r="4.1"/><circle cx="579.5" cy="201.0" r="4.1"/><circle cx="390.1" cy="219.0" r="4.1"/><circle cx="522.8" cy="165.1" r="4.1"/><circle cx="440.5" cy="206.2" r="4.1"/><circle cx="750.5" cy="205.4" r="4.1"/><circle cx="585.7" cy="218.7" r="4.1"/><circle cx="610.8" cy="200.0" r="4.1"/><circle cx="482.0" cy="217.3" r="4.1"/><circle cx="248.5" cy="224.4" r="4.1"/><circle cx="428.2" cy="206.6" r="4.1"/><circle cx="378.1" cy="222.5" r="4.1"/><circle cx="593.5" cy="177.4" r="4.1"/><circle cx="553.9" cy="230.0" r="4.1"/><circle cx="423.8" cy="206.8" r="4.1"/><circle cx="483.6" cy="219.9" r="4.1"/><circle cx="766.8" cy="234.5" r="4.1"/><circle cx="400.9" cy="170.1" r="4.1"/><circle cx="406.9" cy="249.7" r="4.1"/><circle cx="506.8" cy="174.5" r="4.1"/><circle cx="438.6" cy="235.1" r="4.1"/><circle cx="477.8" cy="203.4" r="4.1"/><circle cx="616.9" cy="157.5" r="4.1"/><circle cx="282.1" cy="234.3" r="4.1"/><circle cx="537.3" cy="177.6" r="4.1"/><circle cx="545.9" cy="201.6" r="4.1"/><circle cx="527.7" cy="216.8" r="4.1"/><circle cx="512.8" cy="206.0" r="4.1"/><circle cx="490.6" cy="225.6" r="4.1"/><circle cx="685.4" cy="202.7" r="4.1"/><circle cx="472.5" cy="173.7" r="4.1"/><circle cx="521.5" cy="213.3" r="4.1"/><circle cx="539.9" cy="202.3" r="4.1"/><circle cx="555.5" cy="179.9" r="4.1"/><circle cx="515.1" cy="163.3" r="4.1"/><circle cx="684.7" cy="217.7" r="4.1"/><circle cx="538.6" cy="198.9" r="4.1"/><circle cx="565.1" cy="217.1" r="4.1"/><circle cx="532.4" cy="218.9" r="4.1"/><circle cx="394.6" cy="213.7" r="4.1"/><circle cx="419.7" cy="218.6" r="4.1"/><circle cx="387.8" cy="241.8" r="4.1"/><circle cx="567.8" cy="247.2" r="4.1"/><circle cx="436.5" cy="220.7" r="4.1"/><circle cx="386.1" cy="202.5" r="4.1"/><circle cx="574.4" cy="179.7" r="4.1"/><circle cx="616.0" cy="216.5" r="4.1"/><circle cx="284.8" cy="208.8" r="4.1"/><circle cx="784.7" cy="191.3" r="4.1"/><circle cx="544.6" cy="189.7" r="4.1"/><circle cx="524.7" cy="207.7" r="4.1"/><circle cx="694.4" cy="206.4" r="4.1"/><circle cx="550.0" cy="165.8" r="4.1"/><circle cx="452.4" cy="212.3" r="4.1"/><circle cx="857.8" cy="215.6" r="4.1"/><circle cx="384.3" cy="239.5" r="4.1"/><circle cx="525.8" cy="196.1" r="4.1"/><circle cx="662.6" cy="210.8" r="4.1"/><circle cx="384.9" cy="165.0" r="4.1"/><circle cx="525.1" cy="212.3" r="4.1"/><circle cx="595.9" cy="188.2" r="4.1"/><circle cx="410.6" cy="170.6" r="4.1"/><circle cx="533.0" cy="232.9" r="4.1"/><circle cx="635.3" cy="172.3" r="4.1"/><circle cx="551.6" cy="205.0" r="4.1"/><circle cx="365.6" cy="207.5" r="4.1"/><circle cx="599.0" cy="211.8" r="4.1"/><circle cx="555.5" cy="213.6" r="4.1"/><circle cx="604.5" cy="212.5" r="4.1"/><circle cx="703.8" cy="254.4" r="4.1"/><circle cx="686.7" cy="194.5" r="4.1"/><circle cx="599.0" cy="204.0" r="4.1"/><circle cx="584.9" cy="225.3" r="4.1"/><circle cx="380.8" cy="206.6" r="4.1"/><circle cx="520.4" cy="156.9" r="4.1"/><circle cx="571.8" cy="197.3" r="4.1"/><circle cx="481.8" cy="213.4" r="4.1"/><circle cx="554.0" cy="169.3" r="4.1"/><circle cx="420.3" cy="222.0" r="4.1"/><circle cx="762.2" cy="208.5" r="4.1"/><circle cx="851.7" cy="216.9" r="4.1"/><circle cx="483.5" cy="210.3" r="4.1"/><circle cx="597.9" cy="189.9" r="4.1"/><circle cx="506.0" cy="193.1" r="4.1"/><circle cx="722.8" cy="220.7" r="4.1"/><circle cx="602.9" cy="208.0" r="4.1"/><circle cx="551.1" cy="203.5" r="4.1"/><circle cx="507.5" cy="213.9" r="4.1"/><circle cx="558.2" cy="206.1" r="4.1"/><circle cx="395.0" cy="220.5" r="4.1"/><circle cx="637.8" cy="220.8" r="4.1"/><circle cx="436.5" cy="204.4" r="4.1"/><circle cx="617.4" cy="227.0" r="4.1"/><circle cx="558.7" cy="196.5" r="4.1"/><circle cx="698.5" cy="209.4" r="4.1"/><circle cx="537.4" cy="224.7" r="4.1"/><circle cx="688.1" cy="218.2" r="4.1"/><circle cx="406.3" cy="215.4" r="4.1"/><circle cx="628.2" cy="208.7" r="4.1"/><circle cx="507.4" cy="203.0" r="4.1"/><circle cx="568.0" cy="209.7" r="4.1"/><circle cx="550.3" cy="223.6" r="4.1"/><circle cx="675.5" cy="175.4" r="4.1"/><circle cx="247.3" cy="186.4" r="4.1"/><circle cx="586.7" cy="203.0" r="4.1"/><circle cx="323.4" cy="185.4" r="4.1"/><circle cx="714.7" cy="198.5" r="4.1"/><circle cx="254.1" cy="210.8" r="4.1"/><circle cx="394.5" cy="203.6" r="4.1"/><circle cx="777.4" cy="184.6" r="4.1"/><circle cx="353.2" cy="183.6" r="4.1"/><circle cx="556.4" cy="213.6" r="4.1"/><circle cx="462.3" cy="192.8" r="4.1"/><circle cx="491.0" cy="196.5" r="4.1"/><circle cx="635.9" cy="183.0" r="4.1"/><circle cx="513.2" cy="179.1" r="4.1"/><circle cx="676.2" cy="191.9" r="4.1"/><circle cx="487.5" cy="172.5" r="4.1"/><circle cx="540.9" cy="200.6" r="4.1"/><circle cx="484.2" cy="195.0" r="4.1"/><circle cx="589.7" cy="218.5" r="4.1"/><circle cx="592.4" cy="199.1" r="4.1"/><circle cx="568.1" cy="203.1" r="4.1"/><circle cx="450.3" cy="176.4" r="4.1"/><circle cx="430.5" cy="215.6" r="4.1"/><circle cx="752.0" cy="205.5" r="4.1"/><circle cx="378.8" cy="221.7" r="4.1"/><circle cx="407.6" cy="205.0" r="4.1"/><circle cx="525.8" cy="213.5" r="4.1"/><circle cx="478.1" cy="194.1" r="4.1"/><circle cx="592.2" cy="211.6" r="4.1"/><circle cx="643.1" cy="207.9" r="4.1"/><circle cx="377.6" cy="216.1" r="4.1"/><circle cx="446.5" cy="185.9" r="4.1"/><circle cx="602.6" cy="191.4" r="4.1"/><circle cx="776.0" cy="202.4" r="4.1"/><circle cx="406.5" cy="230.2" r="4.1"/><circle cx="311.1" cy="194.7" r="4.1"/><circle cx="680.8" cy="232.1" r="4.1"/><circle cx="760.6" cy="201.6" r="4.1"/><circle cx="491.4" cy="204.5" r="4.1"/><circle cx="750.2" cy="222.7" r="4.1"/><circle cx="511.1" cy="219.9" r="4.1"/><circle cx="702.7" cy="162.7" r="4.1"/><circle cx="533.6" cy="211.0" r="4.1"/><circle cx="485.5" cy="209.8" r="4.1"/><circle cx="474.4" cy="185.5" r="4.1"/><circle cx="753.4" cy="196.7" r="4.1"/><circle cx="747.7" cy="183.5" r="4.1"/><circle cx="230.2" cy="231.0" r="4.1"/><circle cx="404.3" cy="228.1" r="4.1"/><circle cx="486.7" cy="206.3" r="4.1"/><circle cx="342.8" cy="211.5" r="4.1"/><circle cx="540.5" cy="202.1" r="4.1"/><circle cx="524.2" cy="184.9" r="4.1"/><circle cx="525.8" cy="230.2" r="4.1"/><circle cx="470.4" cy="199.6" r="4.1"/><circle cx="495.0" cy="206.1" r="4.1"/><circle cx="473.9" cy="191.5" r="4.1"/><circle cx="588.3" cy="201.9" r="4.1"/><circle cx="422.2" cy="216.5" r="4.1"/><circle cx="497.9" cy="223.4" r="4.1"/><circle cx="519.0" cy="256.0" r="4.1"/><circle cx="729.1" cy="185.1" r="4.1"/><circle cx="594.0" cy="235.9" r="4.1"/><circle cx="524.0" cy="213.8" r="4.1"/><circle cx="617.6" cy="171.0" r="4.1"/><circle cx="598.7" cy="214.1" r="4.1"/><circle cx="697.5" cy="192.8" r="4.1"/><circle cx="613.3" cy="209.8" r="4.1"/><circle cx="799.8" cy="191.0" r="4.1"/><circle cx="734.7" cy="204.9" r="4.1"/><circle cx="534.0" cy="216.0" r="4.1"/><circle cx="479.9" cy="177.5" r="4.1"/><circle cx="667.8" cy="211.0" r="4.1"/><circle cx="614.7" cy="233.2" r="4.1"/><circle cx="526.2" cy="212.3" r="4.1"/><circle cx="325.9" cy="194.3" r="4.1"/><circle cx="274.4" cy="228.5" r="4.1"/><circle cx="590.4" cy="189.2" r="4.1"/><circle cx="651.6" cy="189.6" r="4.1"/><circle cx="656.3" cy="161.5" r="4.1"/><circle cx="353.4" cy="218.8" r="4.1"/><circle cx="690.2" cy="191.8" r="4.1"/><circle cx="462.5" cy="240.0" r="4.1"/><circle cx="596.2" cy="214.1" r="4.1"/><circle cx="600.3" cy="203.3" r="4.1"/><circle cx="423.6" cy="197.0" r="4.1"/><circle cx="454.2" cy="206.6" r="4.1"/><circle cx="239.6" cy="207.4" r="4.1"/><circle cx="407.1" cy="218.2" r="4.1"/><circle cx="278.8" cy="214.7" r="4.1"/><circle cx="603.3" cy="199.2" r="4.1"/><circle cx="548.8" cy="193.9" r="4.1"/><circle cx="672.3" cy="192.3" r="4.1"/><circle cx="591.6" cy="184.9" r="4.1"/><circle cx="447.9" cy="180.9" r="4.1"/><circle cx="590.1" cy="242.7" r="4.1"/><circle cx="483.3" cy="216.3" r="4.1"/><circle cx="628.1" cy="208.8" r="4.1"/><circle cx="585.6" cy="218.8" r="4.1"/><circle cx="396.7" cy="183.9" r="4.1"/><circle cx="540.2" cy="190.0" r="4.1"/><circle cx="547.9" cy="207.7" r="4.1"/><circle cx="495.3" cy="203.0" r="4.1"/><circle cx="669.5" cy="179.4" r="4.1"/><circle cx="788.1" cy="212.7" r="4.1"/><circle cx="486.6" cy="212.0" r="4.1"/><circle cx="489.1" cy="186.8" r="4.1"/><circle cx="214.2" cy="195.8" r="4.1"/><circle cx="521.2" cy="176.2" r="4.1"/><circle cx="476.7" cy="197.9" r="4.1"/><circle cx="226.8" cy="190.0" r="4.1"/><circle cx="581.7" cy="216.7" r="4.1"/><circle cx="625.5" cy="224.9" r="4.1"/><circle cx="433.6" cy="205.7" r="4.1"/><circle cx="485.9" cy="260.2" r="4.1"/><circle cx="399.9" cy="197.1" r="4.1"/><circle cx="650.4" cy="185.5" r="4.1"/><circle cx="320.1" cy="203.9" r="4.1"/><circle cx="494.5" cy="210.0" r="4.1"/><circle cx="822.5" cy="183.1" r="4.1"/><circle cx="547.4" cy="206.4" r="4.1"/><circle cx="607.7" cy="185.3" r="4.1"/><circle cx="518.7" cy="160.3" r="4.1"/><circle cx="369.8" cy="190.6" r="4.1"/><circle cx="535.2" cy="186.1" r="4.1"/><circle cx="598.8" cy="195.3" r="4.1"/><circle cx="391.8" cy="200.3" r="4.1"/><circle cx="589.4" cy="199.8" r="4.1"/><circle cx="720.2" cy="204.1" r="4.1"/><circle cx="694.9" cy="183.1" r="4.1"/><circle cx="310.6" cy="238.7" r="4.1"/><circle cx="398.6" cy="211.0" r="4.1"/><circle cx="306.1" cy="191.9" r="4.1"/><circle cx="695.1" cy="222.8" r="4.1"/><circle cx="628.3" cy="207.6" r="4.1"/><circle cx="641.8" cy="219.8" r="4.1"/><circle cx="412.7" cy="196.4" r="4.1"/><circle cx="370.9" cy="187.7" r="4.1"/><circle cx="551.0" cy="175.5" r="4.1"/><circle cx="554.5" cy="195.1" r="4.1"/><circle cx="416.1" cy="220.3" r="4.1"/><circle cx="560.5" cy="200.3" r="4.1"/><circle cx="633.3" cy="193.8" r="4.1"/><circle cx="572.9" cy="176.4" r="4.1"/><circle cx="389.3" cy="249.6" r="4.1"/><circle cx="233.8" cy="197.8" r="4.1"/><circle cx="502.4" cy="243.1" r="4.1"/><circle cx="563.7" cy="190.8" r="4.1"/><circle cx="502.2" cy="196.3" r="4.1"/><circle cx="477.8" cy="195.2" r="4.1"/><circle cx="439.7" cy="187.3" r="4.1"/><circle cx="643.6" cy="197.5" r="4.1"/><circle cx="532.3" cy="218.8" r="4.1"/><circle cx="557.8" cy="198.2" r="4.1"/><circle cx="399.2" cy="180.8" r="4.1"/><circle cx="450.0" cy="207.9" r="4.1"/><circle cx="563.6" cy="204.9" r="4.1"/><circle cx="394.2" cy="230.4" r="4.1"/><circle cx="357.5" cy="181.6" r="4.1"/><circle cx="492.2" cy="215.8" r="4.1"/><circle cx="713.9" cy="220.7" r="4.1"/><circle cx="567.6" cy="214.7" r="4.1"/><circle cx="751.3" cy="223.2" r="4.1"/><circle cx="520.8" cy="210.6" r="4.1"/><circle cx="495.0" cy="179.3" r="4.1"/><circle cx="338.2" cy="189.2" r="4.1"/><circle cx="456.4" cy="176.2" r="4.1"/><circle cx="747.8" cy="174.9" r="4.1"/><circle cx="587.4" cy="223.9" r="4.1"/><circle cx="646.1" cy="195.6" r="4.1"/><circle cx="642.0" cy="174.7" r="4.1"/><circle cx="538.5" cy="158.3" r="4.1"/><circle cx="510.2" cy="234.5" r="4.1"/><circle cx="557.2" cy="234.7" r="4.1"/><circle cx="637.1" cy="195.9" r="4.1"/><circle cx="606.2" cy="212.4" r="4.1"/><circle cx="611.2" cy="225.9" r="4.1"/><circle cx="562.2" cy="197.7" r="4.1"/><circle cx="428.4" cy="221.7" r="4.1"/><circle cx="502.0" cy="252.1" r="4.1"/><circle cx="403.5" cy="206.0" r="4.1"/><circle cx="685.4" cy="202.9" r="4.1"/><circle cx="235.4" cy="192.4" r="4.1"/><circle cx="508.3" cy="186.2" r="4.1"/><circle cx="490.4" cy="210.4" r="4.1"/><circle cx="375.5" cy="219.2" r="4.1"/><circle cx="537.3" cy="239.4" r="4.1"/><circle cx="726.7" cy="214.5" r="4.1"/><circle cx="516.7" cy="185.1" r="4.1"/><circle cx="628.8" cy="192.2" r="4.1"/><circle cx="554.4" cy="163.4" r="4.1"/><circle cx="485.9" cy="208.7" r="4.1"/><circle cx="550.2" cy="188.6" r="4.1"/><circle cx="462.1" cy="184.2" r="4.1"/><circle cx="468.9" cy="229.6" r="4.1"/><circle cx="595.0" cy="238.7" r="4.1"/><circle cx="599.2" cy="202.4" r="4.1"/><circle cx="651.7" cy="191.0" r="4.1"/><circle cx="560.3" cy="228.6" r="4.1"/><circle cx="332.5" cy="212.6" r="4.1"/><circle cx="617.0" cy="221.5" r="4.1"/><circle cx="495.1" cy="229.9" r="4.1"/><circle cx="498.5" cy="232.6" r="4.1"/><circle cx="325.1" cy="202.7" r="4.1"/><circle cx="456.8" cy="213.3" r="4.1"/><circle cx="434.6" cy="219.4" r="4.1"/><circle cx="534.6" cy="259.2" r="4.1"/><circle cx="329.3" cy="169.7" r="4.1"/><circle cx="547.2" cy="225.0" r="4.1"/><circle cx="557.9" cy="208.5" r="4.1"/><circle cx="377.7" cy="229.0" r="4.1"/><circle cx="449.4" cy="197.9" r="4.1"/><circle cx="415.7" cy="236.7" r="4.1"/><circle cx="671.4" cy="203.7" r="4.1"/><circle cx="173.6" cy="209.5" r="4.1"/><circle cx="490.2" cy="186.8" r="4.1"/><circle cx="299.3" cy="228.2" r="4.1"/><circle cx="477.4" cy="219.0" r="4.1"/><circle cx="662.6" cy="210.5" r="4.1"/><circle cx="448.5" cy="162.7" r="4.1"/><circle cx="559.9" cy="236.0" r="4.1"/><circle cx="417.5" cy="199.7" r="4.1"/><circle cx="820.9" cy="219.2" r="4.1"/><circle cx="672.2" cy="199.3" r="4.1"/><circle cx="703.2" cy="192.3" r="4.1"/><circle cx="347.5" cy="202.9" r="4.1"/><circle cx="380.4" cy="200.4" r="4.1"/><circle cx="696.3" cy="200.0" r="4.1"/><circle cx="511.7" cy="217.8" r="4.1"/><circle cx="502.5" cy="210.2" r="4.1"/><circle cx="588.3" cy="239.8" r="4.1"/><circle cx="358.1" cy="213.1" r="4.1"/><circle cx="651.9" cy="221.6" r="4.1"/><circle cx="542.6" cy="211.0" r="4.1"/><circle cx="609.3" cy="190.7" r="4.1"/><circle cx="442.8" cy="198.0" r="4.1"/><circle cx="614.3" cy="196.2" r="4.1"/><circle cx="437.8" cy="183.2" r="4.1"/><circle cx="678.2" cy="254.8" r="4.1"/><circle cx="703.5" cy="197.0" r="4.1"/><circle cx="672.0" cy="206.3" r="4.1"/><circle cx="614.7" cy="207.9" r="4.1"/><circle cx="631.7" cy="232.7" r="4.1"/><circle cx="147.9" cy="194.6" r="4.1"/><circle cx="660.8" cy="182.3" r="4.1"/><circle cx="500.2" cy="184.8" r="4.1"/><circle cx="553.7" cy="207.6" r="4.1"/><circle cx="498.8" cy="192.8" r="4.1"/><circle cx="338.4" cy="187.0" r="4.1"/><circle cx="461.9" cy="168.5" r="4.1"/><circle cx="635.3" cy="180.7" r="4.1"/><circle cx="745.2" cy="203.0" r="4.1"/><circle cx="449.7" cy="204.0" r="4.1"/><circle cx="408.9" cy="202.5" r="4.1"/><circle cx="750.2" cy="201.2" r="4.1"/><circle cx="412.0" cy="216.1" r="4.1"/><circle cx="840.3" cy="190.1" r="4.1"/><circle cx="547.2" cy="220.1" r="4.1"/><circle cx="411.9" cy="222.4" r="4.1"/><circle cx="682.5" cy="198.6" r="4.1"/><circle cx="785.2" cy="217.7" r="4.1"/><circle cx="332.1" cy="211.0" r="4.1"/><circle cx="499.1" cy="189.6" r="4.1"/><circle cx="755.2" cy="206.1" r="4.1"/><circle cx="484.8" cy="208.6" r="4.1"/><circle cx="311.4" cy="196.4" r="4.1"/><circle cx="612.6" cy="201.6" r="4.1"/><circle cx="674.1" cy="220.3" r="4.1"/><circle cx="789.6" cy="215.2" r="4.1"/><circle cx="640.6" cy="186.0" r="4.1"/><circle cx="505.5" cy="168.4" r="4.1"/><circle cx="464.5" cy="218.7" r="4.1"/><circle cx="497.2" cy="204.0" r="4.1"/><circle cx="419.5" cy="222.8" r="4.1"/><circle cx="500.1" cy="184.4" r="4.1"/><circle cx="171.3" cy="212.8" r="4.1"/><circle cx="565.8" cy="228.6" r="4.1"/><circle cx="535.7" cy="178.9" r="4.1"/><circle cx="911.6" cy="187.1" r="4.1"/><circle cx="649.8" cy="224.2" r="4.1"/><circle cx="470.3" cy="181.7" r="4.1"/><circle cx="621.7" cy="202.0" r="4.1"/><circle cx="452.6" cy="170.8" r="4.1"/><circle cx="269.3" cy="217.4" r="4.1"/><circle cx="748.0" cy="211.5" r="4.1"/><circle cx="625.9" cy="224.0" r="4.1"/><circle cx="369.6" cy="203.3" r="4.1"/><circle cx="531.1" cy="205.0" r="4.1"/><circle cx="677.5" cy="190.9" r="4.1"/><circle cx="611.6" cy="204.2" r="4.1"/><circle cx="595.3" cy="236.2" r="4.1"/><circle cx="415.6" cy="222.7" r="4.1"/><circle cx="447.6" cy="177.0" r="4.1"/><circle cx="553.7" cy="182.3" r="4.1"/><circle cx="673.2" cy="209.3" r="4.1"/><circle cx="419.8" cy="208.8" r="4.1"/><circle cx="377.4" cy="209.5" r="4.1"/><circle cx="705.6" cy="205.6" r="4.1"/><circle cx="405.1" cy="240.5" r="4.1"/><circle cx="695.9" cy="187.6" r="4.1"/><circle cx="575.1" cy="219.5" r="4.1"/><circle cx="667.5" cy="203.0" r="4.1"/><circle cx="639.7" cy="201.2" r="4.1"/><circle cx="652.3" cy="178.5" r="4.1"/><circle cx="406.9" cy="251.9" r="4.1"/><circle cx="439.2" cy="174.8" r="4.1"/><circle cx="633.2" cy="196.3" r="4.1"/><circle cx="762.2" cy="221.1" r="4.1"/><circle cx="584.9" cy="200.7" r="4.1"/><circle cx="569.3" cy="193.8" r="4.1"/><circle cx="685.7" cy="211.6" r="4.1"/><circle cx="542.6" cy="222.4" r="4.1"/><circle cx="530.9" cy="188.1" r="4.1"/><circle cx="388.2" cy="225.6" r="4.1"/><circle cx="683.5" cy="187.5" r="4.1"/><circle cx="384.6" cy="240.4" r="4.1"/><circle cx="614.1" cy="225.0" r="4.1"/><circle cx="334.3" cy="235.9" r="4.1"/><circle cx="698.7" cy="179.1" r="4.1"/><circle cx="390.9" cy="242.0" r="4.1"/><circle cx="662.1" cy="229.5" r="4.1"/><circle cx="309.7" cy="192.5" r="4.1"/><circle cx="476.2" cy="201.3" r="4.1"/><circle cx="710.6" cy="161.0" r="4.1"/><circle cx="423.2" cy="168.2" r="4.1"/><circle cx="549.6" cy="193.3" r="4.1"/><circle cx="470.6" cy="191.8" r="4.1"/><circle cx="584.5" cy="224.2" r="4.1"/><circle cx="602.5" cy="212.8" r="4.1"/><circle cx="379.4" cy="209.7" r="4.1"/><circle cx="623.0" cy="234.3" r="4.1"/><circle cx="424.6" cy="225.2" r="4.1"/><circle cx="394.5" cy="223.5" r="4.1"/><circle cx="540.9" cy="184.2" r="4.1"/><circle cx="441.2" cy="197.3" r="4.1"/><circle cx="872.0" cy="212.9" r="4.1"/><circle cx="314.6" cy="211.7" r="4.1"/><circle cx="646.9" cy="200.0" r="4.1"/><circle cx="683.2" cy="220.4" r="4.1"/><circle cx="253.2" cy="211.5" r="4.1"/><circle cx="621.4" cy="192.3" r="4.1"/><circle cx="470.1" cy="186.3" r="4.1"/><circle cx="595.5" cy="198.6" r="4.1"/><circle cx="705.0" cy="196.2" r="4.1"/><circle cx="486.0" cy="198.5" r="4.1"/><circle cx="385.8" cy="164.0" r="4.1"/><circle cx="144.5" cy="201.9" r="4.1"/><circle cx="569.5" cy="233.3" r="4.1"/><circle cx="405.4" cy="227.6" r="4.1"/><circle cx="585.3" cy="191.4" r="4.1"/><circle cx="573.5" cy="184.1" r="4.1"/><circle cx="339.3" cy="190.2" r="4.1"/><circle cx="789.6" cy="188.8" r="4.1"/><circle cx="696.8" cy="202.2" r="4.1"/><circle cx="662.8" cy="236.7" r="4.1"/><circle cx="368.3" cy="220.7" r="4.1"/><circle cx="480.9" cy="243.3" r="4.1"/><circle cx="460.7" cy="214.0" r="4.1"/><circle cx="479.8" cy="234.2" r="4.1"/><circle cx="377.1" cy="204.1" r="4.1"/><circle cx="602.9" cy="209.6" r="4.1"/><circle cx="573.1" cy="246.3" r="4.1"/><circle cx="592.8" cy="191.0" r="4.1"/><circle cx="466.6" cy="190.4" r="4.1"/><circle cx="726.9" cy="234.8" r="4.1"/><circle cx="567.1" cy="203.1" r="4.1"/><circle cx="143.3" cy="191.3" r="4.1"/><circle cx="447.2" cy="212.1" r="4.1"/><circle cx="531.6" cy="188.5" r="4.1"/><circle cx="679.7" cy="202.2" r="4.1"/><circle cx="496.3" cy="184.0" r="4.1"/><circle cx="503.7" cy="202.3" r="4.1"/><circle cx="443.9" cy="209.6" r="4.1"/><circle cx="636.3" cy="195.6" r="4.1"/><circle cx="475.1" cy="190.0" r="4.1"/><circle cx="452.5" cy="201.0" r="4.1"/><circle cx="432.4" cy="215.5" r="4.1"/><circle cx="620.5" cy="222.5" r="4.1"/><circle cx="462.7" cy="213.9" r="4.1"/><circle cx="297.1" cy="218.1" r="4.1"/><circle cx="630.1" cy="202.0" r="4.1"/><circle cx="438.3" cy="202.7" r="4.1"/><circle cx="591.6" cy="208.0" r="4.1"/><circle cx="594.0" cy="206.3" r="4.1"/><circle cx="714.3" cy="202.7" r="4.1"/><circle cx="691.2" cy="173.9" r="4.1"/><circle cx="456.6" cy="181.4" r="4.1"/><circle cx="515.8" cy="218.2" r="4.1"/><circle cx="353.0" cy="197.6" r="4.1"/><circle cx="782.9" cy="213.1" r="4.1"/><circle cx="603.9" cy="208.3" r="4.1"/><circle cx="741.9" cy="211.4" r="4.1"/><circle cx="493.7" cy="219.3" r="4.1"/><circle cx="553.4" cy="202.2" r="4.1"/><circle cx="559.2" cy="181.9" r="4.1"/><circle cx="547.9" cy="225.1" r="4.1"/><circle cx="633.3" cy="195.9" r="4.1"/><circle cx="617.1" cy="214.4" r="4.1"/><circle cx="309.5" cy="200.6" r="4.1"/><circle cx="697.4" cy="223.1" r="4.1"/><circle cx="463.3" cy="211.2" r="4.1"/><circle cx="472.2" cy="208.7" r="4.1"/><circle cx="673.3" cy="201.9" r="4.1"/><circle cx="490.9" cy="209.3" r="4.1"/><circle cx="563.3" cy="193.0" r="4.1"/><circle cx="617.9" cy="207.1" r="4.1"/><circle cx="528.2" cy="202.2" r="4.1"/><circle cx="359.4" cy="199.0" r="4.1"/><circle cx="425.4" cy="215.1" r="4.1"/><circle cx="358.1" cy="228.8" r="4.1"/><circle cx="571.1" cy="215.7" r="4.1"/><circle cx="658.6" cy="215.4" r="4.1"/><circle cx="688.4" cy="160.4" r="4.1"/><circle cx="433.8" cy="168.2" r="4.1"/><circle cx="573.9" cy="216.7" r="4.1"/><circle cx="620.2" cy="215.1" r="4.1"/><circle cx="465.9" cy="199.8" r="4.1"/><circle cx="518.4" cy="194.8" r="4.1"/><circle cx="847.6" cy="220.9" r="4.1"/><circle cx="569.6" cy="227.4" r="4.1"/><circle cx="667.8" cy="166.3" r="4.1"/><circle cx="476.9" cy="184.6" r="4.1"/><circle cx="545.9" cy="238.9" r="4.1"/><circle cx="536.3" cy="223.8" r="4.1"/><circle cx="712.6" cy="202.0" r="4.1"/><circle cx="844.0" cy="195.2" r="4.1"/><circle cx="713.3" cy="213.7" r="4.1"/><circle cx="639.4" cy="240.3" r="4.1"/><circle cx="547.6" cy="202.0" r="4.1"/><circle cx="453.0" cy="194.1" r="4.1"/><circle cx="516.7" cy="206.7" r="4.1"/><circle cx="628.7" cy="217.0" r="4.1"/><circle cx="426.2" cy="194.6" r="4.1"/><circle cx="675.1" cy="207.8" r="4.1"/><circle cx="397.3" cy="230.0" r="4.1"/><circle cx="282.1" cy="204.7" r="4.1"/><circle cx="393.3" cy="233.7" r="4.1"/><circle cx="298.6" cy="186.5" r="4.1"/><circle cx="341.1" cy="196.9" r="4.1"/><circle cx="703.9" cy="227.5" r="4.1"/><circle cx="510.9" cy="202.2" r="4.1"/><circle cx="571.6" cy="180.5" r="4.1"/><circle cx="707.7" cy="251.5" r="4.1"/><circle cx="722.3" cy="209.6" r="4.1"/><circle cx="466.8" cy="172.2" r="4.1"/><circle cx="732.4" cy="239.2" r="4.1"/><circle cx="595.6" cy="210.2" r="4.1"/><circle cx="540.4" cy="236.5" r="4.1"/><circle cx="603.9" cy="208.1" r="4.1"/><circle cx="333.4" cy="257.0" r="4.1"/><circle cx="426.0" cy="240.7" r="4.1"/><circle cx="524.2" cy="218.0" r="4.1"/><circle cx="628.2" cy="203.8" r="4.1"/><circle cx="486.0" cy="198.7" r="4.1"/><circle cx="521.5" cy="197.8" r="4.1"/><circle cx="680.3" cy="182.6" r="4.1"/><circle cx="744.4" cy="192.0" r="4.1"/><circle cx="651.0" cy="191.2" r="4.1"/><circle cx="723.7" cy="227.3" r="4.1"/><circle cx="481.3" cy="210.0" r="4.1"/><circle cx="586.0" cy="159.0" r="4.1"/><circle cx="496.3" cy="189.3" r="4.1"/><circle cx="466.4" cy="191.1" r="4.1"/><circle cx="779.2" cy="185.9" r="4.1"/><circle cx="510.8" cy="215.2" r="4.1"/><circle cx="400.0" cy="165.4" r="4.1"/><circle cx="610.5" cy="214.6" r="4.1"/><circle cx="805.8" cy="208.4" r="4.1"/><circle cx="551.6" cy="160.8" r="4.1"/><circle cx="718.3" cy="250.5" r="4.1"/><circle cx="476.5" cy="199.0" r="4.1"/><circle cx="468.7" cy="243.0" r="4.1"/><circle cx="440.0" cy="220.5" r="4.1"/><circle cx="519.1" cy="208.6" r="4.1"/><circle cx="372.5" cy="203.0" r="4.1"/><circle cx="777.1" cy="222.9" r="4.1"/><circle cx="393.8" cy="208.9" r="4.1"/><circle cx="506.0" cy="231.8" r="4.1"/><circle cx="661.0" cy="214.9" r="4.1"/><circle cx="631.2" cy="236.0" r="4.1"/><circle cx="580.8" cy="192.8" r="4.1"/><circle cx="301.0" cy="234.1" r="4.1"/><circle cx="592.4" cy="192.0" r="4.1"/><circle cx="391.8" cy="215.4" r="4.1"/><circle cx="912.1" cy="213.1" r="4.1"/><circle cx="509.0" cy="181.7" r="4.1"/><circle cx="567.2" cy="204.4" r="4.1"/><circle cx="373.8" cy="246.8" r="4.1"/><circle cx="470.5" cy="196.1" r="4.1"/><circle cx="682.1" cy="201.0" r="4.1"/><circle cx="501.9" cy="215.2" r="4.1"/><circle cx="621.4" cy="236.4" r="4.1"/><circle cx="440.7" cy="205.0" r="4.1"/><circle cx="467.3" cy="213.2" r="4.1"/><circle cx="726.5" cy="164.1" r="4.1"/><circle cx="399.1" cy="216.0" r="4.1"/><circle cx="598.8" cy="177.3" r="4.1"/><circle cx="374.6" cy="219.7" r="4.1"/><circle cx="476.2" cy="224.0" r="4.1"/><circle cx="672.0" cy="178.6" r="4.1"/><circle cx="421.3" cy="209.6" r="4.1"/><circle cx="667.2" cy="203.3" r="4.1"/><circle cx="441.2" cy="212.1" r="4.1"/><circle cx="755.9" cy="232.5" r="4.1"/><circle cx="731.9" cy="214.6" r="4.1"/><circle cx="471.6" cy="227.1" r="4.1"/><circle cx="509.0" cy="239.3" r="4.1"/><circle cx="419.4" cy="212.9" r="4.1"/><circle cx="568.9" cy="168.6" r="4.1"/><circle cx="706.4" cy="172.2" r="4.1"/><circle cx="330.3" cy="208.0" r="4.1"/><circle cx="672.8" cy="203.8" r="4.1"/><circle cx="348.1" cy="195.7" r="4.1"/><circle cx="415.4" cy="177.6" r="4.1"/><circle cx="280.9" cy="199.9" r="4.1"/><circle cx="844.8" cy="216.9" r="4.1"/><circle cx="548.4" cy="215.0" r="4.1"/><circle cx="575.4" cy="182.5" r="4.1"/><circle cx="694.5" cy="220.1" r="4.1"/><circle cx="543.8" cy="189.3" r="4.1"/><circle cx="484.6" cy="203.7" r="4.1"/><circle cx="542.4" cy="180.2" r="4.1"/><circle cx="637.3" cy="205.2" r="4.1"/><circle cx="422.3" cy="235.1" r="4.1"/><circle cx="543.2" cy="248.7" r="4.1"/><circle cx="679.1" cy="207.7" r="4.1"/><circle cx="568.1" cy="231.5" r="4.1"/><circle cx="593.6" cy="200.5" r="4.1"/><circle cx="489.3" cy="234.0" r="4.1"/><circle cx="585.6" cy="214.2" r="4.1"/><circle cx="548.0" cy="238.2" r="4.1"/><circle cx="750.7" cy="214.4" r="4.1"/><circle cx="644.8" cy="216.2" r="4.1"/><circle cx="504.6" cy="193.9" r="4.1"/><circle cx="185.4" cy="177.9" r="4.1"/><circle cx="643.6" cy="210.6" r="4.1"/><circle cx="649.3" cy="225.1" r="4.1"/><circle cx="407.1" cy="164.7" r="4.1"/><circle cx="250.4" cy="198.9" r="4.1"/><circle cx="374.5" cy="193.5" r="4.1"/><circle cx="674.1" cy="193.6" r="4.1"/><circle cx="385.6" cy="175.4" r="4.1"/><circle cx="473.3" cy="185.0" r="4.1"/><circle cx="571.8" cy="192.1" r="4.1"/><circle cx="717.3" cy="190.2" r="4.1"/><circle cx="537.3" cy="225.0" r="4.1"/><circle cx="525.4" cy="219.7" r="4.1"/><circle cx="460.4" cy="208.9" r="4.1"/><circle cx="776.1" cy="204.6" r="4.1"/><circle cx="694.3" cy="206.2" r="4.1"/><circle cx="526.1" cy="200.0" r="4.1"/><circle cx="337.6" cy="206.0" r="4.1"/><circle cx="425.4" cy="215.8" r="4.1"/><circle cx="623.8" cy="241.4" r="4.1"/><circle cx="435.4" cy="188.6" r="4.1"/><circle cx="669.2" cy="194.0" r="4.1"/><circle cx="592.3" cy="225.5" r="4.1"/><circle cx="582.3" cy="195.9" r="4.1"/><circle cx="634.6" cy="198.1" r="4.1"/><circle cx="612.1" cy="205.0" r="4.1"/><circle cx="416.0" cy="246.1" r="4.1"/><circle cx="492.7" cy="232.5" r="4.1"/><circle cx="364.9" cy="171.9" r="4.1"/><circle cx="471.2" cy="225.0" r="4.1"/><circle cx="694.3" cy="214.0" r="4.1"/><circle cx="516.8" cy="230.4" r="4.1"/><circle cx="422.3" cy="217.2" r="4.1"/><circle cx="348.2" cy="199.2" r="4.1"/><circle cx="617.6" cy="251.1" r="4.1"/><circle cx="742.7" cy="192.4" r="4.1"/><circle cx="547.7" cy="205.8" r="4.1"/><circle cx="691.3" cy="219.6" r="4.1"/><circle cx="390.3" cy="185.8" r="4.1"/><circle cx="564.2" cy="185.7" r="4.1"/><circle cx="441.8" cy="251.6" r="4.1"/><circle cx="565.1" cy="210.2" r="4.1"/><circle cx="648.7" cy="182.8" r="4.1"/><circle cx="694.9" cy="221.0" r="4.1"/><circle cx="396.5" cy="213.3" r="4.1"/><circle cx="723.5" cy="186.1" r="4.1"/><circle cx="471.2" cy="212.4" r="4.1"/><circle cx="391.3" cy="232.3" r="4.1"/><circle cx="515.2" cy="221.3" r="4.1"/><circle cx="328.0" cy="235.1" r="4.1"/><circle cx="540.6" cy="194.7" r="4.1"/><circle cx="581.9" cy="243.7" r="4.1"/><circle cx="510.9" cy="185.1" r="4.1"/><circle cx="617.6" cy="242.0" r="4.1"/><circle cx="494.3" cy="205.6" r="4.1"/><circle cx="540.5" cy="238.1" r="4.1"/><circle cx="331.2" cy="213.4" r="4.1"/><circle cx="546.1" cy="184.6" r="4.1"/><circle cx="416.6" cy="182.5" r="4.1"/><circle cx="474.7" cy="178.5" r="4.1"/><circle cx="526.3" cy="208.5" r="4.1"/><circle cx="567.6" cy="204.3" r="4.1"/><circle cx="301.4" cy="201.6" r="4.1"/><circle cx="313.4" cy="193.4" r="4.1"/><circle cx="496.2" cy="215.2" r="4.1"/><circle cx="608.6" cy="182.9" r="4.1"/><circle cx="592.1" cy="199.6" r="4.1"/><circle cx="669.2" cy="182.0" r="4.1"/><circle cx="728.4" cy="196.3" r="4.1"/><circle cx="611.8" cy="192.0" r="4.1"/><circle cx="537.0" cy="222.3" r="4.1"/><circle cx="390.5" cy="215.6" r="4.1"/><circle cx="402.8" cy="234.4" r="4.1"/><circle cx="472.2" cy="213.0" r="4.1"/><circle cx="578.7" cy="210.4" r="4.1"/><circle cx="571.9" cy="188.6" r="4.1"/><circle cx="540.5" cy="233.7" r="4.1"/><circle cx="631.2" cy="209.2" r="4.1"/><circle cx="570.1" cy="179.5" r="4.1"/><circle cx="583.0" cy="184.2" r="4.1"/><circle cx="584.6" cy="260.8" r="4.1"/><circle cx="460.8" cy="212.2" r="4.1"/><circle cx="390.6" cy="174.9" r="4.1"/><circle cx="611.0" cy="258.8" r="4.1"/><circle cx="600.3" cy="190.1" r="4.1"/><circle cx="508.0" cy="226.3" r="4.1"/><circle cx="479.7" cy="216.6" r="4.1"/><circle cx="429.9" cy="246.8" r="4.1"/><circle cx="508.4" cy="202.4" r="4.1"/><circle cx="578.4" cy="220.5" r="4.1"/><circle cx="372.7" cy="222.7" r="4.1"/><circle cx="556.9" cy="191.5" r="4.1"/><circle cx="675.2" cy="199.2" r="4.1"/><circle cx="631.5" cy="194.7" r="4.1"/><circle cx="625.7" cy="207.7" r="4.1"/><circle cx="556.1" cy="222.2" r="4.1"/><circle cx="678.7" cy="201.1" r="4.1"/><circle cx="517.3" cy="174.0" r="4.1"/><circle cx="478.6" cy="202.6" r="4.1"/><circle cx="554.7" cy="187.5" r="4.1"/><circle cx="671.1" cy="211.5" r="4.1"/><circle cx="637.6" cy="242.1" r="4.1"/><circle cx="246.7" cy="194.1" r="4.1"/><circle cx="712.7" cy="195.0" r="4.1"/><circle cx="879.0" cy="200.9" r="4.1"/><circle cx="733.3" cy="230.7" r="4.1"/><circle cx="493.9" cy="231.2" r="4.1"/><circle cx="417.0" cy="211.8" r="4.1"/><circle cx="580.1" cy="204.6" r="4.1"/><circle cx="396.9" cy="232.8" r="4.1"/><circle cx="645.0" cy="229.7" r="4.1"/><circle cx="463.8" cy="194.7" r="4.1"/><circle cx="679.1" cy="184.5" r="4.1"/><circle cx="737.2" cy="218.8" r="4.1"/><circle cx="245.5" cy="221.8" r="4.1"/><circle cx="582.3" cy="222.4" r="4.1"/><circle cx="438.7" cy="153.4" r="4.1"/><circle cx="335.7" cy="196.2" r="4.1"/><circle cx="450.5" cy="208.2" r="4.1"/><circle cx="508.2" cy="185.1" r="4.1"/><circle cx="689.6" cy="157.4" r="4.1"/><circle cx="319.5" cy="181.6" r="4.1"/><circle cx="692.1" cy="237.5" r="4.1"/><circle cx="626.4" cy="215.5" r="4.1"/><circle cx="619.0" cy="214.2" r="4.1"/><circle cx="538.0" cy="233.0" r="4.1"/><circle cx="369.7" cy="215.3" r="4.1"/><circle cx="617.4" cy="230.2" r="4.1"/><circle cx="595.5" cy="199.5" r="4.1"/><circle cx="645.9" cy="205.9" r="4.1"/><circle cx="645.3" cy="243.6" r="4.1"/><circle cx="601.6" cy="217.2" r="4.1"/><circle cx="766.2" cy="192.8" r="4.1"/><circle cx="345.0" cy="196.2" r="4.1"/><circle cx="374.4" cy="208.3" r="4.1"/><circle cx="445.0" cy="217.5" r="4.1"/><circle cx="640.4" cy="222.8" r="4.1"/><circle cx="493.9" cy="214.1" r="4.1"/><circle cx="792.0" cy="233.2" r="4.1"/><circle cx="760.2" cy="216.2" r="4.1"/><circle cx="651.5" cy="221.2" r="4.1"/><circle cx="629.3" cy="191.7" r="4.1"/><circle cx="657.4" cy="211.1" r="4.1"/><circle cx="385.4" cy="207.9" r="4.1"/><circle cx="590.4" cy="209.5" r="4.1"/><circle cx="642.2" cy="202.8" r="4.1"/><circle cx="571.3" cy="215.6" r="4.1"/><circle cx="767.5" cy="207.3" r="4.1"/><circle cx="715.8" cy="184.7" r="4.1"/><circle cx="420.3" cy="189.0" r="4.1"/><circle cx="557.9" cy="200.2" r="4.1"/><circle cx="418.9" cy="178.2" r="4.1"/><circle cx="623.9" cy="202.1" r="4.1"/><circle cx="414.3" cy="228.1" r="4.1"/><circle cx="673.7" cy="244.6" r="4.1"/><circle cx="596.1" cy="221.9" r="4.1"/><circle cx="680.5" cy="208.3" r="4.1"/><circle cx="518.9" cy="198.3" r="4.1"/><circle cx="328.9" cy="183.7" r="4.1"/><circle cx="795.7" cy="219.3" r="4.1"/><circle cx="514.9" cy="224.3" r="4.1"/><circle cx="739.3" cy="190.3" r="4.1"/><circle cx="602.2" cy="181.5" r="4.1"/><circle cx="637.5" cy="217.2" r="4.1"/><circle cx="805.0" cy="199.6" r="4.1"/><circle cx="589.2" cy="177.2" r="4.1"/><circle cx="742.7" cy="200.0" r="4.1"/><circle cx="324.9" cy="208.1" r="4.1"/><circle cx="666.1" cy="251.8" r="4.1"/><circle cx="504.9" cy="178.3" r="4.1"/><circle cx="520.5" cy="193.0" r="4.1"/><circle cx="541.2" cy="204.2" r="4.1"/><circle cx="590.1" cy="216.9" r="4.1"/><circle cx="780.0" cy="233.8" r="4.1"/><circle cx="271.4" cy="209.0" r="4.1"/><circle cx="546.3" cy="209.2" r="4.1"/><circle cx="436.1" cy="183.2" r="4.1"/><circle cx="708.8" cy="233.0" r="4.1"/><circle cx="478.6" cy="175.8" r="4.1"/><circle cx="606.1" cy="206.1" r="4.1"/><circle cx="482.3" cy="181.3" r="4.1"/><circle cx="636.7" cy="227.8" r="4.1"/><circle cx="686.9" cy="199.4" r="4.1"/><circle cx="482.3" cy="180.6" r="4.1"/><circle cx="547.0" cy="204.4" r="4.1"/><circle cx="334.1" cy="238.6" r="4.1"/><circle cx="584.1" cy="214.0" r="4.1"/><circle cx="663.9" cy="195.3" r="4.1"/><circle cx="459.4" cy="237.1" r="4.1"/><circle cx="702.2" cy="238.1" r="4.1"/><circle cx="239.5" cy="201.8" r="4.1"/><circle cx="271.7" cy="227.4" r="4.1"/><circle cx="338.8" cy="192.2" r="4.1"/><circle cx="469.7" cy="232.3" r="4.1"/><circle cx="542.6" cy="246.5" r="4.1"/><circle cx="528.5" cy="223.6" r="4.1"/><circle cx="530.2" cy="174.7" r="4.1"/><circle cx="644.7" cy="225.5" r="4.1"/><circle cx="471.5" cy="207.0" r="4.1"/><circle cx="356.8" cy="201.6" r="4.1"/><circle cx="359.7" cy="227.4" r="4.1"/><circle cx="199.2" cy="203.1" r="4.1"/><circle cx="514.4" cy="197.3" r="4.1"/><circle cx="609.9" cy="244.6" r="4.1"/><circle cx="540.2" cy="211.0" r="4.1"/><circle cx="665.1" cy="211.8" r="4.1"/><circle cx="714.9" cy="191.3" r="4.1"/><circle cx="409.6" cy="174.8" r="4.1"/><circle cx="650.1" cy="212.3" r="4.1"/><circle cx="576.5" cy="212.6" r="4.1"/><circle cx="699.9" cy="197.1" r="4.1"/><circle cx="741.3" cy="173.9" r="4.1"/><circle cx="490.2" cy="224.6" r="4.1"/><circle cx="329.9" cy="193.4" r="4.1"/><circle cx="597.2" cy="212.2" r="4.1"/><circle cx="797.3" cy="214.1" r="4.1"/><circle cx="639.2" cy="189.3" r="4.1"/><circle cx="573.2" cy="223.9" r="4.1"/><circle cx="887.7" cy="229.9" r="4.1"/><circle cx="389.2" cy="192.5" r="4.1"/><circle cx="670.7" cy="207.4" r="4.1"/><circle cx="457.3" cy="212.5" r="4.1"/><circle cx="547.1" cy="209.7" r="4.1"/><circle cx="552.9" cy="196.1" r="4.1"/><circle cx="759.3" cy="214.8" r="4.1"/><circle cx="404.3" cy="190.3" r="4.1"/><circle cx="462.4" cy="197.9" r="4.1"/><circle cx="309.1" cy="174.9" r="4.1"/><circle cx="610.5" cy="179.5" r="4.1"/><circle cx="473.5" cy="188.3" r="4.1"/><circle cx="601.0" cy="211.2" r="4.1"/><circle cx="384.4" cy="204.3" r="4.1"/><circle cx="487.8" cy="219.6" r="4.1"/><circle cx="514.6" cy="211.6" r="4.1"/><circle cx="630.5" cy="194.8" r="4.1"/><circle cx="616.4" cy="177.5" r="4.1"/><circle cx="488.7" cy="236.1" r="4.1"/><circle cx="313.9" cy="224.6" r="4.1"/><circle cx="682.7" cy="215.3" r="4.1"/><circle cx="564.6" cy="228.2" r="4.1"/><circle cx="682.3" cy="234.1" r="4.1"/><circle cx="248.3" cy="217.9" r="4.1"/><circle cx="300.2" cy="178.9" r="4.1"/><circle cx="229.5" cy="191.2" r="4.1"/><circle cx="412.9" cy="206.0" r="4.1"/><circle cx="690.8" cy="206.1" r="4.1"/><circle cx="621.9" cy="242.5" r="4.1"/><circle cx="535.0" cy="191.7" r="4.1"/><circle cx="558.9" cy="197.6" r="4.1"/><circle cx="650.1" cy="230.0" r="4.1"/><circle cx="496.1" cy="202.3" r="4.1"/><circle cx="597.3" cy="210.9" r="4.1"/><circle cx="560.2" cy="217.9" r="4.1"/><circle cx="223.1" cy="228.0" r="4.1"/><circle cx="484.2" cy="221.3" r="4.1"/><circle cx="736.7" cy="227.0" r="4.1"/><circle cx="482.6" cy="196.8" r="4.1"/><circle cx="519.2" cy="198.8" r="4.1"/><circle cx="452.0" cy="199.8" r="4.1"/><circle cx="469.7" cy="210.6" r="4.1"/><circle cx="702.7" cy="215.5" r="4.1"/><circle cx="501.1" cy="162.7" r="4.1"/><circle cx="391.9" cy="246.8" r="4.1"/><circle cx="113.5" cy="180.9" r="4.1"/><circle cx="456.9" cy="199.1" r="4.1"/><circle cx="255.0" cy="205.2" r="4.1"/><circle cx="275.7" cy="217.6" r="4.1"/><circle cx="655.1" cy="211.4" r="4.1"/><circle cx="642.6" cy="232.2" r="4.1"/><circle cx="663.3" cy="209.1" r="4.1"/><circle cx="606.4" cy="242.3" r="4.1"/><circle cx="426.4" cy="188.6" r="4.1"/><circle cx="646.3" cy="182.7" r="4.1"/><circle cx="365.4" cy="240.1" r="4.1"/><circle cx="331.3" cy="200.8" r="4.1"/><circle cx="378.9" cy="202.1" r="4.1"/><circle cx="667.2" cy="204.3" r="4.1"/><circle cx="346.7" cy="197.6" r="4.1"/><circle cx="373.1" cy="190.6" r="4.1"/><circle cx="402.0" cy="188.0" r="4.1"/><circle cx="568.2" cy="168.1" r="4.1"/><circle cx="490.7" cy="206.1" r="4.1"/><circle cx="664.8" cy="188.0" r="4.1"/><circle cx="436.8" cy="241.6" r="4.1"/><circle cx="353.1" cy="209.5" r="4.1"/><circle cx="466.9" cy="232.9" r="4.1"/><circle cx="544.9" cy="176.6" r="4.1"/><circle cx="404.6" cy="156.4" r="4.1"/><circle cx="579.6" cy="195.0" r="4.1"/><circle cx="454.7" cy="209.0" r="4.1"/><circle cx="545.2" cy="206.0" r="4.1"/><circle cx="734.5" cy="202.3" r="4.1"/><circle cx="444.6" cy="183.1" r="4.1"/><circle cx="415.6" cy="186.1" r="4.1"/><circle cx="379.7" cy="263.6" r="4.1"/><circle cx="595.7" cy="177.2" r="4.1"/><circle cx="612.5" cy="217.3" r="4.1"/><circle cx="516.3" cy="218.6" r="4.1"/><circle cx="543.8" cy="176.1" r="4.1"/><circle cx="722.0" cy="212.3" r="4.1"/><circle cx="663.0" cy="236.0" r="4.1"/><circle cx="334.2" cy="235.1" r="4.1"/><circle cx="535.6" cy="205.3" r="4.1"/><circle cx="552.1" cy="187.0" r="4.1"/><circle cx="641.0" cy="174.3" r="4.1"/><circle cx="504.2" cy="210.2" r="4.1"/><circle cx="442.9" cy="216.6" r="4.1"/><circle cx="469.9" cy="171.6" r="4.1"/><circle cx="278.6" cy="216.4" r="4.1"/><circle cx="532.3" cy="175.2" r="4.1"/><circle cx="449.5" cy="201.5" r="4.1"/><circle cx="603.4" cy="201.4" r="4.1"/><circle cx="387.0" cy="211.6" r="4.1"/><circle cx="472.4" cy="200.1" r="4.1"/><circle cx="393.7" cy="216.5" r="4.1"/><circle cx="380.9" cy="221.1" r="4.1"/><circle cx="636.6" cy="209.4" r="4.1"/><circle cx="467.7" cy="220.5" r="4.1"/><circle cx="599.3" cy="200.0" r="4.1"/><circle cx="372.7" cy="204.7" r="4.1"/><circle cx="548.8" cy="212.2" r="4.1"/><circle cx="290.0" cy="210.8" r="4.1"/><circle cx="465.2" cy="211.4" r="4.1"/><circle cx="461.6" cy="169.1" r="4.1"/><circle cx="618.7" cy="206.7" r="4.1"/><circle cx="560.3" cy="219.3" r="4.1"/><circle cx="508.8" cy="212.9" r="4.1"/><circle cx="655.3" cy="192.3" r="4.1"/><circle cx="561.6" cy="210.8" r="4.1"/><circle cx="611.7" cy="209.8" r="4.1"/><circle cx="644.8" cy="212.0" r="4.1"/><circle cx="524.1" cy="203.0" r="4.1"/><circle cx="491.2" cy="198.1" r="4.1"/><circle cx="581.0" cy="197.0" r="4.1"/><circle cx="473.2" cy="241.7" r="4.1"/><circle cx="589.6" cy="229.5" r="4.1"/><circle cx="693.9" cy="263.1" r="4.1"/><circle cx="657.1" cy="189.3" r="4.1"/><circle cx="478.2" cy="182.7" r="4.1"/><circle cx="347.5" cy="178.6" r="4.1"/><circle cx="525.3" cy="203.5" r="4.1"/><circle cx="515.1" cy="181.8" r="4.1"/><circle cx="693.3" cy="207.3" r="4.1"/><circle cx="477.9" cy="209.1" r="4.1"/><circle cx="503.0" cy="239.7" r="4.1"/><circle cx="639.6" cy="223.4" r="4.1"/><circle cx="464.1" cy="219.3" r="4.1"/><circle cx="510.1" cy="186.8" r="4.1"/><circle cx="781.0" cy="170.9" r="4.1"/><circle cx="748.6" cy="216.6" r="4.1"/><circle cx="624.2" cy="198.5" r="4.1"/><circle cx="571.9" cy="200.6" r="4.1"/><circle cx="393.0" cy="223.2" r="4.1"/><circle cx="613.8" cy="243.6" r="4.1"/><circle cx="541.5" cy="222.7" r="4.1"/><circle cx="565.0" cy="237.5" r="4.1"/><circle cx="458.1" cy="213.4" r="4.1"/><circle cx="531.3" cy="209.6" r="4.1"/><circle cx="506.4" cy="210.5" r="4.1"/><circle cx="578.7" cy="210.2" r="4.1"/><circle cx="739.5" cy="196.2" r="4.1"/><circle cx="585.3" cy="226.6" r="4.1"/><circle cx="293.3" cy="187.5" r="4.1"/><circle cx="392.8" cy="242.5" r="4.1"/><circle cx="304.0" cy="205.3" r="4.1"/><circle cx="418.3" cy="198.2" r="4.1"/><circle cx="613.8" cy="223.6" r="4.1"/><circle cx="591.0" cy="240.9" r="4.1"/><circle cx="446.4" cy="192.9" r="4.1"/><circle cx="571.5" cy="221.1" r="4.1"/><circle cx="423.5" cy="189.8" r="4.1"/><circle cx="327.6" cy="190.1" r="4.1"/><circle cx="329.7" cy="206.7" r="4.1"/><circle cx="408.8" cy="206.7" r="4.1"/><circle cx="738.3" cy="185.4" r="4.1"/><circle cx="339.1" cy="198.5" r="4.1"/><circle cx="712.6" cy="226.7" r="4.1"/><circle cx="724.8" cy="203.0" r="4.1"/><circle cx="506.5" cy="194.7" r="4.1"/><circle cx="525.7" cy="202.3" r="4.1"/><circle cx="444.1" cy="202.6" r="4.1"/><circle cx="529.2" cy="209.8" r="4.1"/><circle cx="627.9" cy="209.2" r="4.1"/><circle cx="534.0" cy="226.7" r="4.1"/><circle cx="676.8" cy="237.3" r="4.1"/><circle cx="704.1" cy="182.5" r="4.1"/><circle cx="582.2" cy="220.3" r="4.1"/><circle cx="579.8" cy="201.9" r="4.1"/><circle cx="523.6" cy="238.8" r="4.1"/><circle cx="582.6" cy="203.2" r="4.1"/><circle cx="371.4" cy="224.4" r="4.1"/><circle cx="562.1" cy="228.5" r="4.1"/><circle cx="407.8" cy="227.3" r="4.1"/><circle cx="843.5" cy="186.4" r="4.1"/><circle cx="391.9" cy="182.3" r="4.1"/><circle cx="406.8" cy="251.7" r="4.1"/><circle cx="572.6" cy="201.2" r="4.1"/><circle cx="252.3" cy="187.8" r="4.1"/><circle cx="417.9" cy="232.8" r="4.1"/><circle cx="311.9" cy="192.0" r="4.1"/><circle cx="392.6" cy="217.9" r="4.1"/><circle cx="513.1" cy="228.0" r="4.1"/><circle cx="578.4" cy="214.1" r="4.1"/><circle cx="691.8" cy="216.5" r="4.1"/><circle cx="648.8" cy="236.4" r="4.1"/><circle cx="703.5" cy="158.8" r="4.1"/><circle cx="617.3" cy="216.4" r="4.1"/><circle cx="464.4" cy="222.6" r="4.1"/><circle cx="693.4" cy="188.4" r="4.1"/><circle cx="461.5" cy="208.2" r="4.1"/><circle cx="443.3" cy="178.1" r="4.1"/><circle cx="753.2" cy="212.4" r="4.1"/><circle cx="646.0" cy="199.1" r="4.1"/><circle cx="563.8" cy="204.7" r="4.1"/><circle cx="640.8" cy="203.1" r="4.1"/><circle cx="659.1" cy="211.1" r="4.1"/><circle cx="334.9" cy="208.9" r="4.1"/><circle cx="518.4" cy="170.8" r="4.1"/><circle cx="361.4" cy="221.2" r="4.1"/><circle cx="549.6" cy="218.3" r="4.1"/><circle cx="434.9" cy="214.0" r="4.1"/><circle cx="728.5" cy="194.5" r="4.1"/><circle cx="607.0" cy="198.1" r="4.1"/><circle cx="414.4" cy="186.7" r="4.1"/><circle cx="529.2" cy="235.3" r="4.1"/><circle cx="356.6" cy="201.1" r="4.1"/><circle cx="537.8" cy="210.4" r="4.1"/><circle cx="611.0" cy="212.8" r="4.1"/><circle cx="569.9" cy="203.2" r="4.1"/><circle cx="483.3" cy="200.8" r="4.1"/><circle cx="605.4" cy="203.6" r="4.1"/><circle cx="576.1" cy="237.1" r="4.1"/><circle cx="699.6" cy="208.7" r="4.1"/><circle cx="345.7" cy="173.6" r="4.1"/><circle cx="607.5" cy="214.9" r="4.1"/><circle cx="437.5" cy="194.0" r="4.1"/><circle cx="559.9" cy="211.5" r="4.1"/><circle cx="590.4" cy="224.0" r="4.1"/><circle cx="631.1" cy="226.3" r="4.1"/><circle cx="448.1" cy="215.1" r="4.1"/><circle cx="558.4" cy="178.9" r="4.1"/><circle cx="362.5" cy="189.2" r="4.1"/><circle cx="327.4" cy="221.7" r="4.1"/><circle cx="612.0" cy="185.4" r="4.1"/><circle cx="523.7" cy="209.4" r="4.1"/><circle cx="297.2" cy="221.4" r="4.1"/><circle cx="408.5" cy="197.5" r="4.1"/><circle cx="534.3" cy="226.1" r="4.1"/><circle cx="682.8" cy="179.1" r="4.1"/><circle cx="647.1" cy="245.6" r="4.1"/><circle cx="273.0" cy="195.1" r="4.1"/><circle cx="517.4" cy="239.1" r="4.1"/><circle cx="600.6" cy="207.3" r="4.1"/><circle cx="588.5" cy="210.9" r="4.1"/><circle cx="591.7" cy="216.0" r="4.1"/><circle cx="497.7" cy="253.2" r="4.1"/><circle cx="786.0" cy="209.0" r="4.1"/><circle cx="745.3" cy="207.4" r="4.1"/><circle cx="517.9" cy="225.7" r="4.1"/><circle cx="389.6" cy="208.1" r="4.1"/><circle cx="828.9" cy="185.5" r="4.1"/><circle cx="451.4" cy="221.9" r="4.1"/><circle cx="704.8" cy="201.1" r="4.1"/><circle cx="807.9" cy="231.1" r="4.1"/><circle cx="394.8" cy="198.5" r="4.1"/><circle cx="573.5" cy="193.0" r="4.1"/><circle cx="481.1" cy="153.9" r="4.1"/><circle cx="606.0" cy="187.4" r="4.1"/><circle cx="577.8" cy="197.4" r="4.1"/><circle cx="813.2" cy="176.6" r="4.1"/><circle cx="616.9" cy="227.7" r="4.1"/><circle cx="530.2" cy="183.8" r="4.1"/><circle cx="694.5" cy="218.2" r="4.1"/><circle cx="492.0" cy="219.7" r="4.1"/><circle cx="478.5" cy="183.3" r="4.1"/><circle cx="412.5" cy="178.4" r="4.1"/><circle cx="460.6" cy="237.3" r="4.1"/><circle cx="537.8" cy="200.8" r="4.1"/><circle cx="378.3" cy="217.7" r="4.1"/><circle cx="225.9" cy="212.3" r="4.1"/><circle cx="684.3" cy="247.0" r="4.1"/><circle cx="417.7" cy="186.6" r="4.1"/><circle cx="453.0" cy="202.1" r="4.1"/><circle cx="477.5" cy="227.4" r="4.1"/><circle cx="389.2" cy="235.1" r="4.1"/><circle cx="375.8" cy="224.9" r="4.1"/><circle cx="554.7" cy="176.9" r="4.1"/><circle cx="638.1" cy="213.5" r="4.1"/><circle cx="639.6" cy="196.0" r="4.1"/><circle cx="313.3" cy="206.2" r="4.1"/><circle cx="527.9" cy="201.5" r="4.1"/><circle cx="360.0" cy="190.7" r="4.1"/><circle cx="643.2" cy="199.4" r="4.1"/><circle cx="498.3" cy="187.8" r="4.1"/><circle cx="536.9" cy="231.6" r="4.1"/><circle cx="518.5" cy="205.0" r="4.1"/><circle cx="446.8" cy="213.9" r="4.1"/><circle cx="311.0" cy="204.1" r="4.1"/><circle cx="615.3" cy="207.2" r="4.1"/><circle cx="331.0" cy="219.8" r="4.1"/><circle cx="360.3" cy="213.7" r="4.1"/><circle cx="488.2" cy="186.3" r="4.1"/><circle cx="429.1" cy="218.0" r="4.1"/><circle cx="569.3" cy="232.6" r="4.1"/><circle cx="677.7" cy="193.7" r="4.1"/><circle cx="567.4" cy="185.7" r="4.1"/><circle cx="559.9" cy="211.9" r="4.1"/><circle cx="534.7" cy="203.5" r="4.1"/><circle cx="655.7" cy="223.9" r="4.1"/><circle cx="264.0" cy="210.5" r="4.1"/><circle cx="584.5" cy="182.8" r="4.1"/><circle cx="396.2" cy="189.3" r="4.1"/><circle cx="352.7" cy="203.0" r="4.1"/><circle cx="532.1" cy="212.0" r="4.1"/><circle cx="475.2" cy="240.5" r="4.1"/><circle cx="615.8" cy="199.5" r="4.1"/><circle cx="690.8" cy="196.5" r="4.1"/><circle cx="520.9" cy="163.6" r="4.1"/><circle cx="815.1" cy="198.2" r="4.1"/><circle cx="657.0" cy="185.9" r="4.1"/><circle cx="740.9" cy="229.6" r="4.1"/><circle cx="546.1" cy="180.7" r="4.1"/><circle cx="323.4" cy="187.8" r="4.1"/><circle cx="368.4" cy="177.3" r="4.1"/><circle cx="634.5" cy="191.8" r="4.1"/><circle cx="670.3" cy="196.5" r="4.1"/><circle cx="425.4" cy="174.9" r="4.1"/><circle cx="492.5" cy="220.0" r="4.1"/><circle cx="569.2" cy="192.5" r="4.1"/><circle cx="277.8" cy="183.2" r="4.1"/><circle cx="480.7" cy="222.5" r="4.1"/><circle cx="765.8" cy="230.2" r="4.1"/><circle cx="848.0" cy="196.8" r="4.1"/><circle cx="515.7" cy="203.3" r="4.1"/><circle cx="796.7" cy="193.1" r="4.1"/><circle cx="455.3" cy="192.4" r="4.1"/><circle cx="414.0" cy="222.0" r="4.1"/><circle cx="207.1" cy="198.8" r="4.1"/><circle cx="670.0" cy="182.2" r="4.1"/><circle cx="477.2" cy="213.3" r="4.1"/><circle cx="579.4" cy="229.5" r="4.1"/><circle cx="558.7" cy="188.7" r="4.1"/><circle cx="478.9" cy="189.8" r="4.1"/><circle cx="508.1" cy="186.9" r="4.1"/><circle cx="665.7" cy="213.6" r="4.1"/><circle cx="674.8" cy="227.7" r="4.1"/><circle cx="443.8" cy="222.2" r="4.1"/><circle cx="545.0" cy="202.3" r="4.1"/><circle cx="588.5" cy="192.1" r="4.1"/><circle cx="671.1" cy="203.3" r="4.1"/><circle cx="546.8" cy="187.8" r="4.1"/><circle cx="781.2" cy="201.4" r="4.1"/><circle cx="496.5" cy="230.2" r="4.1"/><circle cx="443.8" cy="175.3" r="4.1"/><circle cx="464.1" cy="180.8" r="4.1"/><circle cx="164.1" cy="220.6" r="4.1"/><circle cx="414.8" cy="168.5" r="4.1"/><circle cx="677.6" cy="195.8" r="4.1"/><circle cx="570.2" cy="202.9" r="4.1"/><circle cx="413.2" cy="165.4" r="4.1"/><circle cx="582.5" cy="258.0" r="4.1"/><circle cx="490.6" cy="190.7" r="4.1"/><circle cx="608.0" cy="210.8" r="4.1"/><circle cx="633.1" cy="225.4" r="4.1"/><circle cx="419.7" cy="174.0" r="4.1"/><circle cx="664.2" cy="195.3" r="4.1"/><circle cx="802.9" cy="232.3" r="4.1"/><circle cx="470.2" cy="219.4" r="4.1"/><circle cx="639.4" cy="187.8" r="4.1"/><circle cx="620.9" cy="200.3" r="4.1"/><circle cx="538.4" cy="213.5" r="4.1"/><circle cx="561.1" cy="242.1" r="4.1"/><circle cx="447.7" cy="209.0" r="4.1"/><circle cx="489.7" cy="239.1" r="4.1"/><circle cx="649.7" cy="216.7" r="4.1"/><circle cx="781.2" cy="171.5" r="4.1"/><circle cx="500.9" cy="194.7" r="4.1"/><circle cx="293.2" cy="189.0" r="4.1"/><circle cx="717.0" cy="192.8" r="4.1"/><circle cx="619.7" cy="198.0" r="4.1"/><circle cx="631.2" cy="185.0" r="4.1"/><circle cx="558.8" cy="229.9" r="4.1"/><circle cx="543.4" cy="187.5" r="4.1"/><circle cx="607.0" cy="220.6" r="4.1"/><circle cx="263.9" cy="214.5" r="4.1"/><circle cx="448.5" cy="180.0" r="4.1"/><circle cx="432.9" cy="173.1" r="4.1"/><circle cx="528.1" cy="218.0" r="4.1"/><circle cx="582.9" cy="222.4" r="4.1"/><circle cx="423.9" cy="193.0" r="4.1"/><circle cx="783.4" cy="199.6" r="4.1"/><circle cx="378.1" cy="219.4" r="4.1"/><circle cx="467.2" cy="192.7" r="4.1"/><circle cx="567.0" cy="193.6" r="4.1"/><circle cx="351.2" cy="203.5" r="4.1"/><circle cx="624.2" cy="176.7" r="4.1"/><circle cx="490.1" cy="188.1" r="4.1"/><circle cx="809.2" cy="183.7" r="4.1"/><circle cx="573.2" cy="182.1" r="4.1"/><circle cx="393.3" cy="220.3" r="4.1"/><circle cx="289.8" cy="198.4" r="4.1"/><circle cx="441.0" cy="203.6" r="4.1"/><circle cx="485.9" cy="217.1" r="4.1"/><circle cx="466.5" cy="199.7" r="4.1"/><circle cx="643.9" cy="199.9" r="4.1"/><circle cx="186.6" cy="206.3" r="4.1"/><circle cx="368.1" cy="215.4" r="4.1"/><circle cx="267.8" cy="187.7" r="4.1"/><circle cx="727.0" cy="238.7" r="4.1"/><circle cx="450.6" cy="187.8" r="4.1"/><circle cx="457.9" cy="204.9" r="4.1"/><circle cx="372.8" cy="199.4" r="4.1"/><circle cx="662.9" cy="255.1" r="4.1"/><circle cx="472.8" cy="169.8" r="4.1"/><circle cx="564.7" cy="241.5" r="4.1"/><circle cx="702.3" cy="191.6" r="4.1"/><circle cx="589.8" cy="217.9" r="4.1"/><circle cx="612.6" cy="213.7" r="4.1"/><circle cx="711.9" cy="252.1" r="4.1"/><circle cx="504.6" cy="214.3" r="4.1"/><circle cx="508.4" cy="200.7" r="4.1"/><circle cx="636.8" cy="190.8" r="4.1"/><circle cx="594.6" cy="211.2" r="4.1"/><circle cx="497.2" cy="200.5" r="4.1"/><circle cx="539.1" cy="195.9" r="4.1"/><circle cx="459.6" cy="219.3" r="4.1"/><circle cx="636.4" cy="220.9" r="4.1"/><circle cx="668.2" cy="163.8" r="4.1"/><circle cx="533.5" cy="223.0" r="4.1"/><circle cx="805.3" cy="179.1" r="4.1"/><circle cx="309.6" cy="203.6" r="4.1"/><circle cx="499.0" cy="174.1" r="4.1"/><circle cx="781.1" cy="218.5" r="4.1"/><circle cx="471.7" cy="194.2" r="4.1"/><circle cx="300.6" cy="198.1" r="4.1"/><circle cx="735.4" cy="209.9" r="4.1"/><circle cx="612.1" cy="198.5" r="4.1"/><circle cx="359.6" cy="221.3" r="4.1"/><circle cx="645.4" cy="206.8" r="4.1"/><circle cx="384.5" cy="213.5" r="4.1"/><circle cx="338.4" cy="189.0" r="4.1"/><circle cx="510.9" cy="207.0" r="4.1"/><circle cx="463.1" cy="234.4" r="4.1"/><circle cx="373.6" cy="212.9" r="4.1"/><circle cx="479.9" cy="207.1" r="4.1"/><circle cx="387.1" cy="224.1" r="4.1"/><circle cx="541.7" cy="177.0" r="4.1"/><circle cx="529.6" cy="196.5" r="4.1"/><circle cx="641.2" cy="187.3" r="4.1"/><circle cx="467.0" cy="221.2" r="4.1"/><circle cx="339.6" cy="213.5" r="4.1"/><circle cx="341.4" cy="183.8" r="4.1"/><circle cx="497.3" cy="235.3" r="4.1"/><circle cx="756.1" cy="197.3" r="4.1"/><circle cx="656.3" cy="203.2" r="4.1"/><circle cx="439.9" cy="215.6" r="4.1"/><circle cx="669.9" cy="203.2" r="4.1"/><circle cx="364.6" cy="227.8" r="4.1"/><circle cx="680.2" cy="200.3" r="4.1"/><circle cx="477.4" cy="230.7" r="4.1"/><circle cx="644.7" cy="232.0" r="4.1"/><circle cx="623.5" cy="175.5" r="4.1"/><circle cx="492.8" cy="219.9" r="4.1"/><circle cx="580.7" cy="249.7" r="4.1"/><circle cx="378.1" cy="184.5" r="4.1"/><circle cx="522.4" cy="221.4" r="4.1"/><circle cx="933.5" cy="206.3" r="4.1"/><circle cx="635.2" cy="185.5" r="4.1"/><circle cx="545.9" cy="197.6" r="4.1"/><circle cx="386.0" cy="168.7" r="4.1"/><circle cx="687.0" cy="207.7" r="4.1"/><circle cx="292.5" cy="192.4" r="4.1"/><circle cx="416.6" cy="226.3" r="4.1"/><circle cx="585.2" cy="201.6" r="4.1"/><circle cx="358.1" cy="172.7" r="4.1"/><circle cx="757.0" cy="194.4" r="4.1"/><circle cx="692.0" cy="201.6" r="4.1"/><circle cx="450.6" cy="246.8" r="4.1"/><circle cx="452.5" cy="213.0" r="4.1"/><circle cx="341.6" cy="232.3" r="4.1"/><circle cx="329.7" cy="188.6" r="4.1"/><circle cx="597.5" cy="220.7" r="4.1"/><circle cx="623.8" cy="197.4" r="4.1"/><circle cx="584.3" cy="226.2" r="4.1"/><circle cx="571.8" cy="165.1" r="4.1"/><circle cx="451.8" cy="229.9" r="4.1"/><circle cx="585.6" cy="202.1" r="4.1"/><circle cx="534.4" cy="200.5" r="4.1"/><circle cx="747.4" cy="223.5" r="4.1"/><circle cx="725.5" cy="192.0" r="4.1"/><circle cx="465.9" cy="184.0" r="4.1"/><circle cx="484.7" cy="186.6" r="4.1"/><circle cx="733.5" cy="246.7" r="4.1"/><circle cx="793.1" cy="200.4" r="4.1"/><circle cx="315.7" cy="250.1" r="4.1"/><circle cx="471.2" cy="164.8" r="4.1"/><circle cx="567.3" cy="203.5" r="4.1"/><circle cx="710.4" cy="214.8" r="4.1"/><circle cx="411.4" cy="190.8" r="4.1"/><circle cx="626.7" cy="194.7" r="4.1"/><circle cx="489.6" cy="230.1" r="4.1"/><circle cx="878.7" cy="170.5" r="4.1"/><circle cx="595.8" cy="210.2" r="4.1"/><circle cx="513.7" cy="242.3" r="4.1"/><circle cx="484.6" cy="175.3" r="4.1"/><circle cx="686.8" cy="172.5" r="4.1"/><circle cx="632.1" cy="178.3" r="4.1"/><circle cx="375.8" cy="193.3" r="4.1"/><circle cx="378.0" cy="215.7" r="4.1"/><circle cx="723.5" cy="201.6" r="4.1"/><circle cx="897.8" cy="199.2" r="4.1"/><circle cx="700.5" cy="204.3" r="4.1"/><circle cx="400.0" cy="250.4" r="4.1"/><circle cx="739.4" cy="215.3" r="4.1"/><circle cx="723.9" cy="208.1" r="4.1"/><circle cx="264.8" cy="229.5" r="4.1"/><circle cx="239.0" cy="232.8" r="4.1"/><circle cx="410.6" cy="170.2" r="4.1"/><circle cx="562.2" cy="236.7" r="4.1"/><circle cx="632.6" cy="228.9" r="4.1"/><circle cx="504.2" cy="222.2" r="4.1"/><circle cx="534.6" cy="220.1" r="4.1"/><circle cx="525.6" cy="207.7" r="4.1"/><circle cx="563.6" cy="219.9" r="4.1"/><circle cx="657.7" cy="200.6" r="4.1"/><circle cx="641.0" cy="208.6" r="4.1"/><circle cx="536.7" cy="197.1" r="4.1"/><circle cx="596.2" cy="167.6" r="4.1"/><circle cx="461.6" cy="241.1" r="4.1"/><circle cx="698.2" cy="158.3" r="4.1"/><circle cx="451.5" cy="228.0" r="4.1"/><circle cx="858.4" cy="191.0" r="4.1"/><circle cx="542.7" cy="207.8" r="4.1"/><circle cx="599.2" cy="223.0" r="4.1"/><circle cx="481.8" cy="159.6" r="4.1"/><circle cx="578.5" cy="238.3" r="4.1"/><circle cx="550.9" cy="239.3" r="4.1"/><circle cx="429.4" cy="177.9" r="4.1"/><circle cx="326.9" cy="210.7" r="4.1"/><circle cx="576.6" cy="157.4" r="4.1"/><circle cx="651.6" cy="189.7" r="4.1"/><circle cx="784.1" cy="204.8" r="4.1"/><circle cx="488.1" cy="187.9" r="4.1"/><circle cx="520.2" cy="207.5" r="4.1"/><circle cx="196.8" cy="208.3" r="4.1"/><circle cx="303.1" cy="228.8" r="4.1"/><circle cx="743.2" cy="204.8" r="4.1"/><circle cx="655.1" cy="261.6" r="4.1"/><circle cx="425.0" cy="183.3" r="4.1"/><circle cx="426.8" cy="170.6" r="4.1"/><circle cx="530.6" cy="256.1" r="4.1"/><circle cx="213.9" cy="208.4" r="4.1"/><circle cx="638.9" cy="162.1" r="4.1"/><circle cx="481.2" cy="199.4" r="4.1"/><circle cx="346.1" cy="245.9" r="4.1"/><circle cx="738.5" cy="185.0" r="4.1"/><circle cx="361.5" cy="212.0" r="4.1"/><circle cx="687.4" cy="238.9" r="4.1"/><circle cx="464.0" cy="222.7" r="4.1"/><circle cx="390.8" cy="203.1" r="4.1"/><circle cx="519.2" cy="214.6" r="4.1"/><circle cx="638.4" cy="235.9" r="4.1"/><circle cx="704.3" cy="219.3" r="4.1"/><circle cx="113.5" cy="176.7" r="4.1"/><circle cx="471.6" cy="212.9" r="4.1"/><circle cx="168.4" cy="220.0" r="4.1"/><circle cx="474.7" cy="182.0" r="4.1"/><circle cx="666.7" cy="247.4" r="4.1"/><circle cx="293.2" cy="188.6" r="4.1"/><circle cx="323.0" cy="179.3" r="4.1"/><circle cx="575.4" cy="191.5" r="4.1"/><circle cx="493.0" cy="219.2" r="4.1"/><circle cx="849.6" cy="213.6" r="4.1"/><circle cx="649.4" cy="217.6" r="4.1"/><circle cx="452.5" cy="184.7" r="4.1"/><circle cx="547.8" cy="208.6" r="4.1"/><circle cx="358.9" cy="226.1" r="4.1"/><circle cx="597.3" cy="240.9" r="4.1"/><circle cx="745.4" cy="214.8" r="4.1"/><circle cx="809.0" cy="208.9" r="4.1"/><circle cx="541.2" cy="173.5" r="4.1"/><circle cx="412.6" cy="213.0" r="4.1"/><circle cx="402.1" cy="229.8" r="4.1"/><circle cx="282.3" cy="216.9" r="4.1"/><circle cx="571.5" cy="229.2" r="4.1"/><circle cx="241.3" cy="198.0" r="4.1"/><circle cx="611.7" cy="215.9" r="4.1"/><circle cx="308.3" cy="208.5" r="4.1"/><circle cx="698.0" cy="175.1" r="4.1"/><circle cx="698.1" cy="247.6" r="4.1"/><circle cx="581.1" cy="175.8" r="4.1"/><circle cx="706.5" cy="200.7" r="4.1"/><circle cx="558.6" cy="236.8" r="4.1"/><circle cx="656.7" cy="164.4" r="4.1"/><circle cx="423.5" cy="220.2" r="4.1"/><circle cx="395.9" cy="200.1" r="4.1"/><circle cx="503.8" cy="219.7" r="4.1"/><circle cx="563.2" cy="223.2" r="4.1"/><circle cx="434.1" cy="216.1" r="4.1"/><circle cx="556.9" cy="168.3" r="4.1"/><circle cx="618.9" cy="209.3" r="4.1"/><circle cx="551.2" cy="249.2" r="4.1"/><circle cx="667.4" cy="202.2" r="4.1"/><circle cx="321.4" cy="251.7" r="4.1"/><circle cx="852.2" cy="206.7" r="4.1"/><circle cx="616.4" cy="201.4" r="4.1"/><circle cx="636.2" cy="226.6" r="4.1"/><circle cx="667.2" cy="205.2" r="4.1"/><circle cx="757.2" cy="224.2" r="4.1"/><circle cx="691.3" cy="232.1" r="4.1"/><circle cx="596.0" cy="163.1" r="4.1"/><circle cx="516.0" cy="194.3" r="4.1"/><circle cx="236.4" cy="223.5" r="4.1"/><circle cx="591.8" cy="238.6" r="4.1"/><circle cx="491.2" cy="207.6" r="4.1"/><circle cx="491.1" cy="194.8" r="4.1"/><circle cx="933.5" cy="185.5" r="4.1"/><circle cx="561.9" cy="198.3" r="4.1"/><circle cx="788.5" cy="175.4" r="4.1"/><circle cx="309.1" cy="186.2" r="4.1"/><circle cx="367.8" cy="169.6" r="4.1"/><circle cx="670.1" cy="262.3" r="4.1"/><circle cx="495.1" cy="225.7" r="4.1"/><circle cx="595.6" cy="174.4" r="4.1"/><circle cx="589.5" cy="252.2" r="4.1"/><circle cx="636.4" cy="224.0" r="4.1"/><circle cx="500.2" cy="163.7" r="4.1"/><circle cx="575.1" cy="192.2" r="4.1"/><circle cx="423.4" cy="226.1" r="4.1"/><circle cx="460.2" cy="257.0" r="4.1"/><circle cx="601.7" cy="198.6" r="4.1"/><circle cx="281.8" cy="220.9" r="4.1"/><circle cx="267.5" cy="196.8" r="4.1"/><circle cx="640.8" cy="222.5" r="4.1"/><circle cx="596.3" cy="240.9" r="4.1"/><circle cx="368.7" cy="206.5" r="4.1"/><circle cx="509.8" cy="256.7" r="4.1"/><circle cx="352.6" cy="196.1" r="4.1"/><circle cx="933.5" cy="224.0" r="4.1"/><circle cx="254.4" cy="183.3" r="4.1"/><circle cx="881.1" cy="228.2" r="4.1"/><circle cx="396.0" cy="235.6" r="4.1"/><circle cx="634.0" cy="200.5" r="4.1"/><circle cx="503.3" cy="173.1" r="4.1"/><circle cx="732.7" cy="209.6" r="4.1"/><circle cx="709.7" cy="193.1" r="4.1"/><circle cx="498.4" cy="260.1" r="4.1"/><circle cx="379.9" cy="242.4" r="4.1"/><circle cx="933.5" cy="192.5" r="4.1"/><circle cx="580.9" cy="234.5" r="4.1"/><circle cx="497.1" cy="157.3" r="4.1"/><circle cx="610.1" cy="244.5" r="4.1"/><circle cx="569.7" cy="241.9" r="4.1"/><circle cx="369.4" cy="249.5" r="4.1"/><circle cx="558.1" cy="253.9" r="4.1"/><circle cx="404.1" cy="157.4" r="4.1"/><circle cx="804.2" cy="173.8" r="4.1"/><circle cx="657.5" cy="188.4" r="4.1"/><circle cx="497.0" cy="187.2" r="4.1"/><circle cx="375.7" cy="201.2" r="4.1"/><circle cx="514.7" cy="243.4" r="4.1"/><circle cx="599.6" cy="225.3" r="4.1"/><circle cx="620.8" cy="181.7" r="4.1"/><circle cx="543.2" cy="248.5" r="4.1"/><circle cx="914.3" cy="184.5" r="4.1"/><circle cx="551.4" cy="229.5" r="4.1"/><circle cx="515.1" cy="210.1" r="4.1"/><circle cx="638.2" cy="250.4" r="4.1"/><circle cx="601.5" cy="214.0" r="4.1"/><circle cx="492.0" cy="214.3" r="4.1"/><circle cx="823.4" cy="215.4" r="4.1"/><circle cx="933.5" cy="186.6" r="4.1"/><circle cx="340.9" cy="204.4" r="4.1"/><circle cx="370.0" cy="246.9" r="4.1"/><circle cx="393.6" cy="233.8" r="4.1"/><circle cx="422.7" cy="250.4" r="4.1"/><circle cx="565.1" cy="171.2" r="4.1"/><circle cx="305.9" cy="188.7" r="4.1"/><circle cx="260.5" cy="203.8" r="4.1"/><circle cx="202.4" cy="194.5" r="4.1"/><circle cx="766.3" cy="197.8" r="4.1"/><circle cx="242.8" cy="174.9" r="4.1"/><circle cx="579.9" cy="175.1" r="4.1"/><circle cx="764.1" cy="205.9" r="4.1"/><circle cx="749.2" cy="223.9" r="4.1"/><circle cx="592.1" cy="226.4" r="4.1"/><circle cx="685.6" cy="231.6" r="4.1"/><circle cx="617.7" cy="244.1" r="4.1"/><circle cx="920.3" cy="208.9" r="4.1"/><circle cx="554.9" cy="228.6" r="4.1"/><circle cx="342.3" cy="220.8" r="4.1"/><circle cx="465.6" cy="157.6" r="4.1"/><circle cx="260.1" cy="194.4" r="4.1"/><circle cx="558.4" cy="236.8" r="4.1"/><circle cx="765.0" cy="194.7" r="4.1"/><circle cx="313.1" cy="263.1" r="4.1"/><circle cx="770.9" cy="179.3" r="4.1"/><circle cx="933.5" cy="205.1" r="4.1"/><circle cx="627.7" cy="220.1" r="4.1"/><circle cx="333.7" cy="195.0" r="4.1"/><circle cx="392.0" cy="166.0" r="4.1"/><circle cx="491.2" cy="229.0" r="4.1"/><circle cx="505.6" cy="213.3" r="4.1"/><circle cx="520.8" cy="164.7" r="4.1"/><circle cx="671.2" cy="236.0" r="4.1"/><circle cx="325.7" cy="201.4" r="4.1"/><circle cx="758.5" cy="193.0" r="4.1"/><circle cx="725.8" cy="222.9" r="4.1"/><circle cx="430.7" cy="235.8" r="4.1"/><circle cx="489.7" cy="202.6" r="4.1"/><circle cx="760.4" cy="221.6" r="4.1"/><circle cx="383.7" cy="244.0" r="4.1"/><circle cx="468.4" cy="253.9" r="4.1"/><circle cx="913.5" cy="233.0" r="4.1"/><circle cx="747.1" cy="229.5" r="4.1"/><circle cx="525.6" cy="212.7" r="4.1"/><circle cx="594.4" cy="239.9" r="4.1"/><circle cx="407.4" cy="231.5" r="4.1"/><circle cx="517.1" cy="184.9" r="4.1"/><circle cx="429.0" cy="258.8" r="4.1"/><circle cx="473.3" cy="193.5" r="4.1"/><circle cx="644.8" cy="198.8" r="4.1"/><circle cx="372.0" cy="228.6" r="4.1"/><circle cx="694.5" cy="203.7" r="4.1"/><circle cx="576.4" cy="238.5" r="4.1"/><circle cx="701.5" cy="227.1" r="4.1"/><circle cx="725.8" cy="247.5" r="4.1"/><circle cx="794.2" cy="198.6" r="4.1"/><circle cx="675.8" cy="168.7" r="4.1"/><circle cx="690.9" cy="236.3" r="4.1"/><circle cx="520.9" cy="174.4" r="4.1"/><circle cx="382.8" cy="243.1" r="4.1"/><circle cx="508.2" cy="247.3" r="4.1"/><circle cx="698.9" cy="157.1" r="4.1"/><circle cx="545.4" cy="233.4" r="4.1"/><circle cx="640.8" cy="188.2" r="4.1"/><circle cx="444.8" cy="195.2" r="4.1"/><circle cx="631.2" cy="215.1" r="4.1"/><circle cx="734.2" cy="208.1" r="4.1"/><circle cx="482.0" cy="187.1" r="4.1"/><circle cx="363.6" cy="170.3" r="4.1"/><circle cx="326.4" cy="220.8" r="4.1"/><circle cx="657.9" cy="184.1" r="4.1"/><circle cx="128.6" cy="195.2" r="4.1"/><circle cx="308.0" cy="229.8" r="4.1"/><circle cx="614.6" cy="210.9" r="4.1"/><circle cx="792.1" cy="188.9" r="4.1"/><circle cx="613.9" cy="237.4" r="4.1"/><circle cx="652.4" cy="208.9" r="4.1"/><circle cx="665.7" cy="202.6" r="4.1"/><circle cx="672.8" cy="211.9" r="4.1"/><circle cx="317.2" cy="222.8" r="4.1"/><circle cx="464.6" cy="262.3" r="4.1"/><circle cx="595.6" cy="264.7" r="4.1"/><circle cx="399.5" cy="204.4" r="4.1"/><circle cx="505.2" cy="216.9" r="4.1"/><circle cx="688.5" cy="224.2" r="4.1"/><circle cx="480.5" cy="216.2" r="4.1"/><circle cx="345.4" cy="193.8" r="4.1"/><circle cx="417.8" cy="255.1" r="4.1"/><circle cx="562.5" cy="194.3" r="4.1"/><circle cx="933.5" cy="224.2" r="4.1"/><circle cx="604.9" cy="230.8" r="4.1"/><circle cx="840.5" cy="218.7" r="4.1"/><circle cx="650.3" cy="181.2" r="4.1"/><circle cx="142.1" cy="195.4" r="4.1"/><circle cx="628.1" cy="184.4" r="4.1"/><circle cx="391.4" cy="236.8" r="4.1"/><circle cx="294.8" cy="223.4" r="4.1"/><circle cx="348.0" cy="252.6" r="4.1"/><circle cx="251.5" cy="227.1" r="4.1"/><circle cx="435.9" cy="229.4" r="4.1"/><circle cx="778.0" cy="190.3" r="4.1"/><circle cx="683.1" cy="199.8" r="4.1"/><circle cx="225.9" cy="188.7" r="4.1"/><circle cx="533.7" cy="209.7" r="4.1"/><circle cx="455.7" cy="178.3" r="4.1"/><circle cx="517.4" cy="210.2" r="4.1"/><circle cx="699.8" cy="181.9" r="4.1"/><circle cx="444.0" cy="197.3" r="4.1"/><circle cx="493.4" cy="189.5" r="4.1"/><circle cx="483.2" cy="262.0" r="4.1"/><circle cx="314.8" cy="201.1" r="4.1"/><circle cx="433.4" cy="199.2" r="4.1"/><circle cx="301.6" cy="219.5" r="4.1"/><circle cx="584.8" cy="229.2" r="4.1"/><circle cx="706.4" cy="251.2" r="4.1"/><circle cx="751.5" cy="216.0" r="4.1"/><circle cx="563.6" cy="215.7" r="4.1"/><circle cx="481.5" cy="251.5" r="4.1"/><circle cx="604.9" cy="256.2" r="4.1"/><circle cx="565.8" cy="237.3" r="4.1"/><circle cx="320.1" cy="225.4" r="4.1"/><circle cx="761.1" cy="230.1" r="4.1"/><circle cx="598.1" cy="186.9" r="4.1"/><circle cx="706.6" cy="253.1" r="4.1"/><circle cx="292.0" cy="200.5" r="4.1"/><circle cx="723.5" cy="165.2" r="4.1"/><circle cx="933.5" cy="184.3" r="4.1"/><circle cx="673.2" cy="251.8" r="4.1"/><circle cx="561.5" cy="185.9" r="4.1"/><circle cx="543.0" cy="197.5" r="4.1"/><circle cx="596.4" cy="233.4" r="4.1"/><circle cx="509.3" cy="171.4" r="4.1"/><circle cx="649.9" cy="227.4" r="4.1"/><circle cx="464.6" cy="210.4" r="4.1"/><circle cx="598.6" cy="248.4" r="4.1"/><circle cx="421.4" cy="203.4" r="4.1"/><circle cx="573.3" cy="228.3" r="4.1"/><circle cx="746.2" cy="230.7" r="4.1"/><circle cx="459.5" cy="178.1" r="4.1"/><circle cx="682.8" cy="206.8" r="4.1"/><circle cx="382.9" cy="263.6" r="4.1"/><circle cx="482.3" cy="191.0" r="4.1"/><circle cx="508.4" cy="186.2" r="4.1"/><circle cx="406.1" cy="227.0" r="4.1"/><circle cx="789.1" cy="212.2" r="4.1"/><circle cx="271.1" cy="222.2" r="4.1"/><circle cx="523.3" cy="209.8" r="4.1"/><circle cx="730.0" cy="192.4" r="4.1"/><circle cx="688.0" cy="230.3" r="4.1"/><circle cx="317.5" cy="237.6" r="4.1"/><circle cx="723.2" cy="231.9" r="4.1"/><circle cx="453.0" cy="212.7" r="4.1"/><circle cx="551.4" cy="220.2" r="4.1"/><circle cx="715.8" cy="208.2" r="4.1"/><circle cx="615.3" cy="200.5" r="4.1"/><circle cx="563.7" cy="168.4" r="4.1"/><circle cx="533.9" cy="191.2" r="4.1"/><circle cx="221.0" cy="175.4" r="4.1"/><circle cx="614.8" cy="199.3" r="4.1"/><circle cx="577.7" cy="215.1" r="4.1"/><circle cx="408.0" cy="195.7" r="4.1"/><circle cx="308.0" cy="185.4" r="4.1"/><circle cx="558.5" cy="178.9" r="4.1"/><circle cx="568.5" cy="206.6" r="4.1"/><circle cx="129.0" cy="188.5" r="4.1"/><circle cx="276.2" cy="173.6" r="4.1"/><circle cx="365.3" cy="219.5" r="4.1"/><circle cx="705.3" cy="257.0" r="4.1"/><circle cx="735.8" cy="156.6" r="4.1"/><circle cx="667.9" cy="194.6" r="4.1"/><circle cx="599.3" cy="228.6" r="4.1"/><circle cx="127.2" cy="206.2" r="4.1"/><circle cx="594.5" cy="222.2" r="4.1"/><circle cx="779.4" cy="220.1" r="4.1"/><circle cx="933.5" cy="207.2" r="4.1"/><circle cx="689.9" cy="217.6" r="4.1"/><circle cx="710.4" cy="176.3" r="4.1"/><circle cx="352.8" cy="218.0" r="4.1"/><circle cx="567.8" cy="201.5" r="4.1"/><circle cx="313.2" cy="223.9" r="4.1"/><circle cx="726.1" cy="226.6" r="4.1"/><circle cx="321.0" cy="260.4" r="4.1"/><circle cx="510.8" cy="181.1" r="4.1"/><circle cx="393.3" cy="208.3" r="4.1"/><circle cx="461.3" cy="233.3" r="4.1"/><circle cx="640.8" cy="207.0" r="4.1"/><circle cx="442.8" cy="227.7" r="4.1"/><circle cx="594.7" cy="238.0" r="4.1"/><circle cx="357.6" cy="205.7" r="4.1"/><circle cx="822.7" cy="173.6" r="4.1"/><circle cx="427.0" cy="222.9" r="4.1"/><circle cx="933.5" cy="234.4" r="4.1"/><circle cx="359.4" cy="240.9" r="4.1"/><circle cx="511.8" cy="174.5" r="4.1"/><circle cx="778.7" cy="221.9" r="4.1"/><circle cx="457.7" cy="189.4" r="4.1"/><circle cx="625.2" cy="217.5" r="4.1"/><circle cx="660.8" cy="227.6" r="4.1"/><circle cx="713.9" cy="218.3" r="4.1"/><circle cx="113.5" cy="195.2" r="4.1"/><circle cx="184.1" cy="225.1" r="4.1"/><circle cx="584.8" cy="203.3" r="4.1"/><circle cx="377.2" cy="198.2" r="4.1"/><circle cx="755.5" cy="214.5" r="4.1"/><circle cx="770.7" cy="219.9" r="4.1"/><circle cx="469.0" cy="235.9" r="4.1"/><circle cx="672.1" cy="257.6" r="4.1"/><circle cx="228.4" cy="191.9" r="4.1"/><circle cx="515.0" cy="167.2" r="4.1"/><circle cx="801.5" cy="185.4" r="4.1"/><circle cx="805.4" cy="223.7" r="4.1"/><circle cx="425.6" cy="252.2" r="4.1"/><circle cx="433.2" cy="213.0" r="4.1"/><circle cx="588.2" cy="213.2" r="4.1"/><circle cx="678.5" cy="176.4" r="4.1"/><circle cx="470.6" cy="238.5" r="4.1"/><circle cx="528.4" cy="226.4" r="4.1"/><circle cx="669.9" cy="215.6" r="4.1"/><circle cx="633.2" cy="223.1" r="4.1"/><circle cx="708.9" cy="221.3" r="4.1"/><circle cx="485.3" cy="180.7" r="4.1"/><circle cx="493.8" cy="156.9" r="4.1"/><circle cx="243.1" cy="200.7" r="4.1"/><circle cx="113.5" cy="217.7" r="4.1"/><circle cx="471.6" cy="231.3" r="4.1"/><circle cx="637.7" cy="227.6" r="4.1"/><circle cx="508.3" cy="222.6" r="4.1"/><circle cx="581.9" cy="165.4" r="4.1"/><circle cx="692.9" cy="233.6" r="4.1"/><circle cx="401.9" cy="187.9" r="4.1"/><circle cx="505.0" cy="227.4" r="4.1"/><circle cx="480.5" cy="254.5" r="4.1"/><circle cx="933.5" cy="206.0" r="4.1"/><circle cx="564.2" cy="208.2" r="4.1"/><circle cx="706.1" cy="242.6" r="4.1"/><circle cx="362.3" cy="181.8" r="4.1"/><circle cx="933.5" cy="198.5" r="4.1"/><circle cx="537.5" cy="205.9" r="4.1"/><circle cx="746.1" cy="197.5" r="4.1"/><circle cx="439.0" cy="229.6" r="4.1"/><circle cx="496.7" cy="197.9" r="4.1"/><circle cx="307.9" cy="233.9" r="4.1"/><circle cx="342.1" cy="258.0" r="4.1"/><circle cx="774.4" cy="206.8" r="4.1"/><circle cx="323.8" cy="210.8" r="4.1"/><circle cx="622.3" cy="178.7" r="4.1"/><circle cx="421.8" cy="221.1" r="4.1"/><circle cx="558.8" cy="200.7" r="4.1"/><circle cx="530.7" cy="245.7" r="4.1"/><circle cx="451.8" cy="205.5" r="4.1"/><circle cx="559.0" cy="227.3" r="4.1"/><circle cx="559.2" cy="251.3" r="4.1"/><circle cx="348.3" cy="176.5" r="4.1"/><circle cx="382.0" cy="180.5" r="4.1"/><circle cx="572.9" cy="227.5" r="4.1"/><circle cx="610.8" cy="238.2" r="4.1"/><circle cx="735.5" cy="241.9" r="4.1"/><circle cx="573.1" cy="204.8" r="4.1"/><circle cx="574.0" cy="172.5" r="4.1"/><circle cx="626.2" cy="186.0" r="4.1"/><circle cx="492.6" cy="167.6" r="4.1"/><circle cx="547.5" cy="246.3" r="4.1"/><circle cx="312.0" cy="234.4" r="4.1"/><circle cx="549.1" cy="219.3" r="4.1"/><circle cx="431.7" cy="203.6" r="4.1"/><circle cx="738.0" cy="230.9" r="4.1"/><circle cx="906.9" cy="216.5" r="4.1"/><circle cx="486.8" cy="208.7" r="4.1"/><circle cx="669.9" cy="153.7" r="4.1"/><circle cx="670.0" cy="250.9" r="4.1"/><circle cx="215.2" cy="204.9" r="4.1"/><circle cx="500.3" cy="177.8" r="4.1"/><circle cx="534.9" cy="239.6" r="4.1"/><circle cx="113.5" cy="213.5" r="4.1"/><circle cx="681.5" cy="159.4" r="4.1"/><circle cx="635.0" cy="223.0" r="4.1"/><circle cx="595.2" cy="178.9" r="4.1"/><circle cx="338.0" cy="203.9" r="4.1"/><circle cx="406.9" cy="206.0" r="4.1"/><circle cx="422.4" cy="189.8" r="4.1"/><circle cx="642.5" cy="221.3" r="4.1"/><circle cx="352.8" cy="220.5" r="4.1"/><circle cx="622.5" cy="204.9" r="4.1"/><circle cx="115.8" cy="197.0" r="4.1"/><circle cx="578.8" cy="213.0" r="4.1"/><circle cx="438.2" cy="173.3" r="4.1"/><circle cx="567.5" cy="183.7" r="4.1"/><circle cx="185.0" cy="202.1" r="4.1"/><circle cx="584.8" cy="230.7" r="4.1"/><circle cx="113.5" cy="233.8" r="4.1"/><circle cx="343.9" cy="198.9" r="4.1"/><circle cx="797.4" cy="212.0" r="4.1"/><circle cx="479.0" cy="170.2" r="4.1"/><circle cx="354.7" cy="223.4" r="4.1"/><circle cx="732.0" cy="173.6" r="4.1"/><circle cx="536.6" cy="246.6" r="4.1"/><circle cx="588.7" cy="207.3" r="4.1"/><circle cx="671.0" cy="248.9" r="4.1"/><circle cx="332.5" cy="191.5" r="4.1"/><circle cx="704.1" cy="194.4" r="4.1"/><circle cx="421.1" cy="262.9" r="4.1"/><circle cx="412.9" cy="244.2" r="4.1"/><circle cx="690.8" cy="242.1" r="4.1"/><circle cx="694.3" cy="187.5" r="4.1"/><circle cx="617.3" cy="167.5" r="4.1"/><circle cx="653.7" cy="228.2" r="4.1"/><circle cx="638.9" cy="223.0" r="4.1"/><circle cx="531.1" cy="206.4" r="4.1"/><circle cx="113.5" cy="222.7" r="4.1"/><circle cx="113.5" cy="185.7" r="4.1"/><circle cx="535.7" cy="205.8" r="4.1"/><circle cx="499.7" cy="216.3" r="4.1"/><circle cx="517.3" cy="232.5" r="4.1"/><circle cx="589.8" cy="164.6" r="4.1"/><circle cx="498.0" cy="233.8" r="4.1"/><circle cx="345.6" cy="209.4" r="4.1"/><circle cx="787.2" cy="210.3" r="4.1"/><circle cx="725.6" cy="226.6" r="4.1"/><circle cx="274.4" cy="195.8" r="4.1"/><circle cx="489.7" cy="211.2" r="4.1"/><circle cx="632.3" cy="259.3" r="4.1"/><circle cx="424.0" cy="180.4" r="4.1"/><circle cx="579.0" cy="232.8" r="4.1"/><circle cx="197.1" cy="213.0" r="4.1"/><circle cx="397.5" cy="238.8" r="4.1"/><circle cx="536.0" cy="195.0" r="4.1"/><circle cx="399.8" cy="222.5" r="4.1"/><circle cx="933.5" cy="213.1" r="4.1"/><circle cx="717.1" cy="244.3" r="4.1"/><circle cx="582.9" cy="192.3" r="4.1"/><circle cx="351.7" cy="177.1" r="4.1"/><circle cx="716.7" cy="230.9" r="4.1"/><circle cx="669.9" cy="154.3" r="4.1"/><circle cx="440.5" cy="232.4" r="4.1"/><circle cx="456.5" cy="205.2" r="4.1"/><circle cx="659.0" cy="175.4" r="4.1"/><circle cx="425.3" cy="206.0" r="4.1"/><circle cx="449.0" cy="199.6" r="4.1"/><circle cx="783.6" cy="210.9" r="4.1"/><circle cx="633.0" cy="203.6" r="4.1"/><circle cx="384.0" cy="244.0" r="4.1"/><circle cx="642.9" cy="218.8" r="4.1"/><circle cx="708.7" cy="251.3" r="4.1"/><circle cx="684.0" cy="225.1" r="4.1"/><circle cx="564.2" cy="201.2" r="4.1"/><circle cx="439.5" cy="239.5" r="4.1"/><circle cx="622.3" cy="222.7" r="4.1"/><circle cx="571.9" cy="213.1" r="4.1"/><circle cx="409.1" cy="183.0" r="4.1"/><circle cx="610.2" cy="205.7" r="4.1"/><circle cx="296.3" cy="200.5" r="4.1"/><circle cx="588.1" cy="261.3" r="4.1"/><circle cx="482.6" cy="225.6" r="4.1"/><circle cx="733.4" cy="186.4" r="4.1"/><circle cx="562.8" cy="242.1" r="4.1"/><circle cx="751.7" cy="228.0" r="4.1"/><circle cx="498.7" cy="169.3" r="4.1"/><circle cx="375.6" cy="228.6" r="4.1"/><circle cx="633.7" cy="237.8" r="4.1"/><circle cx="524.5" cy="193.1" r="4.1"/><circle cx="570.3" cy="177.1" r="4.1"/><circle cx="421.8" cy="197.2" r="4.1"/><circle cx="652.7" cy="181.1" r="4.1"/><circle cx="555.7" cy="206.6" r="4.1"/><circle cx="113.5" cy="217.9" r="4.1"/><circle cx="494.7" cy="228.3" r="4.1"/><circle cx="608.2" cy="230.5" r="4.1"/><circle cx="776.5" cy="233.5" r="4.1"/><circle cx="426.7" cy="201.5" r="4.1"/><circle cx="381.9" cy="217.4" r="4.1"/><circle cx="770.5" cy="210.8" r="4.1"/><circle cx="420.2" cy="193.6" r="4.1"/><circle cx="562.5" cy="215.5" r="4.1"/><circle cx="635.7" cy="259.1" r="4.1"/><circle cx="688.4" cy="239.9" r="4.1"/><circle cx="543.1" cy="250.8" r="4.1"/><circle cx="742.6" cy="210.2" r="4.1"/><circle cx="455.0" cy="253.5" r="4.1"/><circle cx="437.8" cy="256.3" r="4.1"/><circle cx="716.2" cy="184.7" r="4.1"/><circle cx="330.5" cy="224.0" r="4.1"/><circle cx="445.5" cy="180.6" r="4.1"/><circle cx="492.4" cy="216.7" r="4.1"/><circle cx="392.2" cy="228.2" r="4.1"/><circle cx="160.0" cy="195.0" r="4.1"/><circle cx="700.7" cy="193.9" r="4.1"/><circle cx="695.5" cy="209.9" r="4.1"/><circle cx="589.7" cy="248.2" r="4.1"/><circle cx="461.3" cy="228.9" r="4.1"/><circle cx="583.3" cy="253.0" r="4.1"/><circle cx="667.9" cy="222.3" r="4.1"/><circle cx="333.9" cy="210.7" r="4.1"/><circle cx="475.0" cy="164.6" r="4.1"/><circle cx="429.9" cy="166.9" r="4.1"/><circle cx="679.3" cy="191.3" r="4.1"/><circle cx="592.9" cy="182.1" r="4.1"/><circle cx="283.0" cy="206.2" r="4.1"/><circle cx="570.7" cy="201.2" r="4.1"/><circle cx="415.8" cy="200.1" r="4.1"/><circle cx="788.2" cy="178.9" r="4.1"/><circle cx="528.0" cy="207.6" r="4.1"/><circle cx="453.9" cy="203.5" r="4.1"/><circle cx="491.9" cy="182.7" r="4.1"/><circle cx="704.9" cy="209.4" r="4.1"/><circle cx="673.9" cy="187.0" r="4.1"/><circle cx="278.0" cy="221.2" r="4.1"/><circle cx="491.5" cy="197.2" r="4.1"/><circle cx="331.4" cy="175.2" r="4.1"/><circle cx="565.5" cy="256.4" r="4.1"/><circle cx="416.9" cy="246.1" r="4.1"/><circle cx="425.4" cy="223.9" r="4.1"/><circle cx="414.8" cy="222.1" r="4.1"/><circle cx="440.8" cy="155.6" r="4.1"/><circle cx="201.0" cy="180.4" r="4.1"/><circle cx="643.3" cy="234.4" r="4.1"/><circle cx="776.6" cy="201.9" r="4.1"/><circle cx="661.7" cy="186.4" r="4.1"/><circle cx="575.6" cy="175.6" r="4.1"/><circle cx="474.7" cy="206.2" r="4.1"/><circle cx="342.8" cy="263.8" r="4.1"/><circle cx="113.5" cy="195.0" r="4.1"/><circle cx="456.9" cy="198.0" r="4.1"/><circle cx="788.0" cy="209.4" r="4.1"/><circle cx="678.0" cy="224.3" r="4.1"/><circle cx="561.6" cy="193.5" r="4.1"/><circle cx="755.8" cy="201.8" r="4.1"/><circle cx="456.8" cy="219.3" r="4.1"/><circle cx="686.7" cy="257.5" r="4.1"/><circle cx="656.8" cy="240.7" r="4.1"/><circle cx="933.5" cy="203.2" r="4.1"/><circle cx="496.1" cy="219.7" r="4.1"/><circle cx="669.2" cy="215.0" r="4.1"/><circle cx="506.2" cy="196.5" r="4.1"/><circle cx="846.9" cy="222.2" r="4.1"/><circle cx="407.1" cy="223.0" r="4.1"/><circle cx="443.6" cy="189.3" r="4.1"/><circle cx="291.1" cy="218.7" r="4.1"/><circle cx="645.8" cy="214.6" r="4.1"/><circle cx="680.5" cy="233.0" r="4.1"/><circle cx="658.1" cy="209.5" r="4.1"/><circle cx="219.9" cy="211.0" r="4.1"/><circle cx="272.3" cy="230.0" r="4.1"/><circle cx="225.9" cy="230.5" r="4.1"/><circle cx="502.1" cy="200.9" r="4.1"/><circle cx="621.7" cy="231.3" r="4.1"/><circle cx="661.5" cy="228.5" r="4.1"/><circle cx="534.0" cy="260.1" r="4.1"/><circle cx="405.3" cy="245.0" r="4.1"/><circle cx="535.9" cy="253.2" r="4.1"/><circle cx="650.3" cy="154.5" r="4.1"/><circle cx="479.4" cy="258.7" r="4.1"/><circle cx="548.2" cy="250.0" r="4.1"/><circle cx="477.3" cy="208.0" r="4.1"/><circle cx="434.2" cy="167.0" r="4.1"/><circle cx="317.4" cy="265.9" r="4.1"/><circle cx="745.0" cy="210.3" r="4.1"/><circle cx="229.3" cy="203.2" r="4.1"/><circle cx="628.4" cy="261.5" r="4.1"/><circle cx="708.8" cy="189.7" r="4.1"/><circle cx="377.4" cy="215.9" r="4.1"/><circle cx="448.7" cy="189.7" r="4.1"/><circle cx="314.9" cy="218.1" r="4.1"/><circle cx="525.8" cy="215.6" r="4.1"/><circle cx="618.3" cy="194.1" r="4.1"/><circle cx="933.5" cy="218.5" r="4.1"/><circle cx="268.0" cy="206.7" r="4.1"/><circle cx="422.5" cy="234.5" r="4.1"/><circle cx="591.5" cy="199.0" r="4.1"/><circle cx="710.3" cy="222.6" r="4.1"/><circle cx="644.2" cy="239.4" r="4.1"/><circle cx="620.5" cy="192.8" r="4.1"/><circle cx="498.4" cy="196.5" r="4.1"/><circle cx="535.5" cy="214.9" r="4.1"/><circle cx="567.3" cy="239.8" r="4.1"/><circle cx="773.2" cy="184.8" r="4.1"/><circle cx="440.4" cy="241.9" r="4.1"/><circle cx="347.4" cy="240.6" r="4.1"/><circle cx="380.1" cy="245.7" r="4.1"/><circle cx="803.9" cy="186.5" r="4.1"/><circle cx="304.0" cy="186.1" r="4.1"/><circle cx="551.9" cy="165.5" r="4.1"/><circle cx="313.7" cy="189.9" r="4.1"/><circle cx="624.8" cy="230.6" r="4.1"/><circle cx="787.3" cy="178.7" r="4.1"/><circle cx="652.8" cy="235.0" r="4.1"/><circle cx="708.5" cy="226.3" r="4.1"/><circle cx="508.2" cy="253.7" r="4.1"/><circle cx="149.7" cy="174.0" r="4.1"/><circle cx="147.2" cy="181.2" r="4.1"/><circle cx="517.7" cy="230.2" r="4.1"/><circle cx="650.2" cy="225.1" r="4.1"/><circle cx="787.0" cy="213.6" r="4.1"/><circle cx="468.6" cy="208.1" r="4.1"/><circle cx="551.8" cy="186.8" r="4.1"/><circle cx="587.4" cy="212.6" r="4.1"/><circle cx="746.2" cy="201.5" r="4.1"/><circle cx="523.4" cy="264.7" r="4.1"/><circle cx="321.8" cy="224.9" r="4.1"/><circle cx="618.0" cy="155.6" r="4.1"/><circle cx="612.3" cy="168.5" r="4.1"/><circle cx="287.1" cy="191.1" r="4.1"/><circle cx="535.6" cy="178.0" r="4.1"/><circle cx="451.5" cy="221.8" r="4.1"/><circle cx="530.3" cy="256.3" r="4.1"/><circle cx="888.5" cy="215.2" r="4.1"/><circle cx="421.5" cy="202.0" r="4.1"/><circle cx="687.0" cy="245.8" r="4.1"/><circle cx="288.0" cy="224.4" r="4.1"/><circle cx="561.9" cy="205.7" r="4.1"/><circle cx="474.9" cy="220.2" r="4.1"/><circle cx="496.0" cy="221.0" r="4.1"/><circle cx="559.8" cy="188.7" r="4.1"/><circle cx="377.5" cy="206.5" r="4.1"/><circle cx="560.1" cy="264.3" r="4.1"/><circle cx="614.3" cy="224.1" r="4.1"/><circle cx="464.2" cy="206.3" r="4.1"/><circle cx="463.9" cy="247.5" r="4.1"/><circle cx="310.6" cy="192.7" r="4.1"/><circle cx="644.9" cy="241.7" r="4.1"/><circle cx="405.0" cy="226.1" r="4.1"/><circle cx="624.3" cy="218.8" r="4.1"/><circle cx="805.7" cy="225.8" r="4.1"/><circle cx="336.5" cy="234.1" r="4.1"/><circle cx="764.3" cy="191.4" r="4.1"/><circle cx="449.1" cy="230.8" r="4.1"/><circle cx="644.2" cy="208.7" r="4.1"/><circle cx="670.5" cy="205.3" r="4.1"/><circle cx="538.0" cy="215.8" r="4.1"/><circle cx="669.0" cy="170.1" r="4.1"/><circle cx="670.9" cy="223.1" r="4.1"/><circle cx="864.9" cy="221.7" r="4.1"/><circle cx="400.2" cy="258.8" r="4.1"/><circle cx="551.1" cy="234.1" r="4.1"/><circle cx="631.0" cy="198.9" r="4.1"/><circle cx="497.1" cy="186.3" r="4.1"/><circle cx="546.8" cy="228.3" r="4.1"/><circle cx="583.1" cy="250.4" r="4.1"/><circle cx="163.2" cy="209.7" r="4.1"/><circle cx="636.8" cy="209.3" r="4.1"/><circle cx="342.0" cy="229.4" r="4.1"/><circle cx="864.0" cy="180.7" r="4.1"/><circle cx="535.5" cy="158.7" r="4.1"/><circle cx="226.0" cy="232.6" r="4.1"/><circle cx="572.8" cy="191.3" r="4.1"/><circle cx="571.7" cy="223.2" r="4.1"/><circle cx="678.5" cy="250.4" r="4.1"/><circle cx="479.0" cy="172.7" r="4.1"/><circle cx="303.6" cy="202.3" r="4.1"/><circle cx="509.2" cy="210.6" r="4.1"/><circle cx="355.5" cy="203.5" r="4.1"/><circle cx="884.8" cy="220.7" r="4.1"/><circle cx="398.4" cy="250.3" r="4.1"/><circle cx="409.2" cy="156.3" r="4.1"/><circle cx="528.0" cy="185.4" r="4.1"/><circle cx="293.8" cy="206.6" r="4.1"/><circle cx="449.7" cy="183.3" r="4.1"/><circle cx="510.6" cy="172.6" r="4.1"/><circle cx="441.3" cy="222.0" r="4.1"/><circle cx="487.8" cy="195.8" r="4.1"/><circle cx="780.7" cy="226.1" r="4.1"/><circle cx="622.2" cy="193.9" r="4.1"/><circle cx="274.7" cy="223.8" r="4.1"/><circle cx="683.5" cy="227.2" r="4.1"/><circle cx="409.5" cy="198.2" r="4.1"/><circle cx="553.2" cy="200.0" r="4.1"/><circle cx="531.5" cy="226.5" r="4.1"/><circle cx="640.8" cy="184.2" r="4.1"/><circle cx="502.0" cy="218.1" r="4.1"/><circle cx="509.5" cy="229.0" r="4.1"/><circle cx="368.7" cy="215.3" r="4.1"/><circle cx="607.7" cy="240.3" r="4.1"/><circle cx="355.1" cy="175.6" r="4.1"/><circle cx="533.2" cy="182.7" r="4.1"/><circle cx="493.3" cy="260.2" r="4.1"/><circle cx="691.7" cy="206.3" r="4.1"/><circle cx="520.5" cy="240.9" r="4.1"/><circle cx="554.5" cy="212.5" r="4.1"/><circle cx="526.9" cy="173.0" r="4.1"/><circle cx="394.9" cy="206.8" r="4.1"/><circle cx="356.4" cy="221.2" r="4.1"/><circle cx="400.0" cy="178.1" r="4.1"/><circle cx="759.1" cy="181.8" r="4.1"/><circle cx="414.1" cy="153.9" r="4.1"/><circle cx="449.1" cy="204.5" r="4.1"/><circle cx="673.9" cy="229.2" r="4.1"/><circle cx="355.9" cy="211.5" r="4.1"/><circle cx="644.7" cy="254.0" r="4.1"/><circle cx="477.8" cy="245.3" r="4.1"/><circle cx="636.2" cy="224.0" r="4.1"/><circle cx="700.3" cy="239.3" r="4.1"/><circle cx="580.4" cy="254.2" r="4.1"/><circle cx="849.5" cy="227.0" r="4.1"/><circle cx="703.9" cy="223.3" r="4.1"/><circle cx="764.9" cy="210.4" r="4.1"/><circle cx="484.0" cy="240.7" r="4.1"/><circle cx="659.9" cy="209.8" r="4.1"/><circle cx="541.1" cy="176.8" r="4.1"/><circle cx="512.5" cy="198.6" r="4.1"/><circle cx="732.8" cy="203.7" r="4.1"/><circle cx="529.2" cy="203.7" r="4.1"/><circle cx="499.1" cy="179.7" r="4.1"/><circle cx="334.3" cy="250.1" r="4.1"/><circle cx="545.4" cy="207.8" r="4.1"/><circle cx="591.8" cy="186.5" r="4.1"/><circle cx="933.5" cy="223.8" r="4.1"/><circle cx="784.0" cy="179.9" r="4.1"/><circle cx="677.6" cy="222.4" r="4.1"/><circle cx="368.2" cy="174.2" r="4.1"/><circle cx="491.7" cy="230.1" r="4.1"/><circle cx="933.5" cy="202.7" r="4.1"/><circle cx="434.4" cy="245.5" r="4.1"/><circle cx="773.5" cy="178.2" r="4.1"/><circle cx="776.6" cy="228.1" r="4.1"/><circle cx="540.2" cy="228.6" r="4.1"/><circle cx="601.7" cy="208.3" r="4.1"/><circle cx="409.0" cy="189.4" r="4.1"/><circle cx="307.3" cy="230.6" r="4.1"/><circle cx="513.1" cy="221.5" r="4.1"/><circle cx="732.4" cy="255.8" r="4.1"/><circle cx="644.7" cy="220.4" r="4.1"/><circle cx="680.5" cy="246.0" r="4.1"/><circle cx="331.6" cy="207.7" r="4.1"/><circle cx="933.5" cy="222.6" r="4.1"/><circle cx="481.5" cy="187.5" r="4.1"/><circle cx="512.2" cy="171.7" r="4.1"/><circle cx="581.6" cy="240.4" r="4.1"/><circle cx="796.5" cy="186.5" r="4.1"/><circle cx="558.7" cy="200.1" r="4.1"/><circle cx="530.0" cy="208.5" r="4.1"/><circle cx="596.5" cy="168.5" r="4.1"/><circle cx="793.4" cy="224.2" r="4.1"/><circle cx="369.3" cy="248.9" r="4.1"/><circle cx="641.2" cy="195.2" r="4.1"/><circle cx="880.7" cy="205.1" r="4.1"/><circle cx="789.1" cy="187.1" r="4.1"/><circle cx="602.2" cy="222.4" r="4.1"/><circle cx="364.5" cy="171.4" r="4.1"/><circle cx="397.8" cy="233.5" r="4.1"/><circle cx="506.5" cy="210.5" r="4.1"/><circle cx="597.9" cy="256.6" r="4.1"/><circle cx="488.4" cy="241.6" r="4.1"/><circle cx="252.3" cy="208.1" r="4.1"/><circle cx="392.8" cy="236.8" r="4.1"/><circle cx="638.4" cy="229.9" r="4.1"/><circle cx="700.5" cy="221.7" r="4.1"/><circle cx="263.4" cy="206.4" r="4.1"/><circle cx="465.9" cy="189.2" r="4.1"/><circle cx="426.9" cy="180.5" r="4.1"/><circle cx="933.5" cy="207.9" r="4.1"/><circle cx="549.6" cy="233.0" r="4.1"/><circle cx="422.0" cy="226.4" r="4.1"/><circle cx="528.9" cy="159.5" r="4.1"/><circle cx="826.2" cy="202.8" r="4.1"/><circle cx="217.0" cy="196.1" r="4.1"/><circle cx="622.4" cy="222.6" r="4.1"/><circle cx="154.2" cy="214.0" r="4.1"/><circle cx="665.9" cy="240.4" r="4.1"/><circle cx="639.3" cy="241.6" r="4.1"/><circle cx="536.4" cy="248.5" r="4.1"/><circle cx="593.3" cy="236.3" r="4.1"/><circle cx="401.5" cy="213.2" r="4.1"/><circle cx="593.8" cy="203.4" r="4.1"/><circle cx="501.4" cy="202.9" r="4.1"/><circle cx="613.5" cy="238.7" r="4.1"/><circle cx="698.2" cy="219.1" r="4.1"/><circle cx="217.0" cy="191.3" r="4.1"/><circle cx="548.9" cy="174.2" r="4.1"/><circle cx="403.2" cy="237.2" r="4.1"/><circle cx="634.4" cy="247.1" r="4.1"/><circle cx="740.0" cy="248.7" r="4.1"/><circle cx="598.3" cy="177.8" r="4.1"/><circle cx="790.0" cy="184.4" r="4.1"/><circle cx="343.6" cy="256.4" r="4.1"/><circle cx="548.9" cy="265.2" r="4.1"/><circle cx="556.1" cy="200.9" r="4.1"/><circle cx="498.5" cy="207.3" r="4.1"/><circle cx="522.3" cy="187.9" r="4.1"/><circle cx="451.7" cy="210.6" r="4.1"/><circle cx="655.6" cy="174.9" r="4.1"/><circle cx="484.5" cy="244.8" r="4.1"/><circle cx="582.6" cy="213.6" r="4.1"/><circle cx="173.7" cy="183.0" r="4.1"/><circle cx="257.5" cy="184.5" r="4.1"/><circle cx="726.9" cy="185.7" r="4.1"/><circle cx="818.0" cy="231.6" r="4.1"/><circle cx="532.1" cy="209.0" r="4.1"/><circle cx="624.1" cy="223.9" r="4.1"/><circle cx="254.4" cy="212.0" r="4.1"/><circle cx="113.5" cy="187.5" r="4.1"/><circle cx="428.7" cy="241.8" r="4.1"/><circle cx="487.4" cy="179.6" r="4.1"/><circle cx="241.1" cy="185.3" r="4.1"/><circle cx="555.2" cy="184.1" r="4.1"/><circle cx="696.0" cy="234.5" r="4.1"/><circle cx="465.7" cy="238.0" r="4.1"/><circle cx="558.1" cy="240.5" r="4.1"/><circle cx="655.1" cy="260.0" r="4.1"/><circle cx="332.8" cy="224.4" r="4.1"/><circle cx="714.0" cy="236.8" r="4.1"/><circle cx="493.3" cy="198.5" r="4.1"/><circle cx="412.8" cy="254.6" r="4.1"/><circle cx="933.5" cy="176.8" r="4.1"/><circle cx="729.9" cy="195.0" r="4.1"/><circle cx="579.0" cy="183.9" r="4.1"/><circle cx="675.6" cy="214.8" r="4.1"/><circle cx="359.0" cy="189.6" r="4.1"/><circle cx="678.0" cy="218.4" r="4.1"/><circle cx="621.0" cy="203.1" r="4.1"/><circle cx="647.2" cy="176.1" r="4.1"/><circle cx="232.8" cy="233.4" r="4.1"/><circle cx="313.0" cy="235.1" r="4.1"/><circle cx="743.2" cy="203.7" r="4.1"/><circle cx="435.0" cy="204.5" r="4.1"/><circle cx="599.6" cy="177.4" r="4.1"/><circle cx="409.8" cy="195.9" r="4.1"/><circle cx="933.5" cy="197.6" r="4.1"/><circle cx="692.8" cy="213.1" r="4.1"/><circle cx="675.9" cy="185.5" r="4.1"/><circle cx="569.2" cy="226.4" r="4.1"/><circle cx="493.1" cy="219.8" r="4.1"/><circle cx="659.2" cy="212.7" r="4.1"/><circle cx="571.6" cy="161.4" r="4.1"/><circle cx="510.6" cy="163.4" r="4.1"/><circle cx="270.7" cy="193.8" r="4.1"/><circle cx="659.2" cy="228.0" r="4.1"/><circle cx="448.5" cy="197.1" r="4.1"/><circle cx="609.0" cy="230.1" r="4.1"/><circle cx="513.1" cy="170.8" r="4.1"/><circle cx="338.9" cy="213.4" r="4.1"/><circle cx="364.0" cy="181.4" r="4.1"/><circle cx="396.0" cy="156.2" r="4.1"/><circle cx="760.7" cy="203.7" r="4.1"/><circle cx="328.6" cy="225.3" r="4.1"/><circle cx="676.0" cy="224.7" r="4.1"/><circle cx="518.3" cy="211.5" r="4.1"/><circle cx="933.5" cy="220.2" r="4.1"/><circle cx="657.5" cy="225.5" r="4.1"/><circle cx="727.7" cy="178.0" r="4.1"/><circle cx="565.6" cy="174.8" r="4.1"/><circle cx="422.4" cy="222.8" r="4.1"/><circle cx="402.6" cy="188.5" r="4.1"/><circle cx="450.7" cy="266.0" r="4.1"/><circle cx="423.6" cy="215.1" r="4.1"/><circle cx="511.5" cy="228.3" r="4.1"/><circle cx="753.6" cy="190.5" r="4.1"/><circle cx="480.5" cy="229.8" r="4.1"/><circle cx="730.6" cy="219.6" r="4.1"/><circle cx="521.2" cy="244.6" r="4.1"/><circle cx="486.8" cy="167.3" r="4.1"/><circle cx="538.8" cy="153.7" r="4.1"/><circle cx="574.3" cy="207.3" r="4.1"/><circle cx="429.2" cy="218.1" r="4.1"/><circle cx="466.3" cy="237.0" r="4.1"/><circle cx="113.5" cy="234.3" r="4.1"/><circle cx="423.4" cy="234.4" r="4.1"/><circle cx="223.1" cy="214.2" r="4.1"/><circle cx="480.8" cy="221.5" r="4.1"/><circle cx="760.8" cy="222.5" r="4.1"/><circle cx="615.9" cy="201.2" r="4.1"/><circle cx="607.6" cy="249.6" r="4.1"/><circle cx="746.9" cy="206.5" r="4.1"/><circle cx="430.7" cy="236.8" r="4.1"/><circle cx="339.2" cy="197.9" r="4.1"/><circle cx="199.9" cy="219.7" r="4.1"/><circle cx="899.7" cy="223.6" r="4.1"/><circle cx="507.2" cy="235.0" r="4.1"/><circle cx="583.3" cy="159.9" r="4.1"/><circle cx="933.5" cy="230.5" r="4.1"/><circle cx="434.0" cy="196.1" r="4.1"/><circle cx="604.6" cy="175.6" r="4.1"/><circle cx="515.0" cy="207.2" r="4.1"/><circle cx="167.3" cy="213.7" r="4.1"/><circle cx="725.9" cy="203.6" r="4.1"/><circle cx="398.6" cy="183.1" r="4.1"/><circle cx="454.7" cy="194.3" r="4.1"/><circle cx="589.5" cy="229.3" r="4.1"/><circle cx="563.8" cy="198.7" r="4.1"/><circle cx="766.4" cy="201.2" r="4.1"/><circle cx="413.1" cy="190.3" r="4.1"/><circle cx="577.5" cy="207.0" r="4.1"/><circle cx="600.0" cy="167.3" r="4.1"/><circle cx="550.3" cy="207.2" r="4.1"/><circle cx="679.1" cy="183.7" r="4.1"/><circle cx="495.2" cy="212.5" r="4.1"/><circle cx="782.6" cy="233.6" r="4.1"/><circle cx="405.5" cy="246.3" r="4.1"/><circle cx="261.9" cy="219.4" r="4.1"/><circle cx="537.3" cy="195.7" r="4.1"/><circle cx="777.9" cy="170.8" r="4.1"/><circle cx="443.8" cy="217.1" r="4.1"/><circle cx="421.7" cy="231.7" r="4.1"/><circle cx="477.2" cy="231.3" r="4.1"/><circle cx="577.8" cy="170.0" r="4.1"/><circle cx="510.8" cy="210.4" r="4.1"/><circle cx="606.6" cy="231.1" r="4.1"/><circle cx="206.8" cy="188.8" r="4.1"/><circle cx="660.1" cy="210.0" r="4.1"/><circle cx="375.8" cy="215.5" r="4.1"/><circle cx="815.6" cy="218.6" r="4.1"/><circle cx="634.0" cy="253.3" r="4.1"/><circle cx="313.7" cy="156.7" r="4.1"/><circle cx="554.4" cy="209.9" r="4.1"/><circle cx="140.1" cy="192.0" r="4.1"/><circle cx="485.9" cy="228.2" r="4.1"/><circle cx="345.8" cy="246.3" r="4.1"/><circle cx="503.0" cy="214.1" r="4.1"/><circle cx="660.4" cy="211.6" r="4.1"/><circle cx="502.8" cy="205.0" r="4.1"/><circle cx="492.1" cy="153.5" r="4.1"/><circle cx="415.1" cy="183.1" r="4.1"/><circle cx="358.0" cy="187.6" r="4.1"/><circle cx="533.3" cy="261.2" r="4.1"/><circle cx="755.1" cy="196.3" r="4.1"/><circle cx="430.8" cy="212.6" r="4.1"/><circle cx="340.8" cy="206.6" r="4.1"/><circle cx="727.1" cy="241.4" r="4.1"/><circle cx="557.1" cy="229.4" r="4.1"/><circle cx="540.3" cy="243.8" r="4.1"/><circle cx="933.5" cy="212.2" r="4.1"/><circle cx="306.2" cy="221.8" r="4.1"/><circle cx="584.6" cy="156.7" r="4.1"/><circle cx="195.5" cy="192.6" r="4.1"/><circle cx="661.1" cy="199.8" r="4.1"/><circle cx="294.9" cy="204.4" r="4.1"/><circle cx="709.9" cy="177.0" r="4.1"/><circle cx="699.6" cy="215.1" r="4.1"/><circle cx="520.9" cy="190.0" r="4.1"/><circle cx="545.4" cy="187.2" r="4.1"/><circle cx="371.7" cy="260.9" r="4.1"/><circle cx="629.1" cy="169.9" r="4.1"/><circle cx="739.9" cy="195.9" r="4.1"/><circle cx="466.5" cy="219.8" r="4.1"/><circle cx="666.2" cy="210.1" r="4.1"/><circle cx="650.8" cy="199.4" r="4.1"/><circle cx="926.3" cy="214.9" r="4.1"/><circle cx="423.9" cy="244.1" r="4.1"/><circle cx="290.9" cy="206.8" r="4.1"/><circle cx="487.0" cy="197.2" r="4.1"/><circle cx="511.0" cy="239.0" r="4.1"/><circle cx="626.0" cy="211.7" r="4.1"/><circle cx="458.0" cy="194.9" r="4.1"/><circle cx="359.0" cy="229.2" r="4.1"/><circle cx="505.7" cy="233.3" r="4.1"/><circle cx="590.9" cy="177.7" r="4.1"/><circle cx="732.6" cy="223.1" r="4.1"/><circle cx="288.1" cy="193.1" r="4.1"/><circle cx="363.4" cy="239.0" r="4.1"/><circle cx="933.5" cy="198.8" r="4.1"/><circle cx="513.9" cy="237.0" r="4.1"/><circle cx="339.7" cy="242.7" r="4.1"/><circle cx="494.9" cy="210.1" r="4.1"/><circle cx="432.1" cy="212.2" r="4.1"/><circle cx="541.1" cy="196.6" r="4.1"/><circle cx="542.3" cy="159.0" r="4.1"/><circle cx="651.0" cy="167.6" r="4.1"/><circle cx="700.5" cy="230.8" r="4.1"/><circle cx="457.8" cy="203.7" r="4.1"/><circle cx="784.7" cy="207.5" r="4.1"/><circle cx="604.9" cy="202.1" r="4.1"/><circle cx="267.3" cy="193.6" r="4.1"/><circle cx="650.7" cy="250.4" r="4.1"/><circle cx="345.8" cy="252.4" r="4.1"/><circle cx="596.2" cy="255.8" r="4.1"/><circle cx="933.5" cy="217.3" r="4.1"/><circle cx="531.4" cy="203.4" r="4.1"/><circle cx="604.2" cy="195.8" r="4.1"/><circle cx="700.8" cy="213.4" r="4.1"/><circle cx="468.5" cy="239.0" r="4.1"/><circle cx="602.3" cy="202.4" r="4.1"/><circle cx="637.5" cy="180.8" r="4.1"/><circle cx="396.7" cy="187.2" r="4.1"/><circle cx="707.4" cy="200.2" r="4.1"/><circle cx="762.3" cy="225.8" r="4.1"/><circle cx="558.9" cy="256.3" r="4.1"/><circle cx="500.4" cy="219.2" r="4.1"/><circle cx="474.9" cy="234.3" r="4.1"/><circle cx="572.4" cy="190.5" r="4.1"/><circle cx="777.2" cy="218.6" r="4.1"/><circle cx="362.2" cy="180.8" r="4.1"/><circle cx="389.2" cy="243.0" r="4.1"/><circle cx="588.7" cy="260.8" r="4.1"/><circle cx="603.9" cy="235.4" r="4.1"/><circle cx="639.8" cy="175.7" r="4.1"/><circle cx="619.1" cy="189.7" r="4.1"/><circle cx="521.0" cy="253.9" r="4.1"/><circle cx="340.6" cy="211.0" r="4.1"/><circle cx="423.7" cy="217.5" r="4.1"/><circle cx="622.3" cy="247.7" r="4.1"/><circle cx="463.5" cy="243.6" r="4.1"/><circle cx="453.5" cy="241.1" r="4.1"/><circle cx="588.8" cy="245.8" r="4.1"/><circle cx="482.7" cy="241.1" r="4.1"/><circle cx="376.5" cy="242.0" r="4.1"/><circle cx="247.4" cy="174.6" r="4.1"/><circle cx="439.7" cy="225.8" r="4.1"/><circle cx="384.1" cy="205.8" r="4.1"/><circle cx="711.5" cy="188.3" r="4.1"/><circle cx="319.9" cy="183.3" r="4.1"/><circle cx="464.2" cy="190.8" r="4.1"/><circle cx="673.5" cy="232.8" r="4.1"/><circle cx="523.1" cy="251.3" r="4.1"/><circle cx="642.2" cy="240.4" r="4.1"/><circle cx="708.8" cy="230.0" r="4.1"/><circle cx="220.0" cy="213.8" r="4.1"/><circle cx="464.4" cy="216.9" r="4.1"/><circle cx="357.0" cy="176.7" r="4.1"/><circle cx="809.3" cy="217.5" r="4.1"/><circle cx="642.4" cy="178.9" r="4.1"/><circle cx="475.5" cy="184.7" r="4.1"/><circle cx="625.0" cy="167.1" r="4.1"/><circle cx="492.9" cy="200.0" r="4.1"/><circle cx="790.5" cy="200.5" r="4.1"/><circle cx="554.5" cy="222.6" r="4.1"/><circle cx="478.1" cy="218.8" r="4.1"/><circle cx="475.7" cy="175.7" r="4.1"/><circle cx="473.8" cy="220.6" r="4.1"/><circle cx="615.8" cy="191.6" r="4.1"/><circle cx="703.7" cy="248.4" r="4.1"/><circle cx="543.0" cy="188.7" r="4.1"/><circle cx="448.3" cy="209.3" r="4.1"/><circle cx="552.1" cy="175.7" r="4.1"/><circle cx="588.8" cy="255.1" r="4.1"/><circle cx="608.7" cy="171.6" r="4.1"/><circle cx="615.8" cy="236.1" r="4.1"/><circle cx="560.0" cy="190.1" r="4.1"/><circle cx="499.1" cy="187.2" r="4.1"/><circle cx="345.4" cy="238.7" r="4.1"/><circle cx="429.2" cy="195.0" r="4.1"/><circle cx="682.1" cy="191.2" r="4.1"/><circle cx="417.1" cy="253.3" r="4.1"/><circle cx="636.3" cy="240.2" r="4.1"/><circle cx="645.7" cy="164.3" r="4.1"/><circle cx="740.6" cy="208.6" r="4.1"/><circle cx="592.2" cy="182.1" r="4.1"/><circle cx="630.6" cy="204.1" r="4.1"/><circle cx="718.3" cy="210.0" r="4.1"/><circle cx="318.6" cy="206.4" r="4.1"/><circle cx="553.6" cy="227.9" r="4.1"/><circle cx="202.1" cy="172.5" r="4.1"/><circle cx="384.9" cy="206.3" r="4.1"/><circle cx="642.7" cy="203.5" r="4.1"/><circle cx="737.0" cy="236.9" r="4.1"/><circle cx="485.3" cy="231.0" r="4.1"/><circle cx="517.6" cy="178.8" r="4.1"/><circle cx="499.1" cy="251.1" r="4.1"/><circle cx="493.7" cy="220.8" r="4.1"/><circle cx="570.5" cy="192.6" r="4.1"/><circle cx="612.2" cy="174.8" r="4.1"/><circle cx="454.8" cy="231.6" r="4.1"/><circle cx="392.0" cy="203.1" r="4.1"/><circle cx="443.5" cy="204.3" r="4.1"/><circle cx="699.1" cy="252.3" r="4.1"/><circle cx="497.4" cy="193.6" r="4.1"/><circle cx="808.3" cy="210.5" r="4.1"/><circle cx="313.5" cy="259.5" r="4.1"/><circle cx="410.0" cy="235.7" r="4.1"/><circle cx="636.3" cy="227.6" r="4.1"/><circle cx="638.4" cy="226.1" r="4.1"/><circle cx="513.7" cy="215.0" r="4.1"/><circle cx="557.8" cy="240.5" r="4.1"/><circle cx="599.7" cy="209.1" r="4.1"/><circle cx="434.0" cy="240.1" r="4.1"/><circle cx="709.0" cy="243.9" r="4.1"/><circle cx="623.4" cy="221.8" r="4.1"/><circle cx="228.3" cy="232.8" r="4.1"/><circle cx="613.8" cy="202.1" r="4.1"/><circle cx="453.9" cy="206.8" r="4.1"/><circle cx="619.4" cy="244.3" r="4.1"/><circle cx="399.5" cy="253.7" r="4.1"/><circle cx="585.5" cy="201.9" r="4.1"/><circle cx="575.0" cy="238.2" r="4.1"/><circle cx="480.3" cy="169.0" r="4.1"/><circle cx="339.8" cy="165.8" r="4.1"/><circle cx="414.9" cy="202.5" r="4.1"/><circle cx="733.5" cy="165.8" r="4.1"/><circle cx="563.6" cy="210.9" r="4.1"/><circle cx="309.8" cy="232.6" r="4.1"/><circle cx="542.5" cy="170.7" r="4.1"/><circle cx="113.5" cy="177.9" r="4.1"/><circle cx="775.6" cy="232.6" r="4.1"/><circle cx="768.5" cy="195.8" r="4.1"/><circle cx="405.4" cy="227.4" r="4.1"/><circle cx="582.9" cy="245.1" r="4.1"/><circle cx="469.6" cy="238.1" r="4.1"/><circle cx="379.0" cy="207.7" r="4.1"/><circle cx="444.6" cy="219.8" r="4.1"/><circle cx="497.0" cy="207.6" r="4.1"/><circle cx="437.0" cy="170.5" r="4.1"/><circle cx="583.6" cy="217.9" r="4.1"/><circle cx="397.0" cy="223.8" r="4.1"/><circle cx="547.7" cy="211.3" r="4.1"/><circle cx="820.3" cy="178.9" r="4.1"/><circle cx="209.2" cy="181.7" r="4.1"/><circle cx="409.2" cy="203.6" r="4.1"/><circle cx="689.4" cy="250.3" r="4.1"/><circle cx="113.5" cy="185.9" r="4.1"/><circle cx="897.2" cy="221.3" r="4.1"/><circle cx="622.9" cy="196.0" r="4.1"/><circle cx="645.3" cy="226.6" r="4.1"/><circle cx="360.5" cy="194.4" r="4.1"/><circle cx="500.2" cy="198.5" r="4.1"/><circle cx="664.1" cy="224.2" r="4.1"/><circle cx="113.5" cy="217.3" r="4.1"/><circle cx="794.1" cy="184.1" r="4.1"/><circle cx="656.9" cy="180.7" r="4.1"/><circle cx="933.5" cy="224.5" r="4.1"/><circle cx="469.9" cy="192.3" r="4.1"/><circle cx="452.4" cy="195.1" r="4.1"/><circle cx="544.4" cy="190.2" r="4.1"/><circle cx="494.1" cy="224.9" r="4.1"/><circle cx="447.9" cy="205.2" r="4.1"/><circle cx="128.2" cy="195.4" r="4.1"/><circle cx="127.3" cy="196.5" r="4.1"/><circle cx="300.4" cy="199.2" r="4.1"/><circle cx="389.0" cy="241.5" r="4.1"/><circle cx="113.5" cy="212.6" r="4.1"/><circle cx="113.5" cy="219.7" r="4.1"/><circle cx="391.2" cy="197.0" r="4.1"/><circle cx="720.4" cy="201.5" r="4.1"/><circle cx="421.1" cy="208.9" r="4.1"/><circle cx="700.1" cy="225.6" r="4.1"/><circle cx="794.5" cy="215.3" r="4.1"/><circle cx="729.0" cy="224.9" r="4.1"/><circle cx="347.1" cy="192.5" r="4.1"/><circle cx="352.5" cy="212.6" r="4.1"/><circle cx="113.5" cy="215.2" r="4.1"/><circle cx="263.0" cy="210.3" r="4.1"/><circle cx="632.7" cy="202.6" r="4.1"/><circle cx="133.3" cy="205.5" r="4.1"/><circle cx="917.0" cy="194.7" r="4.1"/><circle cx="933.5" cy="204.9" r="4.1"/><circle cx="364.0" cy="207.3" r="4.1"/><circle cx="778.5" cy="223.6" r="4.1"/><circle cx="113.5" cy="201.9" r="4.1"/><circle cx="362.9" cy="229.9" r="4.1"/><circle cx="485.3" cy="210.1" r="4.1"/><circle cx="422.8" cy="240.6" r="4.1"/><circle cx="205.7" cy="227.4" r="4.1"/><circle cx="933.5" cy="210.1" r="4.1"/><circle cx="575.9" cy="205.0" r="4.1"/><circle cx="574.4" cy="236.3" r="4.1"/><circle cx="701.1" cy="207.1" r="4.1"/><circle cx="538.8" cy="196.6" r="4.1"/><circle cx="408.3" cy="201.3" r="4.1"/><circle cx="303.8" cy="223.9" r="4.1"/><circle cx="113.5" cy="178.0" r="4.1"/><circle cx="933.5" cy="192.3" r="4.1"/><circle cx="186.9" cy="199.6" r="4.1"/><circle cx="113.5" cy="209.6" r="4.1"/><circle cx="113.5" cy="203.5" r="4.1"/><circle cx="933.5" cy="230.5" r="4.1"/><circle cx="599.7" cy="183.1" r="4.1"/><circle cx="933.5" cy="204.4" r="4.1"/><circle cx="933.5" cy="208.8" r="4.1"/><circle cx="665.0" cy="211.9" r="4.1"/><circle cx="666.3" cy="217.1" r="4.1"/><circle cx="250.6" cy="212.5" r="4.1"/><circle cx="455.5" cy="202.3" r="4.1"/><circle cx="288.6" cy="218.2" r="4.1"/><circle cx="496.2" cy="219.7" r="4.1"/><circle cx="727.8" cy="195.8" r="4.1"/><circle cx="448.4" cy="208.2" r="4.1"/><circle cx="113.5" cy="172.7" r="4.1"/><circle cx="702.2" cy="196.4" r="4.1"/><circle cx="766.2" cy="196.7" r="4.1"/><circle cx="460.6" cy="194.4" r="4.1"/><circle cx="113.5" cy="220.9" r="4.1"/><circle cx="621.3" cy="241.1" r="4.1"/><circle cx="819.5" cy="216.2" r="4.1"/><circle cx="113.5" cy="198.6" r="4.1"/><circle cx="664.2" cy="249.2" r="4.1"/><circle cx="113.5" cy="209.6" r="4.1"/><circle cx="507.8" cy="263.1" r="4.1"/><circle cx="933.5" cy="216.8" r="4.1"/><circle cx="511.9" cy="210.4" r="4.1"/><circle cx="636.5" cy="208.7" r="4.1"/><circle cx="379.4" cy="200.7" r="4.1"/><circle cx="480.3" cy="231.8" r="4.1"/><circle cx="933.5" cy="196.2" r="4.1"/><circle cx="381.8" cy="183.7" r="4.1"/><circle cx="360.4" cy="194.1" r="4.1"/><circle cx="488.3" cy="222.0" r="4.1"/><circle cx="933.5" cy="202.9" r="4.1"/><circle cx="549.5" cy="251.1" r="4.1"/><circle cx="839.1" cy="182.9" r="4.1"/><circle cx="365.8" cy="224.2" r="4.1"/><circle cx="458.0" cy="175.7" r="4.1"/><circle cx="231.3" cy="205.2" r="4.1"/><circle cx="267.5" cy="193.0" r="4.1"/><circle cx="288.1" cy="200.4" r="4.1"/><circle cx="113.5" cy="174.9" r="4.1"/><circle cx="604.9" cy="211.9" r="4.1"/><circle cx="794.8" cy="228.4" r="4.1"/><circle cx="372.3" cy="226.8" r="4.1"/><circle cx="593.6" cy="199.6" r="4.1"/><circle cx="536.0" cy="214.2" r="4.1"/><circle cx="743.4" cy="202.0" r="4.1"/><circle cx="597.3" cy="227.1" r="4.1"/><circle cx="274.7" cy="207.2" r="4.1"/><circle cx="113.5" cy="194.5" r="4.1"/><circle cx="226.6" cy="210.4" r="4.1"/><circle cx="279.7" cy="227.6" r="4.1"/><circle cx="310.1" cy="188.3" r="4.1"/><circle cx="113.5" cy="204.0" r="4.1"/><circle cx="568.8" cy="202.4" r="4.1"/><circle cx="113.5" cy="197.8" r="4.1"/><circle cx="133.3" cy="195.6" r="4.1"/><circle cx="113.5" cy="202.8" r="4.1"/><circle cx="558.8" cy="206.2" r="4.1"/><circle cx="823.5" cy="212.4" r="4.1"/><circle cx="680.4" cy="183.0" r="4.1"/><circle cx="394.2" cy="213.1" r="4.1"/><circle cx="581.9" cy="197.2" r="4.1"/><circle cx="711.9" cy="217.4" r="4.1"/><circle cx="481.5" cy="199.7" r="4.1"/><circle cx="363.2" cy="203.4" r="4.1"/><circle cx="113.5" cy="172.9" r="4.1"/><circle cx="586.9" cy="215.4" r="4.1"/><circle cx="460.1" cy="199.7" r="4.1"/><circle cx="360.0" cy="215.2" r="4.1"/><circle cx="458.2" cy="200.9" r="4.1"/><circle cx="423.3" cy="208.3" r="4.1"/><circle cx="151.3" cy="186.9" r="4.1"/><circle cx="314.1" cy="216.1" r="4.1"/><circle cx="846.9" cy="231.8" r="4.1"/><circle cx="408.2" cy="231.7" r="4.1"/><circle cx="114.6" cy="227.1" r="4.1"/><circle cx="113.5" cy="214.9" r="4.1"/><circle cx="523.1" cy="217.5" r="4.1"/><circle cx="729.8" cy="172.9" r="4.1"/><circle cx="273.3" cy="188.8" r="4.1"/><circle cx="681.7" cy="222.9" r="4.1"/><circle cx="779.9" cy="210.2" r="4.1"/><circle cx="824.5" cy="233.9" r="4.1"/><circle cx="447.1" cy="192.2" r="4.1"/><circle cx="466.1" cy="194.8" r="4.1"/><circle cx="113.5" cy="212.0" r="4.1"/><circle cx="489.8" cy="239.3" r="4.1"/><circle cx="571.9" cy="216.9" r="4.1"/><circle cx="932.5" cy="209.7" r="4.1"/><circle cx="213.0" cy="208.9" r="4.1"/><circle cx="163.7" cy="222.6" r="4.1"/><circle cx="768.5" cy="228.6" r="4.1"/><circle cx="113.5" cy="230.0" r="4.1"/><circle cx="138.0" cy="230.5" r="4.1"/><circle cx="933.5" cy="215.0" r="4.1"/><circle cx="691.4" cy="217.7" r="4.1"/><circle cx="113.5" cy="213.9" r="4.1"/><circle cx="463.4" cy="213.8" r="4.1"/><circle cx="751.7" cy="215.8" r="4.1"/><circle cx="657.6" cy="220.2" r="4.1"/><circle cx="412.1" cy="206.2" r="4.1"/><circle cx="747.1" cy="214.7" r="4.1"/><circle cx="480.5" cy="209.6" r="4.1"/><circle cx="739.9" cy="192.7" r="4.1"/><circle cx="608.8" cy="222.7" r="4.1"/><circle cx="933.5" cy="220.0" r="4.1"/><circle cx="324.0" cy="163.5" r="4.1"/><circle cx="619.4" cy="233.0" r="4.1"/><circle cx="281.5" cy="208.8" r="4.1"/><circle cx="409.3" cy="188.9" r="4.1"/><circle cx="403.2" cy="187.2" r="4.1"/><circle cx="272.5" cy="198.9" r="4.1"/><circle cx="558.0" cy="258.7" r="4.1"/><circle cx="933.5" cy="232.4" r="4.1"/><circle cx="933.5" cy="206.8" r="4.1"/><circle cx="427.8" cy="183.8" r="4.1"/><circle cx="615.5" cy="230.6" r="4.1"/><circle cx="933.5" cy="200.2" r="4.1"/><circle cx="113.5" cy="210.1" r="4.1"/><circle cx="292.6" cy="188.6" r="4.1"/><circle cx="849.7" cy="219.2" r="4.1"/><circle cx="334.7" cy="162.3" r="4.1"/><circle cx="772.0" cy="179.4" r="4.1"/><circle cx="393.2" cy="230.9" r="4.1"/><circle cx="113.5" cy="216.0" r="4.1"/><circle cx="175.6" cy="219.1" r="4.1"/><circle cx="406.1" cy="179.5" r="4.1"/><circle cx="490.2" cy="216.3" r="4.1"/><circle cx="113.5" cy="207.5" r="4.1"/><circle cx="250.8" cy="195.2" r="4.1"/><circle cx="415.5" cy="205.3" r="4.1"/><circle cx="552.5" cy="207.0" r="4.1"/><circle cx="222.4" cy="221.1" r="4.1"/><circle cx="113.5" cy="188.1" r="4.1"/><circle cx="578.4" cy="191.9" r="4.1"/><circle cx="377.4" cy="200.2" r="4.1"/><circle cx="763.9" cy="218.1" r="4.1"/><circle cx="316.0" cy="220.8" r="4.1"/><circle cx="686.9" cy="227.0" r="4.1"/><circle cx="200.5" cy="176.4" r="4.1"/><circle cx="567.5" cy="190.1" r="4.1"/><circle cx="511.1" cy="202.8" r="4.1"/><circle cx="625.0" cy="233.7" r="4.1"/><circle cx="186.8" cy="188.2" r="4.1"/><circle cx="444.0" cy="202.3" r="4.1"/><circle cx="213.9" cy="226.7" r="4.1"/><circle cx="431.7" cy="202.6" r="4.1"/><circle cx="679.5" cy="208.0" r="4.1"/><circle cx="933.5" cy="191.7" r="4.1"/><circle cx="493.7" cy="235.7" r="4.1"/><circle cx="708.9" cy="208.9" r="4.1"/><circle cx="518.4" cy="188.6" r="4.1"/><circle cx="841.7" cy="222.1" r="4.1"/><circle cx="629.0" cy="192.3" r="4.1"/><circle cx="813.4" cy="187.1" r="4.1"/><circle cx="595.3" cy="184.8" r="4.1"/><circle cx="933.5" cy="214.1" r="4.1"/><circle cx="918.7" cy="191.0" r="4.1"/><circle cx="577.8" cy="209.0" r="4.1"/><circle cx="507.8" cy="206.9" r="4.1"/><circle cx="113.5" cy="171.7" r="4.1"/><circle cx="337.6" cy="205.7" r="4.1"/><circle cx="251.0" cy="217.8" r="4.1"/><circle cx="524.3" cy="181.4" r="4.1"/><circle cx="113.5" cy="210.7" r="4.1"/><circle cx="719.4" cy="204.8" r="4.1"/><circle cx="728.3" cy="206.6" r="4.1"/><circle cx="595.0" cy="208.4" r="4.1"/><circle cx="379.4" cy="219.2" r="4.1"/><circle cx="485.2" cy="188.4" r="4.1"/><circle cx="336.7" cy="207.7" r="4.1"/><circle cx="845.6" cy="224.3" r="4.1"/><circle cx="643.5" cy="217.0" r="4.1"/><circle cx="367.8" cy="185.4" r="4.1"/><circle cx="933.5" cy="233.3" r="4.1"/><circle cx="301.9" cy="213.3" r="4.1"/><circle cx="430.2" cy="208.2" r="4.1"/><circle cx="154.4" cy="194.8" r="4.1"/><circle cx="649.5" cy="179.6" r="4.1"/><circle cx="465.4" cy="218.2" r="4.1"/><circle cx="680.3" cy="170.7" r="4.1"/><circle cx="933.5" cy="230.7" r="4.1"/><circle cx="466.6" cy="211.3" r="4.1"/><circle cx="604.3" cy="211.1" r="4.1"/><circle cx="768.2" cy="191.6" r="4.1"/><circle cx="465.7" cy="197.8" r="4.1"/><circle cx="311.6" cy="172.4" r="4.1"/><circle cx="597.2" cy="218.5" r="4.1"/><circle cx="643.3" cy="184.4" r="4.1"/><circle cx="730.6" cy="238.4" r="4.1"/><circle cx="747.1" cy="210.1" r="4.1"/><circle cx="273.6" cy="219.2" r="4.1"/><circle cx="624.9" cy="172.0" r="4.1"/><circle cx="872.9" cy="216.0" r="4.1"/><circle cx="338.2" cy="235.7" r="4.1"/><circle cx="599.1" cy="216.9" r="4.1"/><circle cx="289.3" cy="194.6" r="4.1"/><circle cx="537.3" cy="213.7" r="4.1"/><circle cx="933.5" cy="214.1" r="4.1"/><circle cx="539.3" cy="211.2" r="4.1"/><circle cx="180.1" cy="212.9" r="4.1"/><circle cx="593.6" cy="182.5" r="4.1"/><circle cx="552.7" cy="203.6" r="4.1"/><circle cx="113.5" cy="227.0" r="4.1"/><circle cx="195.9" cy="180.4" r="4.1"/><circle cx="460.2" cy="235.9" r="4.1"/><circle cx="843.0" cy="208.4" r="4.1"/><circle cx="113.5" cy="213.6" r="4.1"/><circle cx="223.0" cy="195.5" r="4.1"/><circle cx="113.5" cy="211.4" r="4.1"/><circle cx="278.1" cy="228.2" r="4.1"/><circle cx="737.3" cy="219.3" r="4.1"/><circle cx="674.7" cy="198.1" r="4.1"/><circle cx="776.8" cy="213.9" r="4.1"/><circle cx="675.0" cy="185.2" r="4.1"/><circle cx="113.5" cy="218.1" r="4.1"/><circle cx="579.9" cy="239.9" r="4.1"/><circle cx="113.5" cy="180.2" r="4.1"/><circle cx="326.3" cy="181.6" r="4.1"/><circle cx="361.2" cy="209.3" r="4.1"/><circle cx="313.5" cy="215.3" r="4.1"/><circle cx="639.8" cy="187.7" r="4.1"/><circle cx="229.9" cy="226.6" r="4.1"/><circle cx="673.4" cy="211.5" r="4.1"/><circle cx="857.1" cy="201.2" r="4.1"/><circle cx="724.0" cy="205.3" r="4.1"/><circle cx="766.4" cy="210.8" r="4.1"/><circle cx="471.6" cy="187.5" r="4.1"/><circle cx="933.5" cy="218.6" r="4.1"/><circle cx="153.3" cy="221.1" r="4.1"/><circle cx="630.4" cy="226.0" r="4.1"/><circle cx="486.3" cy="176.2" r="4.1"/><circle cx="414.6" cy="193.5" r="4.1"/><circle cx="585.3" cy="204.3" r="4.1"/><circle cx="248.9" cy="195.1" r="4.1"/><circle cx="758.9" cy="211.5" r="4.1"/><circle cx="732.5" cy="227.6" r="4.1"/><circle cx="515.9" cy="224.6" r="4.1"/><circle cx="717.5" cy="218.0" r="4.1"/><circle cx="157.9" cy="192.5" r="4.1"/><circle cx="113.5" cy="193.1" r="4.1"/><circle cx="302.4" cy="220.2" r="4.1"/><circle cx="410.6" cy="223.7" r="4.1"/><circle cx="933.5" cy="224.4" r="4.1"/><circle cx="413.3" cy="200.5" r="4.1"/><circle cx="810.3" cy="192.5" r="4.1"/><circle cx="751.6" cy="188.5" r="4.1"/><circle cx="933.5" cy="196.5" r="4.1"/><circle cx="521.9" cy="181.8" r="4.1"/><circle cx="691.2" cy="199.0" r="4.1"/><circle cx="424.3" cy="200.6" r="4.1"/><circle cx="212.9" cy="202.4" r="4.1"/><circle cx="168.8" cy="196.0" r="4.1"/><circle cx="238.4" cy="207.9" r="4.1"/><circle cx="933.5" cy="228.8" r="4.1"/><circle cx="575.2" cy="184.4" r="4.1"/><circle cx="436.8" cy="204.1" r="4.1"/><circle cx="490.9" cy="199.7" r="4.1"/><circle cx="307.7" cy="212.3" r="4.1"/><circle cx="474.8" cy="220.3" r="4.1"/><circle cx="472.7" cy="198.4" r="4.1"/><circle cx="690.6" cy="204.1" r="4.1"/><circle cx="772.3" cy="173.0" r="4.1"/><circle cx="113.5" cy="192.5" r="4.1"/><circle cx="558.5" cy="184.4" r="4.1"/><circle cx="164.0" cy="191.0" r="4.1"/><circle cx="406.7" cy="198.5" r="4.1"/><circle cx="538.6" cy="220.4" r="4.1"/><circle cx="673.3" cy="225.6" r="4.1"/><circle cx="416.6" cy="195.7" r="4.1"/><circle cx="643.1" cy="233.4" r="4.1"/><circle cx="608.5" cy="208.1" r="4.1"/><circle cx="933.5" cy="208.0" r="4.1"/><circle cx="618.8" cy="232.9" r="4.1"/><circle cx="155.2" cy="212.2" r="4.1"/><circle cx="239.0" cy="197.1" r="4.1"/><circle cx="443.5" cy="210.7" r="4.1"/><circle cx="420.6" cy="257.5" r="4.1"/><circle cx="681.4" cy="205.2" r="4.1"/><circle cx="597.3" cy="163.4" r="4.1"/><circle cx="933.5" cy="210.8" r="4.1"/><circle cx="741.4" cy="187.8" r="4.1"/><circle cx="933.5" cy="217.1" r="4.1"/><circle cx="246.0" cy="222.1" r="4.1"/><circle cx="351.7" cy="181.6" r="4.1"/><circle cx="701.8" cy="219.3" r="4.1"/><circle cx="515.4" cy="192.2" r="4.1"/><circle cx="683.9" cy="194.1" r="4.1"/><circle cx="565.4" cy="192.9" r="4.1"/><circle cx="291.4" cy="196.9" r="4.1"/><circle cx="933.5" cy="217.4" r="4.1"/><circle cx="113.5" cy="225.9" r="4.1"/><circle cx="292.9" cy="194.8" r="4.1"/><circle cx="494.2" cy="215.9" r="4.1"/><circle cx="700.9" cy="196.8" r="4.1"/><circle cx="464.5" cy="229.7" r="4.1"/><circle cx="113.5" cy="229.9" r="4.1"/><circle cx="748.7" cy="196.0" r="4.1"/><circle cx="422.2" cy="188.6" r="4.1"/><circle cx="865.8" cy="208.5" r="4.1"/><circle cx="582.8" cy="242.8" r="4.1"/><circle cx="750.5" cy="193.8" r="4.1"/><circle cx="765.6" cy="201.3" r="4.1"/><circle cx="328.1" cy="225.5" r="4.1"/><circle cx="552.3" cy="162.9" r="4.1"/><circle cx="113.5" cy="187.1" r="4.1"/><circle cx="364.4" cy="222.1" r="4.1"/><circle cx="382.5" cy="225.9" r="4.1"/><circle cx="635.9" cy="206.6" r="4.1"/><circle cx="703.9" cy="226.1" r="4.1"/><circle cx="138.5" cy="218.5" r="4.1"/><circle cx="716.6" cy="205.7" r="4.1"/><circle cx="468.6" cy="186.2" r="4.1"/><circle cx="157.3" cy="228.3" r="4.1"/><circle cx="750.9" cy="191.9" r="4.1"/><circle cx="250.2" cy="219.7" r="4.1"/><circle cx="114.7" cy="204.9" r="4.1"/><circle cx="727.0" cy="200.9" r="4.1"/><circle cx="772.0" cy="215.2" r="4.1"/><circle cx="282.5" cy="204.5" r="4.1"/><circle cx="821.5" cy="217.7" r="4.1"/><circle cx="804.5" cy="227.4" r="4.1"/><circle cx="327.1" cy="222.7" r="4.1"/><circle cx="471.7" cy="193.3" r="4.1"/><circle cx="560.9" cy="222.3" r="4.1"/><circle cx="113.5" cy="200.5" r="4.1"/><circle cx="689.9" cy="190.5" r="4.1"/><circle cx="296.1" cy="183.2" r="4.1"/><circle cx="628.8" cy="217.9" r="4.1"/><circle cx="113.5" cy="229.2" r="4.1"/><circle cx="853.5" cy="213.6" r="4.1"/><circle cx="933.5" cy="199.9" r="4.1"/><circle cx="933.5" cy="208.8" r="4.1"/><circle cx="113.5" cy="205.6" r="4.1"/><circle cx="675.5" cy="176.9" r="4.1"/><circle cx="599.5" cy="234.3" r="4.1"/><circle cx="113.5" cy="182.0" r="4.1"/><circle cx="262.0" cy="207.6" r="4.1"/><circle cx="465.3" cy="194.8" r="4.1"/><circle cx="933.5" cy="218.7" r="4.1"/><circle cx="230.9" cy="188.5" r="4.1"/><circle cx="557.2" cy="236.9" r="4.1"/><circle cx="474.8" cy="212.4" r="4.1"/><circle cx="607.7" cy="189.2" r="4.1"/><circle cx="368.3" cy="211.8" r="4.1"/><circle cx="798.6" cy="206.9" r="4.1"/><circle cx="113.5" cy="203.9" r="4.1"/><circle cx="845.6" cy="177.7" r="4.1"/><circle cx="259.5" cy="214.7" r="4.1"/><circle cx="408.1" cy="197.0" r="4.1"/><circle cx="847.3" cy="217.8" r="4.1"/><circle cx="525.5" cy="189.3" r="4.1"/><circle cx="675.3" cy="223.7" r="4.1"/><circle cx="683.2" cy="194.5" r="4.1"/><circle cx="326.7" cy="230.9" r="4.1"/><circle cx="197.1" cy="218.3" r="4.1"/><circle cx="709.7" cy="214.0" r="4.1"/><circle cx="734.0" cy="176.0" r="4.1"/><circle cx="608.4" cy="193.7" r="4.1"/><circle cx="437.3" cy="173.0" r="4.1"/><circle cx="765.5" cy="216.8" r="4.1"/><circle cx="488.5" cy="207.1" r="4.1"/><circle cx="113.5" cy="212.4" r="4.1"/><circle cx="655.5" cy="217.4" r="4.1"/><circle cx="740.3" cy="193.3" r="4.1"/><circle cx="217.9" cy="206.4" r="4.1"/><circle cx="262.5" cy="192.1" r="4.1"/><circle cx="602.3" cy="178.3" r="4.1"/><circle cx="358.3" cy="239.4" r="4.1"/><circle cx="477.7" cy="208.0" r="4.1"/><circle cx="793.1" cy="230.6" r="4.1"/><circle cx="622.7" cy="206.0" r="4.1"/><circle cx="933.5" cy="223.8" r="4.1"/><circle cx="591.0" cy="226.4" r="4.1"/><circle cx="933.5" cy="203.7" r="4.1"/><circle cx="933.5" cy="183.9" r="4.1"/><circle cx="507.1" cy="184.7" r="4.1"/><circle cx="475.7" cy="196.2" r="4.1"/><circle cx="912.0" cy="202.4" r="4.1"/><circle cx="342.1" cy="225.3" r="4.1"/><circle cx="358.7" cy="198.0" r="4.1"/><circle cx="581.7" cy="189.9" r="4.1"/><circle cx="622.7" cy="221.4" r="4.1"/><circle cx="113.5" cy="184.1" r="4.1"/><circle cx="585.5" cy="217.1" r="4.1"/><circle cx="409.1" cy="190.1" r="4.1"/><circle cx="498.2" cy="208.2" r="4.1"/><circle cx="562.0" cy="193.9" r="4.1"/><circle cx="447.6" cy="208.2" r="4.1"/><circle cx="660.5" cy="219.8" r="4.1"/><circle cx="450.1" cy="189.9" r="4.1"/><circle cx="532.9" cy="190.1" r="4.1"/><circle cx="834.5" cy="234.5" r="4.1"/><circle cx="755.5" cy="183.1" r="4.1"/><circle cx="467.6" cy="219.6" r="4.1"/><circle cx="554.1" cy="225.8" r="4.1"/><circle cx="933.5" cy="201.0" r="4.1"/><circle cx="500.0" cy="189.5" r="4.1"/><circle cx="776.2" cy="210.1" r="4.1"/><circle cx="378.7" cy="191.3" r="4.1"/><circle cx="113.5" cy="202.8" r="4.1"/><circle cx="711.6" cy="200.8" r="4.1"/><circle cx="293.2" cy="213.5" r="4.1"/><circle cx="292.2" cy="206.5" r="4.1"/><circle cx="113.5" cy="201.1" r="4.1"/><circle cx="546.1" cy="222.2" r="4.1"/><circle cx="522.1" cy="209.6" r="4.1"/><circle cx="637.6" cy="177.8" r="4.1"/><circle cx="590.4" cy="206.4" r="4.1"/><circle cx="544.3" cy="245.2" r="4.1"/><circle cx="676.0" cy="187.7" r="4.1"/><circle cx="428.8" cy="190.4" r="4.1"/><circle cx="113.5" cy="198.6" r="4.1"/><circle cx="745.5" cy="209.6" r="4.1"/><circle cx="647.8" cy="187.8" r="4.1"/><circle cx="522.4" cy="221.7" r="4.1"/><circle cx="933.5" cy="193.0" r="4.1"/><circle cx="113.5" cy="219.4" r="4.1"/><circle cx="933.5" cy="216.5" r="4.1"/><circle cx="644.7" cy="207.4" r="4.1"/><circle cx="113.5" cy="185.7" r="4.1"/><circle cx="388.1" cy="231.3" r="4.1"/><circle cx="708.7" cy="194.7" r="4.1"/><circle cx="136.6" cy="212.5" r="4.1"/><circle cx="688.6" cy="209.1" r="4.1"/><circle cx="933.5" cy="219.0" r="4.1"/><circle cx="933.5" cy="232.5" r="4.1"/><circle cx="505.7" cy="206.0" r="4.1"/><circle cx="616.2" cy="199.6" r="4.1"/><circle cx="219.4" cy="231.6" r="4.1"/><circle cx="556.6" cy="201.1" r="4.1"/><circle cx="411.7" cy="202.3" r="4.1"/><circle cx="113.5" cy="195.6" r="4.1"/><circle cx="933.5" cy="182.9" r="4.1"/><circle cx="542.3" cy="240.2" r="4.1"/><circle cx="196.3" cy="195.2" r="4.1"/><circle cx="383.8" cy="198.8" r="4.1"/><circle cx="933.5" cy="202.9" r="4.1"/><circle cx="933.5" cy="208.0" r="4.1"/><circle cx="323.4" cy="233.0" r="4.1"/><circle cx="576.3" cy="186.5" r="4.1"/><circle cx="407.1" cy="203.7" r="4.1"/><circle cx="148.3" cy="206.4" r="4.1"/><circle cx="518.5" cy="200.7" r="4.1"/><circle cx="274.1" cy="202.1" r="4.1"/><circle cx="113.5" cy="228.1" r="4.1"/><circle cx="441.4" cy="205.7" r="4.1"/><circle cx="805.7" cy="194.2" r="4.1"/><circle cx="728.0" cy="231.1" r="4.1"/><circle cx="443.5" cy="219.8" r="4.1"/><circle cx="933.5" cy="205.9" r="4.1"/><circle cx="269.6" cy="196.5" r="4.1"/><circle cx="491.2" cy="211.6" r="4.1"/><circle cx="113.5" cy="212.5" r="4.1"/><circle cx="475.5" cy="223.4" r="4.1"/><circle cx="113.5" cy="233.5" r="4.1"/><circle cx="256.0" cy="220.4" r="4.1"/><circle cx="933.5" cy="209.6" r="4.1"/><circle cx="739.6" cy="209.2" r="4.1"/><circle cx="548.7" cy="184.4" r="4.1"/><circle cx="255.8" cy="226.0" r="4.1"/><circle cx="394.2" cy="209.0" r="4.1"/><circle cx="678.6" cy="202.6" r="4.1"/><circle cx="827.5" cy="200.3" r="4.1"/><circle cx="818.7" cy="196.3" r="4.1"/><circle cx="933.5" cy="185.7" r="4.1"/><circle cx="359.1" cy="195.8" r="4.1"/><circle cx="507.1" cy="206.6" r="4.1"/><circle cx="671.6" cy="220.8" r="4.1"/><circle cx="254.4" cy="206.1" r="4.1"/><circle cx="423.1" cy="216.0" r="4.1"/><circle cx="640.1" cy="222.1" r="4.1"/><circle cx="237.1" cy="198.6" r="4.1"/><circle cx="659.2" cy="190.4" r="4.1"/><circle cx="164.2" cy="220.7" r="4.1"/><circle cx="113.5" cy="196.4" r="4.1"/><circle cx="537.9" cy="222.1" r="4.1"/><circle cx="187.0" cy="217.3" r="4.1"/><circle cx="565.7" cy="184.0" r="4.1"/><circle cx="371.3" cy="214.8" r="4.1"/><circle cx="606.3" cy="244.0" r="4.1"/><circle cx="766.2" cy="218.7" r="4.1"/><circle cx="399.3" cy="189.7" r="4.1"/><circle cx="113.5" cy="179.4" r="4.1"/><circle cx="113.5" cy="198.7" r="4.1"/><circle cx="261.5" cy="192.6" r="4.1"/><circle cx="113.5" cy="192.2" r="4.1"/><circle cx="113.5" cy="215.3" r="4.1"/><circle cx="113.5" cy="217.2" r="4.1"/><circle cx="113.5" cy="197.0" r="4.1"/><circle cx="113.5" cy="204.6" r="4.1"/><circle cx="113.5" cy="182.0" r="4.1"/><circle cx="113.5" cy="227.0" r="4.1"/><circle cx="113.5" cy="191.8" r="4.1"/><circle cx="113.5" cy="202.7" r="4.1"/><circle cx="113.5" cy="212.1" r="4.1"/><circle cx="113.5" cy="198.4" r="4.1"/><circle cx="113.5" cy="204.6" r="4.1"/><circle cx="113.5" cy="193.2" r="4.1"/><circle cx="113.5" cy="213.1" r="4.1"/><circle cx="113.5" cy="218.3" r="4.1"/><circle cx="113.5" cy="202.8" r="4.1"/><circle cx="113.5" cy="201.0" r="4.1"/><circle cx="113.5" cy="195.6" r="4.1"/><circle cx="113.5" cy="227.1" r="4.1"/><circle cx="113.5" cy="189.0" r="4.1"/><circle cx="113.5" cy="231.9" r="4.1"/><circle cx="113.5" cy="233.6" r="4.1"/><circle cx="113.5" cy="186.6" r="4.1"/><circle cx="415.3" cy="252.8" r="4.1"/><circle cx="397.8" cy="264.6" r="4.1"/><circle cx="635.4" cy="245.2" r="4.1"/><circle cx="643.4" cy="265.1" r="4.1"/><circle cx="450.9" cy="262.6" r="4.1"/><circle cx="497.5" cy="265.6" r="4.1"/><circle cx="728.6" cy="252.6" r="4.1"/><circle cx="412.4" cy="248.1" r="4.1"/><circle cx="418.6" cy="247.2" r="4.1"/><circle cx="547.9" cy="261.1" r="4.1"/><circle cx="412.6" cy="251.6" r="4.1"/><circle cx="592.7" cy="250.9" r="4.1"/><circle cx="558.6" cy="264.2" r="4.1"/><circle cx="467.8" cy="253.5" r="4.1"/><circle cx="419.0" cy="252.6" r="4.1"/><circle cx="562.7" cy="256.3" r="4.1"/><circle cx="509.5" cy="253.9" r="4.1"/><circle cx="481.7" cy="264.4" r="4.1"/><circle cx="636.2" cy="256.7" r="4.1"/><circle cx="573.1" cy="250.9" r="4.1"/><circle cx="583.4" cy="245.1" r="4.1"/><circle cx="699.9" cy="265.8" r="4.1"/><circle cx="527.9" cy="252.4" r="4.1"/><circle cx="639.6" cy="265.7" r="4.1"/><circle cx="485.7" cy="264.5" r="4.1"/><circle cx="611.3" cy="254.4" r="4.1"/><circle cx="601.5" cy="250.0" r="4.1"/><circle cx="469.8" cy="260.9" r="4.1"/><circle cx="351.1" cy="247.1" r="4.1"/><circle cx="379.9" cy="246.4" r="4.1"/><circle cx="421.3" cy="245.6" r="4.1"/><circle cx="604.9" cy="257.5" r="4.1"/><circle cx="520.4" cy="262.2" r="4.1"/><circle cx="500.4" cy="259.2" r="4.1"/><circle cx="595.3" cy="265.4" r="4.1"/><circle cx="626.2" cy="246.8" r="4.1"/><circle cx="707.7" cy="261.1" r="4.1"/><circle cx="463.9" cy="260.5" r="4.1"/><circle cx="604.2" cy="260.9" r="4.1"/><circle cx="623.5" cy="256.3" r="4.1"/><circle cx="420.4" cy="248.0" r="4.1"/><circle cx="552.1" cy="252.6" r="4.1"/><circle cx="424.7" cy="250.3" r="4.1"/><circle cx="588.4" cy="262.1" r="4.1"/><circle cx="328.7" cy="265.1" r="4.1"/><circle cx="430.0" cy="257.7" r="4.1"/><circle cx="438.1" cy="246.3" r="4.1"/><circle cx="548.2" cy="261.4" r="4.1"/><circle cx="446.7" cy="253.0" r="4.1"/><circle cx="582.6" cy="259.3" r="4.1"/><circle cx="431.9" cy="254.6" r="4.1"/><circle cx="473.7" cy="257.5" r="4.1"/><circle cx="610.9" cy="248.5" r="4.1"/><circle cx="575.8" cy="264.8" r="4.1"/><circle cx="555.4" cy="251.9" r="4.1"/><circle cx="532.2" cy="263.9" r="4.1"/><circle cx="659.6" cy="265.0" r="4.1"/><circle cx="705.0" cy="257.6" r="4.1"/><circle cx="491.5" cy="248.5" r="4.1"/><circle cx="448.1" cy="253.8" r="4.1"/><circle cx="409.6" cy="256.2" r="4.1"/><circle cx="427.3" cy="246.7" r="4.1"/><circle cx="375.1" cy="265.9" r="4.1"/><circle cx="569.6" cy="258.3" r="4.1"/><circle cx="665.4" cy="256.3" r="4.1"/><circle cx="385.8" cy="247.2" r="4.1"/><circle cx="521.7" cy="256.5" r="4.1"/><circle cx="361.4" cy="262.8" r="4.1"/><circle cx="451.8" cy="249.0" r="4.1"/><circle cx="735.9" cy="265.1" r="4.1"/><circle cx="557.4" cy="249.5" r="4.1"/><circle cx="505.1" cy="247.9" r="4.1"/><circle cx="545.6" cy="261.9" r="4.1"/><circle cx="571.5" cy="249.1" r="4.1"/><circle cx="524.3" cy="264.5" r="4.1"/><circle cx="391.7" cy="250.8" r="4.1"/><circle cx="392.5" cy="246.9" r="4.1"/><circle cx="443.5" cy="245.4" r="4.1"/><circle cx="683.3" cy="247.4" r="4.1"/><circle cx="449.1" cy="257.9" r="4.1"/><circle cx="696.0" cy="261.3" r="4.1"/><circle cx="622.1" cy="256.1" r="4.1"/><circle cx="511.2" cy="263.3" r="4.1"/><circle cx="422.7" cy="262.6" r="4.1"/><circle cx="508.3" cy="254.9" r="4.1"/><circle cx="432.1" cy="263.9" r="4.1"/><circle cx="442.0" cy="248.1" r="4.1"/><circle cx="492.6" cy="256.8" r="4.1"/><circle cx="420.0" cy="247.1" r="4.1"/><circle cx="497.2" cy="248.7" r="4.1"/><circle cx="730.1" cy="252.8" r="4.1"/><circle cx="324.4" cy="257.2" r="4.1"/><circle cx="383.5" cy="257.4" r="4.1"/><circle cx="420.5" cy="250.3" r="4.1"/><circle cx="480.0" cy="251.7" r="4.1"/><circle cx="625.0" cy="245.6" r="4.1"/><circle cx="595.4" cy="253.8" r="4.1"/><circle cx="561.9" cy="263.6" r="4.1"/><circle cx="399.2" cy="257.7" r="4.1"/><circle cx="396.2" cy="248.4" r="4.1"/><circle cx="533.9" cy="250.6" r="4.1"/><circle cx="508.0" cy="257.5" r="4.1"/><circle cx="434.2" cy="251.4" r="4.1"/><circle cx="377.1" cy="265.5" r="4.1"/><circle cx="503.2" cy="263.0" r="4.1"/><circle cx="450.5" cy="261.6" r="4.1"/><circle cx="478.2" cy="250.1" r="4.1"/><circle cx="404.8" cy="253.9" r="4.1"/><circle cx="700.7" cy="263.6" r="4.1"/><circle cx="592.1" cy="251.2" r="4.1"/><circle cx="474.0" cy="254.2" r="4.1"/><circle cx="544.2" cy="256.1" r="4.1"/><circle cx="506.6" cy="261.8" r="4.1"/><circle cx="539.6" cy="247.2" r="4.1"/><circle cx="505.7" cy="258.7" r="4.1"/><circle cx="516.9" cy="258.2" r="4.1"/><circle cx="503.7" cy="248.7" r="4.1"/><circle cx="621.5" cy="245.6" r="4.1"/><circle cx="494.5" cy="259.1" r="4.1"/><circle cx="607.0" cy="246.6" r="4.1"/><circle cx="691.7" cy="256.4" r="4.1"/><circle cx="526.7" cy="248.8" r="4.1"/><circle cx="592.8" cy="263.1" r="4.1"/><circle cx="695.5" cy="245.1" r="4.1"/><circle cx="481.9" cy="259.7" r="4.1"/><circle cx="463.2" cy="252.8" r="4.1"/><circle cx="661.5" cy="265.0" r="4.1"/><circle cx="564.2" cy="253.5" r="4.1"/><circle cx="470.8" cy="262.4" r="4.1"/><circle cx="508.8" cy="255.5" r="4.1"/><circle cx="575.7" cy="255.8" r="4.1"/><circle cx="512.6" cy="253.6" r="4.1"/><circle cx="506.0" cy="260.4" r="4.1"/><circle cx="508.2" cy="245.7" r="4.1"/><circle cx="354.8" cy="262.9" r="4.1"/><circle cx="686.1" cy="261.1" r="4.1"/><circle cx="204.4" cy="55.5" r="4.1"/><circle cx="343.4" cy="74.4" r="4.1"/><circle cx="270.3" cy="115.2" r="4.1"/><circle cx="331.2" cy="120.7" r="4.1"/><circle cx="359.3" cy="120.7" r="4.1"/><circle cx="345.6" cy="128.6" r="4.1"/><circle cx="457.5" cy="62.5" r="4.1"/><circle cx="448.3" cy="95.4" r="4.1"/><circle cx="424.5" cy="104.6" r="4.1"/><circle cx="376.4" cy="117.7" r="4.1"/><circle cx="411.4" cy="118.6" r="4.1"/><circle cx="436.1" cy="118.6" r="4.1"/><circle cx="524.5" cy="95.4" r="4.1"/><circle cx="512.3" cy="110.7" r="4.1"/><circle cx="504.4" cy="112.8" r="4.1"/><circle cx="497.7" cy="120.4" r="4.1"/><circle cx="491.6" cy="126.5" r="4.1"/><circle cx="533.7" cy="126.2" r="4.1"/><circle cx="547.4" cy="125.3" r="4.1"/><circle cx="553.5" cy="115.2" r="4.1"/><circle cx="572.4" cy="107.3" r="4.1"/><circle cx="625.8" cy="82.6" r="4.1"/><circle cx="659.6" cy="91.4" r="4.1"/><circle cx="596.8" cy="128.9" r="4.1"/><circle cx="678.5" cy="104.6" r="4.1"/><circle cx="738.6" cy="105.5" r="4.1"/><circle cx="731.6" cy="111.6" r="4.1"/><circle cx="766.6" cy="103.3" r="4.1"/><circle cx="785.5" cy="115.2" r="4.1"/><circle cx="796.5" cy="116.4" r="4.1"/><circle cx="795.0" cy="118.9" r="4.1"/><circle cx="706.6" cy="123.2" r="4.1"/><circle cx="700.5" cy="128.6" r="4.1"/><circle cx="769.1" cy="130.2" r="4.1"/><circle cx="852.6" cy="111.6" r="4.1"/><circle cx="859.6" cy="111.6" r="4.1"/><circle cx="847.4" cy="121.3" r="4.1"/><circle cx="886.4" cy="121.3" r="4.1"/><circle cx="146.5" cy="312.7" r="4.1"/><circle cx="283.4" cy="323.7" r="4.1"/><circle cx="339.5" cy="351.5" r="4.1"/><circle cx="367.2" cy="339.6" r="4.1"/><circle cx="387.3" cy="286.2" r="4.1"/><circle cx="405.6" cy="293.8" r="4.1"/><circle cx="405.6" cy="294.4" r="4.1"/><circle cx="429.4" cy="287.1" r="4.1"/><circle cx="439.8" cy="285.3" r="4.1"/><circle cx="452.0" cy="284.4" r="4.1"/><circle cx="458.7" cy="291.1" r="4.1"/><circle cx="465.4" cy="295.4" r="4.1"/><circle cx="433.7" cy="295.7" r="4.1"/><circle cx="427.3" cy="301.2" r="4.1"/><circle cx="412.6" cy="309.4" r="4.1"/><circle cx="410.5" cy="316.4" r="4.1"/><circle cx="408.4" cy="324.3" r="4.1"/><circle cx="429.7" cy="316.4" r="4.1"/><circle cx="378.5" cy="306.3" r="4.1"/><circle cx="387.3" cy="346.6" r="4.1"/><circle cx="483.7" cy="287.7" r="4.1"/><circle cx="499.5" cy="285.3" r="4.1"/><circle cx="483.7" cy="312.4" r="4.1"/><circle cx="507.5" cy="305.4" r="4.1"/><circle cx="513.6" cy="304.5" r="4.1"/><circle cx="521.5" cy="287.7" r="4.1"/><circle cx="526.1" cy="285.9" r="4.1"/><circle cx="524.5" cy="295.4" r="4.1"/><circle cx="540.7" cy="290.5" r="4.1"/><circle cx="541.6" cy="291.1" r="4.1"/><circle cx="545.3" cy="284.7" r="4.1"/><circle cx="526.7" cy="318.2" r="4.1"/><circle cx="535.5" cy="329.5" r="4.1"/><circle cx="481.6" cy="360.3" r="4.1"/><circle cx="556.2" cy="359.4" r="4.1"/><circle cx="575.5" cy="338.3" r="4.1"/><circle cx="598.3" cy="345.4" r="4.1"/><circle cx="562.3" cy="284.4" r="4.1"/><circle cx="591.6" cy="287.7" r="4.1"/><circle cx="592.5" cy="291.1" r="4.1"/><circle cx="606.9" cy="288.7" r="4.1"/><circle cx="610.8" cy="286.8" r="4.1"/><circle cx="625.8" cy="292.0" r="4.1"/><circle cx="629.7" cy="286.2" r="4.1"/><circle cx="640.4" cy="290.5" r="4.1"/><circle cx="647.4" cy="293.8" r="4.1"/><circle cx="648.0" cy="295.7" r="4.1"/><circle cx="653.8" cy="287.7" r="4.1"/><circle cx="660.8" cy="297.5" r="4.1"/><circle cx="617.5" cy="306.3" r="4.1"/><circle cx="624.5" cy="304.5" r="4.1"/><circle cx="609.6" cy="315.2" r="4.1"/><circle cx="617.8" cy="315.2" r="4.1"/><circle cx="616.3" cy="326.2" r="4.1"/><circle cx="618.4" cy="334.1" r="4.1"/><circle cx="644.4" cy="358.5" r="4.1"/><circle cx="669.4" cy="387.1" r="4.1"/><circle cx="678.5" cy="294.4" r="4.1"/><circle cx="688.6" cy="303.9" r="4.1"/><circle cx="691.6" cy="312.7" r="4.1"/><circle cx="705.6" cy="298.4" r="4.1"/><circle cx="718.4" cy="290.5" r="4.1"/><circle cx="727.3" cy="290.5" r="4.1"/><circle cx="717.5" cy="318.2" r="4.1"/><circle cx="677.6" cy="331.3" r="4.1"/><circle cx="713.6" cy="333.5" r="4.1"/><circle cx="756.6" cy="306.6" r="4.1"/><circle cx="753.2" cy="310.6" r="4.1"/><circle cx="779.4" cy="288.0" r="4.1"/><circle cx="782.5" cy="285.3" r="4.1"/><circle cx="800.5" cy="309.4" r="4.1"/><circle cx="847.4" cy="315.5" r="4.1"/><circle cx="675.8" cy="284.4" r="4.1"/><circle cx="792.4" cy="503.3" r="4.1"/><circle cx="113.3" cy="145.1" r="4.1"/><circle cx="117.0" cy="141.2" r="4.1"/><circle cx="152.6" cy="147.4" r="4.1"/><circle cx="183.3" cy="145.5" r="4.1"/><circle cx="173.3" cy="155.5" r="4.1"/><circle cx="212.4" cy="140.6" r="4.1"/><circle cx="209.4" cy="152.6" r="4.1"/><circle cx="199.6" cy="157.7" r="4.1"/><circle cx="227.5" cy="148.1" r="4.1"/><circle cx="230.5" cy="159.6" r="4.1"/><circle cx="240.5" cy="161.5" r="4.1"/><circle cx="248.2" cy="155.1" r="4.1"/><circle cx="201.3" cy="169.6" r="4.1"/><circle cx="215.6" cy="170.5" r="4.1"/><circle cx="264.4" cy="155.1" r="4.1"/><circle cx="265.5" cy="160.0" r="4.1"/><circle cx="271.3" cy="165.4" r="4.1"/><circle cx="281.9" cy="155.5" r="4.1"/><circle cx="287.5" cy="154.0" r="4.1"/><circle cx="293.9" cy="159.0" r="4.1"/><circle cx="296.4" cy="164.3" r="4.1"/><circle cx="306.0" cy="147.6" r="4.1"/><circle cx="307.1" cy="145.9" r="4.1"/><circle cx="305.0" cy="160.4" r="4.1"/><circle cx="309.7" cy="153.6" r="4.1"/><circle cx="231.6" cy="171.8" r="4.1"/><circle cx="245.6" cy="170.5" r="4.1"/><circle cx="157.3" cy="171.1" r="4.1"/><circle cx="164.1" cy="171.8" r="4.1"/><circle cx="283.6" cy="171.1" r="4.1"/><circle cx="113.3" cy="166.8" r="4.1"/><circle cx="113.3" cy="171.1" r="4.1"/><circle cx="750.3" cy="142.3" r="4.1"/><circle cx="749.1" cy="150.4" r="4.1"/><circle cx="753.3" cy="151.5" r="4.1"/><circle cx="765.7" cy="153.4" r="4.1"/><circle cx="767.4" cy="152.3" r="4.1"/><circle cx="755.5" cy="157.9" r="4.1"/><circle cx="748.6" cy="159.4" r="4.1"/><circle cx="741.8" cy="160.0" r="4.1"/><circle cx="764.6" cy="161.1" r="4.1"/><circle cx="783.9" cy="163.0" r="4.1"/><circle cx="744.8" cy="165.8" r="4.1"/><circle cx="792.4" cy="165.8" r="4.1"/><circle cx="779.6" cy="167.3" r="4.1"/><circle cx="760.4" cy="167.9" r="4.1"/><circle cx="773.2" cy="169.0" r="4.1"/><circle cx="744.4" cy="169.6" r="4.1"/><circle cx="800.5" cy="153.4" r="4.1"/><circle cx="807.5" cy="150.4" r="4.1"/><circle cx="826.5" cy="147.4" r="4.1"/><circle cx="855.6" cy="146.6" r="4.1"/><circle cx="863.5" cy="152.6" r="4.1"/><circle cx="851.5" cy="159.6" r="4.1"/><circle cx="805.4" cy="166.0" r="4.1"/><circle cx="815.2" cy="169.4" r="4.1"/><circle cx="911.5" cy="149.3" r="4.1"/><circle cx="900.4" cy="163.2" r="4.1"/><circle cx="892.7" cy="165.4" r="4.1"/><circle cx="917.7" cy="166.4" r="4.1"/><circle cx="919.8" cy="166.4" r="4.1"/><circle cx="933.2" cy="165.8" r="4.1"/><circle cx="933.2" cy="166.8" r="4.1"/><circle cx="829.3" cy="171.1" r="4.1"/><circle cx="859.6" cy="171.1" r="4.1"/><circle cx="850.4" cy="169.0" r="4.1"/><circle cx="888.9" cy="171.8" r="4.1"/><circle cx="823.3" cy="171.8" r="4.1"/><circle cx="794.5" cy="170.1" r="4.1"/><circle cx="113.3" cy="234.9" r="4.1"/><circle cx="113.3" cy="240.8" r="4.1"/><circle cx="113.3" cy="246.8" r="4.1"/><circle cx="113.3" cy="257.5" r="4.1"/><circle cx="113.3" cy="260.0" r="4.1"/><circle cx="113.3" cy="266.0" r="4.1"/><circle cx="120.8" cy="241.5" r="4.1"/><circle cx="132.5" cy="265.6" r="4.1"/><circle cx="153.5" cy="234.4" r="4.1"/><circle cx="153.5" cy="247.7" r="4.1"/><circle cx="168.4" cy="237.6" r="4.1"/><circle cx="177.4" cy="240.8" r="4.1"/><circle cx="179.5" cy="233.4" r="4.1"/><circle cx="189.5" cy="250.4" r="4.1"/><circle cx="193.6" cy="242.5" r="4.1"/><circle cx="197.8" cy="240.8" r="4.1"/><circle cx="197.8" cy="246.4" r="4.1"/><circle cx="202.5" cy="279.3" r="4.1"/><circle cx="208.5" cy="234.9" r="4.1"/><circle cx="215.6" cy="237.6" r="4.1"/><circle cx="217.3" cy="246.8" r="4.1"/><circle cx="229.4" cy="234.4" r="4.1"/><circle cx="233.5" cy="240.4" r="4.1"/><circle cx="235.6" cy="242.5" r="4.1"/><circle cx="236.7" cy="245.5" r="4.1"/><circle cx="238.4" cy="250.9" r="4.1"/><circle cx="242.2" cy="259.4" r="4.1"/><circle cx="246.3" cy="259.0" r="4.1"/><circle cx="245.6" cy="239.8" r="4.1"/><circle cx="257.0" cy="238.7" r="4.1"/><circle cx="258.5" cy="240.4" r="4.1"/><circle cx="262.3" cy="242.5" r="4.1"/><circle cx="262.7" cy="246.8" r="4.1"/><circle cx="262.3" cy="249.4" r="4.1"/><circle cx="272.5" cy="245.5" r="4.1"/><circle cx="275.1" cy="236.1" r="4.1"/><circle cx="279.8" cy="241.9" r="4.1"/><circle cx="283.2" cy="235.5" r="4.1"/><circle cx="287.5" cy="247.7" r="4.1"/><circle cx="289.0" cy="251.9" r="4.1"/><circle cx="292.2" cy="253.0" r="4.1"/><circle cx="293.2" cy="241.3" r="4.1"/><circle cx="294.7" cy="257.9" r="4.1"/><circle cx="296.0" cy="260.0" r="4.1"/><circle cx="299.6" cy="263.9" r="4.1"/><circle cx="300.3" cy="245.1" r="4.1"/><circle cx="303.3" cy="250.4" r="4.1"/><circle cx="307.1" cy="259.4" r="4.1"/><circle cx="306.0" cy="240.8" r="4.1"/><circle cx="309.2" cy="248.3" r="4.1"/><circle cx="742.2" cy="240.8" r="4.1"/><circle cx="755.0" cy="240.4" r="4.1"/><circle cx="758.2" cy="250.4" r="4.1"/><circle cx="762.5" cy="247.2" r="4.1"/><circle cx="765.3" cy="255.3" r="4.1"/><circle cx="748.6" cy="273.5" r="4.1"/><circle cx="773.2" cy="250.4" r="4.1"/><circle cx="775.3" cy="247.2" r="4.1"/><circle cx="777.4" cy="241.9" r="4.1"/><circle cx="779.6" cy="245.1" r="4.1"/><circle cx="780.6" cy="253.6" r="4.1"/><circle cx="780.6" cy="256.8" r="4.1"/><circle cx="786.0" cy="239.8" r="4.1"/><circle cx="804.1" cy="239.8" r="4.1"/><circle cx="808.4" cy="246.8" r="4.1"/><circle cx="815.9" cy="245.5" r="4.1"/><circle cx="808.4" cy="263.7" r="4.1"/><circle cx="810.5" cy="236.6" r="4.1"/><circle cx="821.2" cy="236.6" r="4.1"/><circle cx="831.4" cy="243.4" r="4.1"/><circle cx="836.6" cy="241.9" r="4.1"/><circle cx="831.4" cy="271.6" r="4.1"/><circle cx="850.4" cy="241.3" r="4.1"/><circle cx="852.1" cy="248.3" r="4.1"/><circle cx="855.3" cy="247.7" r="4.1"/><circle cx="861.3" cy="242.3" r="4.1"/><circle cx="866.4" cy="254.1" r="4.1"/><circle cx="855.3" cy="274.6" r="4.1"/><circle cx="869.4" cy="265.6" r="4.1"/><circle cx="871.8" cy="236.1" r="4.1"/><circle cx="877.5" cy="256.8" r="4.1"/><circle cx="888.4" cy="244.7" r="4.1"/><circle cx="887.4" cy="236.6" r="4.1"/><circle cx="893.3" cy="261.5" r="4.1"/><circle cx="897.6" cy="256.4" r="4.1"/><circle cx="908.7" cy="246.6" r="4.1"/><circle cx="911.5" cy="249.4" r="4.1"/><circle cx="921.5" cy="243.4" r="4.1"/><circle cx="921.5" cy="262.6" r="4.1"/><circle cx="914.7" cy="234.9" r="4.1"/><circle cx="933.2" cy="237.6" r="4.1"/><circle cx="933.2" cy="247.7" r="4.1"/><circle cx="933.2" cy="275.8" r="4.1"/><circle cx="740.1" cy="251.5" r="4.1"/><circle cx="740.1" cy="257.9" r="4.1"/><circle cx="208.5" cy="133.1" r="4.1"/><circle cx="772.5" cy="131.6" r="4.1"/><circle cx="408.4" cy="131.1" r="4.1"/><circle cx="497.6" cy="131.1" r="4.1"/><circle cx="516.6" cy="132.4" r="4.1"/><circle cx="448.2" cy="133.3" r="4.1"/><circle cx="421.5" cy="138.3" r="4.1"/><circle cx="434.2" cy="136.1" r="4.1"/><circle cx="440.8" cy="139.4" r="4.1"/><circle cx="448.2" cy="145.5" r="4.1"/><circle cx="429.8" cy="145.5" r="4.1"/><circle cx="460.9" cy="142.7" r="4.1"/><circle cx="455.8" cy="146.6" r="4.1"/><circle cx="479.4" cy="140.5" r="4.1"/><circle cx="479.4" cy="146.0" r="4.1"/><circle cx="503.5" cy="143.1" r="4.1"/><circle cx="502.4" cy="149.9" r="4.1"/><circle cx="520.9" cy="141.6" r="4.1"/><circle cx="516.6" cy="148.1" r="4.1"/><circle cx="384.4" cy="143.1" r="4.1"/><circle cx="389.9" cy="147.5" r="4.1"/><circle cx="396.4" cy="146.6" r="4.1"/><circle cx="404.5" cy="148.1" r="4.1"/><circle cx="414.5" cy="146.0" r="4.1"/><circle cx="414.5" cy="149.2" r="4.1"/><circle cx="424.4" cy="147.5" r="4.1"/><circle cx="424.2" cy="153.0" r="4.1"/><circle cx="353.8" cy="142.7" r="4.1"/><circle cx="354.5" cy="147.1" r="4.1"/><circle cx="361.4" cy="151.4" r="4.1"/><circle cx="336.3" cy="142.0" r="4.1"/><circle cx="327.6" cy="146.6" r="4.1"/><circle cx="310.1" cy="147.1" r="4.1"/><circle cx="470.7" cy="148.1" r="4.1"/><circle cx="469.6" cy="152.5" r="4.1"/><circle cx="476.2" cy="150.8" r="4.1"/><circle cx="481.6" cy="152.1" r="4.1"/><circle cx="412.8" cy="153.6" r="4.1"/><circle cx="543.7" cy="133.3" r="4.1"/><circle cx="566.6" cy="133.3" r="4.1"/><circle cx="599.4" cy="130.0" r="4.1"/><circle cx="637.6" cy="132.9" r="4.1"/><circle cx="705.4" cy="134.6" r="4.1"/><circle cx="720.7" cy="133.3" r="4.1"/><circle cx="724.4" cy="132.2" r="4.1"/><circle cx="553.5" cy="138.3" r="4.1"/><circle cx="557.9" cy="138.3" r="4.1"/><circle cx="573.2" cy="142.0" r="4.1"/><circle cx="525.1" cy="142.7" r="4.1"/><circle cx="533.8" cy="146.0" r="4.1"/><circle cx="552.4" cy="147.5" r="4.1"/><circle cx="571.0" cy="149.2" r="4.1"/><circle cx="576.4" cy="148.1" r="4.1"/><circle cx="578.6" cy="152.1" r="4.1"/><circle cx="557.9" cy="153.6" r="4.1"/><circle cx="600.5" cy="137.2" r="4.1"/><circle cx="601.6" cy="143.8" r="4.1"/><circle cx="607.7" cy="142.0" r="4.1"/><circle cx="596.1" cy="146.6" r="4.1"/><circle cx="612.5" cy="148.8" r="4.1"/><circle cx="599.4" cy="152.5" r="4.1"/><circle cx="621.2" cy="149.2" r="4.1"/><circle cx="638.7" cy="141.6" r="4.1"/><circle cx="644.8" cy="146.4" r="4.1"/><circle cx="648.6" cy="148.1" r="4.1"/><circle cx="634.3" cy="149.9" r="4.1"/><circle cx="640.9" cy="153.6" r="4.1"/><circle cx="659.5" cy="153.0" r="4.1"/><circle cx="673.7" cy="147.5" r="4.1"/><circle cx="693.3" cy="145.5" r="4.1"/><circle cx="701.0" cy="145.5" r="4.1"/><circle cx="712.4" cy="142.0" r="4.1"/><circle cx="716.3" cy="147.5" r="4.1"/><circle cx="710.8" cy="150.3" r="4.1"/><circle cx="732.7" cy="149.2" r="4.1"/><circle cx="693.3" cy="153.6" r="4.1"/><circle cx="619.1" cy="153.6" r="4.1"/><circle cx="627.8" cy="153.6" r="4.1"/><circle cx="323.6" cy="269.8" r="4.1"/><circle cx="351.6" cy="268.3" r="4.1"/><circle cx="361.4" cy="274.2" r="4.1"/><circle cx="359.3" cy="278.1" r="4.1"/><circle cx="353.8" cy="280.3" r="4.1"/><circle cx="374.6" cy="279.9" r="4.1"/><circle cx="381.1" cy="266.1" r="4.1"/><circle cx="396.4" cy="267.2" r="4.1"/><circle cx="399.2" cy="270.5" r="4.1"/><circle cx="396.4" cy="277.5" r="4.1"/><circle cx="407.3" cy="272.7" r="4.1"/><circle cx="412.8" cy="272.0" r="4.1"/><circle cx="411.7" cy="279.2" r="4.1"/><circle cx="427.0" cy="275.5" r="4.1"/><circle cx="439.0" cy="268.3" r="4.1"/><circle cx="442.3" cy="270.5" r="4.1"/><circle cx="446.7" cy="272.7" r="4.1"/><circle cx="449.9" cy="275.5" r="4.1"/><circle cx="454.3" cy="277.1" r="4.1"/><circle cx="458.7" cy="277.1" r="4.1"/><circle cx="460.9" cy="279.2" r="4.1"/><circle cx="442.3" cy="279.2" r="4.1"/><circle cx="470.7" cy="266.1" r="4.1"/><circle cx="473.5" cy="274.9" r="4.1"/><circle cx="487.1" cy="273.8" r="4.1"/><circle cx="486.0" cy="278.1" r="4.1"/><circle cx="491.5" cy="278.1" r="4.1"/><circle cx="496.9" cy="277.1" r="4.1"/><circle cx="502.4" cy="276.0" r="4.1"/><circle cx="511.1" cy="278.1" r="4.1"/><circle cx="507.8" cy="269.4" r="4.1"/><circle cx="502.4" cy="266.1" r="4.1"/><circle cx="520.9" cy="276.0" r="4.1"/><circle cx="523.1" cy="278.1" r="4.1"/><circle cx="533.8" cy="269.4" r="4.1"/><circle cx="530.6" cy="266.1" r="4.1"/><circle cx="548.0" cy="268.3" r="4.1"/><circle cx="553.5" cy="269.4" r="4.1"/><circle cx="554.6" cy="278.1" r="4.1"/><circle cx="527.3" cy="277.1" r="4.1"/><circle cx="576.4" cy="266.1" r="4.1"/><circle cx="577.5" cy="276.4" r="4.1"/><circle cx="581.9" cy="278.1" r="4.1"/><circle cx="590.6" cy="273.8" r="4.1"/><circle cx="592.8" cy="279.2" r="4.1"/><circle cx="596.1" cy="277.1" r="4.1"/><circle cx="584.1" cy="266.1" r="4.1"/><circle cx="601.6" cy="267.2" r="4.1"/><circle cx="607.0" cy="266.1" r="4.1"/><circle cx="613.6" cy="276.0" r="4.1"/><circle cx="613.6" cy="279.2" r="4.1"/><circle cx="624.5" cy="266.1" r="4.1"/><circle cx="634.3" cy="271.2" r="4.1"/><circle cx="636.5" cy="274.9" r="4.1"/><circle cx="644.2" cy="278.1" r="4.1"/><circle cx="645.3" cy="272.7" r="4.1"/><circle cx="644.8" cy="266.1" r="4.1"/><circle cx="655.1" cy="270.5" r="4.1"/><circle cx="656.2" cy="277.1" r="4.1"/><circle cx="651.8" cy="266.1" r="4.1"/><circle cx="635.4" cy="282.5" r="4.1"/><circle cx="671.1" cy="275.5" r="4.1"/><circle cx="676.3" cy="278.1" r="4.1"/><circle cx="692.2" cy="269.0" r="4.1"/><circle cx="692.9" cy="278.1" r="4.1"/><circle cx="699.9" cy="272.7" r="4.1"/><circle cx="703.2" cy="277.1" r="4.1"/><circle cx="710.8" cy="271.2" r="4.1"/><circle cx="711.9" cy="277.1" r="4.1"/><circle cx="733.8" cy="278.8" r="4.1"/></g>
<polygon points="113.5,207.0 523.5,206.2 933.5,204.2 933.5,207.0 523.5,207.4 113.5,209.2" fill="#4c72b0" fill-opacity=".15"/>
<line x1="113.5" y1="208.0" x2="933.5" y2="205.4" stroke="#4c72b0" stroke-width="1.45" stroke-linecap="square"/>
<rect x="72.5" y="32.0" width="902.0" height="492.79999999999995" fill="none" stroke="#cccccc" stroke-width="1.74"/>
<g font-size="16px"><text transform="translate(113.7,550.4) scale(.955,1)" text-anchor="middle">−3</text><text transform="translate(250.4,550.4) scale(.955,1)" text-anchor="middle">−2</text><text transform="translate(387.0,550.4) scale(.955,1)" text-anchor="middle">−1</text><text transform="translate(523.7,550.4) scale(.955,1)" text-anchor="middle">0</text><text transform="translate(660.4,550.4) scale(.955,1)" text-anchor="middle">1</text><text transform="translate(797.0,550.4) scale(.955,1)" text-anchor="middle">2</text><text transform="translate(933.7,550.4) scale(.955,1)" text-anchor="middle">3</text><text transform="translate(58.0,62.8) scale(.955,1)" text-anchor="end">20</text><text transform="translate(58.6,138.2) scale(.955,1)" text-anchor="end">10</text><text transform="translate(59.6,213.8) scale(.955,1)" text-anchor="end">0</text><text transform="translate(58.9,289.2) scale(.955,1)" text-anchor="end">−10</text><text transform="translate(58.9,364.8) scale(.955,1)" text-anchor="end">−20</text><text transform="translate(58.9,440.2) scale(.955,1)" text-anchor="end">−30</text><text transform="translate(58.9,515.8) scale(.955,1)" text-anchor="end">−40</text></g>
<text x="522.7" y="23.8" font-size="19.44px" text-anchor="middle">FXVTREND_Z3 and FXXR_VT10 from 2002-02-28 to 2023-05-31</text>
<text x="523.0" y="571.4" font-size="16.67px" text-anchor="middle">FXVTREND_Z3</text>
<text transform="translate(23.3,280.4) rotate(-90)" font-size="16.67px" text-anchor="middle">FXXR_VT10</text>
<g>
<rect x="90.6" y="426.9" width="360.79999999999995" height="88.60000000000002" fill="#fff" stroke="#161616" stroke-width="1.25"/>
<line x1="90.6" y1="471.2" x2="451.4" y2="471.2" stroke="#161616" stroke-width="1.25"/>
<line x1="271.5" y1="426.9" x2="271.5" y2="515.5" stroke="#161616" stroke-width="1.25"/>
<g font-size="16.67px" text-anchor="middle">
<text x="181.1" y="444.3">Correlation</text>
<text x="181.1" y="462.3">coefficient</text>
<text x="361.4" y="444.3">Probability</text>
<text x="361.4" y="462.3">of significance</text>
<text x="181.1" y="497.4">0.017</text>
<text x="361.4" y="497.4">0.969</text>
</g></g>
</svg>
</body></html>
